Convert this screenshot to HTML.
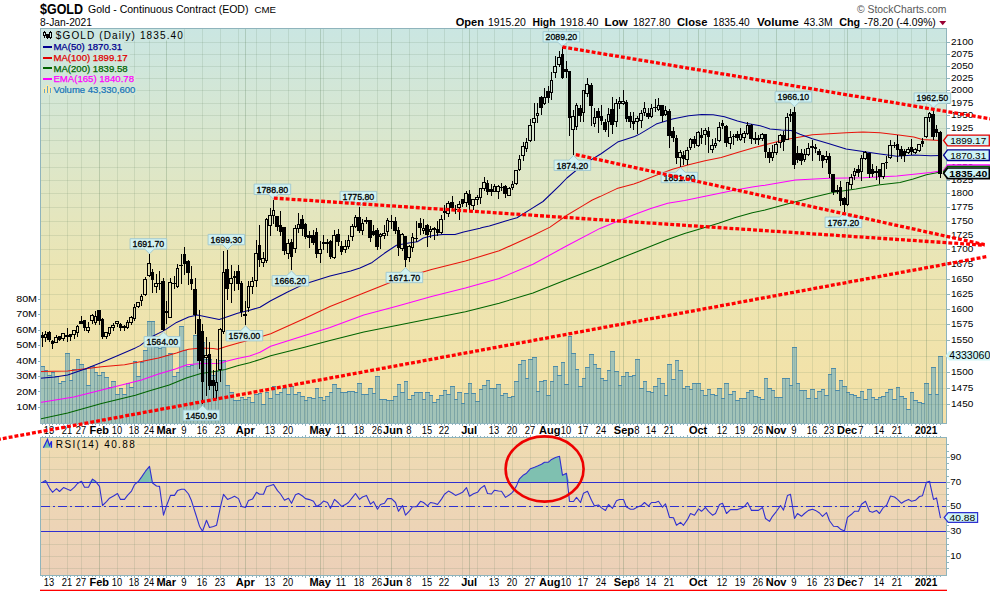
<!DOCTYPE html>
<html><head><meta charset="utf-8"><title>$GOLD</title>
<style>
html,body{margin:0;padding:0;background:#fff;}
body{width:990px;height:591px;overflow:hidden;font-family:"Liberation Sans",sans-serif;}
svg{display:block;font-family:"Liberation Sans",sans-serif;}
.b{font-weight:bold}
</style></head><body>
<svg width="990" height="591" viewBox="0 0 990 591">
<defs>
<linearGradient id="bg" gradientUnits="userSpaceOnUse" x1="0" y1="28" x2="0" y2="575">
<stop offset="0" stop-color="#cae6e2"/>
<stop offset="0.22" stop-color="#dbe7cc"/>
<stop offset="0.45" stop-color="#ece5b2"/>
<stop offset="0.70" stop-color="#f4e1a6"/>
<stop offset="0.745" stop-color="#efdcb0"/>
<stop offset="0.80" stop-color="#eed9b4"/>
<stop offset="1" stop-color="#ecd0b8"/>
</linearGradient>
<clipPath id="cm"><rect x="40" y="28" width="907" height="396"/></clipPath>
<clipPath id="cr"><rect x="40" y="437" width="907" height="139"/></clipPath>
</defs>
<rect x="0" y="0" width="990" height="591" fill="#ffffff"/>

<rect x="40" y="28" width="907" height="396" fill="url(#bg)"/>
<rect x="40" y="437" width="907" height="139" fill="url(#bg)"/>
<g shape-rendering="crispEdges" clip-path="url(#cm)">
<rect x="40" y="366" width="5" height="58" fill="#a2c3b8"/>
<rect x="44" y="370" width="4" height="54" fill="#a2c3b8"/>
<rect x="47" y="375" width="5" height="49" fill="#a2c3b8"/>
<rect x="51" y="372" width="4" height="52" fill="#a2c3b8"/>
<rect x="54" y="376" width="5" height="48" fill="#a2c3b8"/>
<rect x="58" y="383" width="4" height="41" fill="#a2c3b8"/>
<rect x="61" y="381" width="5" height="43" fill="#a2c3b8"/>
<rect x="65" y="353" width="5" height="71" fill="#a2c3b8"/>
<rect x="69" y="380" width="4" height="44" fill="#a2c3b8"/>
<rect x="72" y="369" width="5" height="55" fill="#a2c3b8"/>
<rect x="76" y="359" width="4" height="65" fill="#a2c3b8"/>
<rect x="79" y="364" width="5" height="60" fill="#a2c3b8"/>
<rect x="83" y="369" width="4" height="55" fill="#a2c3b8"/>
<rect x="86" y="385" width="5" height="39" fill="#a2c3b8"/>
<rect x="90" y="366" width="5" height="58" fill="#a2c3b8"/>
<rect x="94" y="372" width="4" height="52" fill="#a2c3b8"/>
<rect x="97" y="375" width="5" height="49" fill="#a2c3b8"/>
<rect x="101" y="372" width="4" height="52" fill="#a2c3b8"/>
<rect x="104" y="377" width="5" height="47" fill="#a2c3b8"/>
<rect x="108" y="387" width="4" height="37" fill="#a2c3b8"/>
<rect x="111" y="381" width="5" height="43" fill="#a2c3b8"/>
<rect x="115" y="394" width="5" height="30" fill="#a2c3b8"/>
<rect x="119" y="388" width="4" height="36" fill="#a2c3b8"/>
<rect x="122" y="394" width="5" height="30" fill="#a2c3b8"/>
<rect x="126" y="383" width="4" height="41" fill="#a2c3b8"/>
<rect x="129" y="387" width="5" height="37" fill="#a2c3b8"/>
<rect x="133" y="361" width="4" height="63" fill="#a2c3b8"/>
<rect x="136" y="376" width="5" height="48" fill="#a2c3b8"/>
<rect x="140" y="362" width="4" height="62" fill="#a2c3b8"/>
<rect x="143" y="350" width="5" height="74" fill="#a2c3b8"/>
<rect x="147" y="321" width="5" height="103" fill="#a2c3b8"/>
<rect x="151" y="321" width="4" height="103" fill="#a2c3b8"/>
<rect x="154" y="347" width="5" height="77" fill="#a2c3b8"/>
<rect x="158" y="348" width="4" height="76" fill="#a2c3b8"/>
<rect x="161" y="347" width="5" height="77" fill="#a2c3b8"/>
<rect x="165" y="355" width="4" height="69" fill="#a2c3b8"/>
<rect x="168" y="353" width="5" height="71" fill="#a2c3b8"/>
<rect x="172" y="376" width="5" height="48" fill="#a2c3b8"/>
<rect x="176" y="372" width="4" height="52" fill="#a2c3b8"/>
<rect x="179" y="326" width="5" height="98" fill="#a2c3b8"/>
<rect x="183" y="350" width="4" height="74" fill="#a2c3b8"/>
<rect x="186" y="366" width="5" height="58" fill="#a2c3b8"/>
<rect x="190" y="365" width="4" height="59" fill="#a2c3b8"/>
<rect x="193" y="335" width="5" height="89" fill="#a2c3b8"/>
<rect x="197" y="332" width="5" height="92" fill="#a2c3b8"/>
<rect x="201" y="342" width="4" height="82" fill="#a2c3b8"/>
<rect x="204" y="359" width="5" height="65" fill="#a2c3b8"/>
<rect x="208" y="359" width="4" height="65" fill="#a2c3b8"/>
<rect x="211" y="375" width="5" height="49" fill="#a2c3b8"/>
<rect x="215" y="371" width="4" height="53" fill="#a2c3b8"/>
<rect x="218" y="360" width="5" height="64" fill="#a2c3b8"/>
<rect x="222" y="360" width="4" height="64" fill="#a2c3b8"/>
<rect x="225" y="385" width="5" height="39" fill="#a2c3b8"/>
<rect x="229" y="392" width="5" height="32" fill="#a2c3b8"/>
<rect x="233" y="400" width="4" height="24" fill="#a2c3b8"/>
<rect x="236" y="400" width="5" height="24" fill="#a2c3b8"/>
<rect x="240" y="397" width="4" height="27" fill="#a2c3b8"/>
<rect x="243" y="399" width="5" height="25" fill="#a2c3b8"/>
<rect x="247" y="397" width="4" height="27" fill="#a2c3b8"/>
<rect x="250" y="402" width="5" height="22" fill="#a2c3b8"/>
<rect x="254" y="394" width="5" height="30" fill="#a2c3b8"/>
<rect x="258" y="393" width="4" height="31" fill="#a2c3b8"/>
<rect x="261" y="404" width="5" height="20" fill="#a2c3b8"/>
<rect x="265" y="392" width="4" height="32" fill="#a2c3b8"/>
<rect x="268" y="398" width="5" height="26" fill="#a2c3b8"/>
<rect x="272" y="386" width="4" height="38" fill="#a2c3b8"/>
<rect x="275" y="394" width="5" height="30" fill="#a2c3b8"/>
<rect x="279" y="392" width="4" height="32" fill="#a2c3b8"/>
<rect x="282" y="388" width="5" height="36" fill="#a2c3b8"/>
<rect x="286" y="394" width="5" height="30" fill="#a2c3b8"/>
<rect x="290" y="386" width="4" height="38" fill="#a2c3b8"/>
<rect x="293" y="394" width="5" height="30" fill="#a2c3b8"/>
<rect x="297" y="392" width="4" height="32" fill="#a2c3b8"/>
<rect x="300" y="396" width="5" height="28" fill="#a2c3b8"/>
<rect x="304" y="400" width="4" height="24" fill="#a2c3b8"/>
<rect x="307" y="397" width="5" height="27" fill="#a2c3b8"/>
<rect x="311" y="398" width="5" height="26" fill="#a2c3b8"/>
<rect x="315" y="388" width="4" height="36" fill="#a2c3b8"/>
<rect x="318" y="397" width="5" height="27" fill="#a2c3b8"/>
<rect x="322" y="400" width="4" height="24" fill="#a2c3b8"/>
<rect x="325" y="396" width="5" height="28" fill="#a2c3b8"/>
<rect x="329" y="392" width="4" height="32" fill="#a2c3b8"/>
<rect x="332" y="384" width="5" height="40" fill="#a2c3b8"/>
<rect x="336" y="388" width="5" height="36" fill="#a2c3b8"/>
<rect x="340" y="392" width="4" height="32" fill="#a2c3b8"/>
<rect x="343" y="392" width="5" height="32" fill="#a2c3b8"/>
<rect x="347" y="391" width="4" height="33" fill="#a2c3b8"/>
<rect x="350" y="391" width="5" height="33" fill="#a2c3b8"/>
<rect x="354" y="392" width="4" height="32" fill="#a2c3b8"/>
<rect x="357" y="383" width="5" height="41" fill="#a2c3b8"/>
<rect x="361" y="394" width="4" height="30" fill="#a2c3b8"/>
<rect x="364" y="394" width="5" height="30" fill="#a2c3b8"/>
<rect x="368" y="388" width="5" height="36" fill="#a2c3b8"/>
<rect x="372" y="393" width="4" height="31" fill="#a2c3b8"/>
<rect x="375" y="376" width="5" height="48" fill="#a2c3b8"/>
<rect x="379" y="399" width="4" height="25" fill="#a2c3b8"/>
<rect x="382" y="399" width="5" height="25" fill="#a2c3b8"/>
<rect x="386" y="400" width="4" height="24" fill="#a2c3b8"/>
<rect x="389" y="400" width="5" height="24" fill="#a2c3b8"/>
<rect x="393" y="396" width="5" height="28" fill="#a2c3b8"/>
<rect x="397" y="384" width="4" height="40" fill="#a2c3b8"/>
<rect x="400" y="392" width="5" height="32" fill="#a2c3b8"/>
<rect x="404" y="381" width="4" height="43" fill="#a2c3b8"/>
<rect x="407" y="399" width="5" height="25" fill="#a2c3b8"/>
<rect x="411" y="395" width="4" height="29" fill="#a2c3b8"/>
<rect x="414" y="392" width="5" height="32" fill="#a2c3b8"/>
<rect x="418" y="392" width="5" height="32" fill="#a2c3b8"/>
<rect x="422" y="399" width="4" height="25" fill="#a2c3b8"/>
<rect x="425" y="392" width="5" height="32" fill="#a2c3b8"/>
<rect x="429" y="395" width="4" height="29" fill="#a2c3b8"/>
<rect x="432" y="402" width="5" height="22" fill="#a2c3b8"/>
<rect x="436" y="399" width="4" height="25" fill="#a2c3b8"/>
<rect x="439" y="395" width="5" height="29" fill="#a2c3b8"/>
<rect x="443" y="390" width="4" height="34" fill="#a2c3b8"/>
<rect x="446" y="394" width="5" height="30" fill="#a2c3b8"/>
<rect x="450" y="386" width="5" height="38" fill="#a2c3b8"/>
<rect x="454" y="399" width="4" height="25" fill="#a2c3b8"/>
<rect x="457" y="392" width="5" height="32" fill="#a2c3b8"/>
<rect x="461" y="403" width="4" height="21" fill="#a2c3b8"/>
<rect x="464" y="393" width="5" height="31" fill="#a2c3b8"/>
<rect x="468" y="383" width="4" height="41" fill="#a2c3b8"/>
<rect x="471" y="393" width="5" height="31" fill="#a2c3b8"/>
<rect x="475" y="401" width="5" height="23" fill="#a2c3b8"/>
<rect x="479" y="389" width="4" height="35" fill="#a2c3b8"/>
<rect x="482" y="385" width="5" height="39" fill="#a2c3b8"/>
<rect x="486" y="380" width="4" height="44" fill="#a2c3b8"/>
<rect x="489" y="388" width="5" height="36" fill="#a2c3b8"/>
<rect x="493" y="388" width="4" height="36" fill="#a2c3b8"/>
<rect x="496" y="384" width="5" height="40" fill="#a2c3b8"/>
<rect x="500" y="395" width="4" height="29" fill="#a2c3b8"/>
<rect x="503" y="393" width="5" height="31" fill="#a2c3b8"/>
<rect x="507" y="397" width="5" height="27" fill="#a2c3b8"/>
<rect x="511" y="396" width="4" height="28" fill="#a2c3b8"/>
<rect x="514" y="381" width="5" height="43" fill="#a2c3b8"/>
<rect x="518" y="364" width="4" height="60" fill="#a2c3b8"/>
<rect x="521" y="360" width="5" height="64" fill="#a2c3b8"/>
<rect x="525" y="378" width="4" height="46" fill="#a2c3b8"/>
<rect x="528" y="359" width="5" height="65" fill="#a2c3b8"/>
<rect x="532" y="357" width="5" height="67" fill="#a2c3b8"/>
<rect x="536" y="391" width="4" height="33" fill="#a2c3b8"/>
<rect x="539" y="381" width="5" height="43" fill="#a2c3b8"/>
<rect x="543" y="380" width="4" height="44" fill="#a2c3b8"/>
<rect x="546" y="395" width="5" height="29" fill="#a2c3b8"/>
<rect x="550" y="381" width="4" height="43" fill="#a2c3b8"/>
<rect x="553" y="366" width="5" height="58" fill="#a2c3b8"/>
<rect x="557" y="375" width="5" height="49" fill="#a2c3b8"/>
<rect x="561" y="362" width="4" height="62" fill="#a2c3b8"/>
<rect x="564" y="384" width="5" height="40" fill="#a2c3b8"/>
<rect x="568" y="336" width="4" height="88" fill="#a2c3b8"/>
<rect x="571" y="353" width="5" height="71" fill="#a2c3b8"/>
<rect x="575" y="369" width="4" height="55" fill="#a2c3b8"/>
<rect x="578" y="386" width="5" height="38" fill="#a2c3b8"/>
<rect x="582" y="378" width="4" height="46" fill="#a2c3b8"/>
<rect x="585" y="367" width="5" height="57" fill="#a2c3b8"/>
<rect x="589" y="354" width="5" height="70" fill="#a2c3b8"/>
<rect x="593" y="364" width="4" height="60" fill="#a2c3b8"/>
<rect x="596" y="368" width="5" height="56" fill="#a2c3b8"/>
<rect x="600" y="378" width="4" height="46" fill="#a2c3b8"/>
<rect x="603" y="380" width="5" height="44" fill="#a2c3b8"/>
<rect x="607" y="370" width="4" height="54" fill="#a2c3b8"/>
<rect x="610" y="351" width="5" height="73" fill="#a2c3b8"/>
<rect x="614" y="371" width="5" height="53" fill="#a2c3b8"/>
<rect x="618" y="385" width="4" height="39" fill="#a2c3b8"/>
<rect x="621" y="376" width="5" height="48" fill="#a2c3b8"/>
<rect x="625" y="372" width="4" height="52" fill="#a2c3b8"/>
<rect x="628" y="376" width="5" height="48" fill="#a2c3b8"/>
<rect x="632" y="375" width="4" height="49" fill="#a2c3b8"/>
<rect x="635" y="359" width="5" height="65" fill="#a2c3b8"/>
<rect x="639" y="388" width="5" height="36" fill="#a2c3b8"/>
<rect x="643" y="381" width="4" height="43" fill="#a2c3b8"/>
<rect x="646" y="391" width="5" height="33" fill="#a2c3b8"/>
<rect x="650" y="392" width="4" height="32" fill="#a2c3b8"/>
<rect x="653" y="386" width="5" height="38" fill="#a2c3b8"/>
<rect x="657" y="378" width="4" height="46" fill="#a2c3b8"/>
<rect x="660" y="383" width="5" height="41" fill="#a2c3b8"/>
<rect x="664" y="395" width="4" height="29" fill="#a2c3b8"/>
<rect x="667" y="364" width="5" height="60" fill="#a2c3b8"/>
<rect x="671" y="379" width="5" height="45" fill="#a2c3b8"/>
<rect x="675" y="360" width="4" height="64" fill="#a2c3b8"/>
<rect x="678" y="370" width="5" height="54" fill="#a2c3b8"/>
<rect x="682" y="388" width="4" height="36" fill="#a2c3b8"/>
<rect x="685" y="386" width="5" height="38" fill="#a2c3b8"/>
<rect x="689" y="389" width="4" height="35" fill="#a2c3b8"/>
<rect x="692" y="383" width="5" height="41" fill="#a2c3b8"/>
<rect x="696" y="383" width="5" height="41" fill="#a2c3b8"/>
<rect x="700" y="390" width="4" height="34" fill="#a2c3b8"/>
<rect x="703" y="395" width="5" height="29" fill="#a2c3b8"/>
<rect x="707" y="389" width="4" height="35" fill="#a2c3b8"/>
<rect x="710" y="394" width="5" height="30" fill="#a2c3b8"/>
<rect x="714" y="395" width="4" height="29" fill="#a2c3b8"/>
<rect x="717" y="388" width="5" height="36" fill="#a2c3b8"/>
<rect x="721" y="398" width="4" height="26" fill="#a2c3b8"/>
<rect x="724" y="383" width="5" height="41" fill="#a2c3b8"/>
<rect x="728" y="394" width="5" height="30" fill="#a2c3b8"/>
<rect x="732" y="391" width="4" height="33" fill="#a2c3b8"/>
<rect x="735" y="400" width="5" height="24" fill="#a2c3b8"/>
<rect x="739" y="398" width="4" height="26" fill="#a2c3b8"/>
<rect x="742" y="398" width="5" height="26" fill="#a2c3b8"/>
<rect x="746" y="392" width="4" height="32" fill="#a2c3b8"/>
<rect x="749" y="390" width="5" height="34" fill="#a2c3b8"/>
<rect x="753" y="396" width="5" height="28" fill="#a2c3b8"/>
<rect x="757" y="397" width="4" height="27" fill="#a2c3b8"/>
<rect x="760" y="399" width="5" height="25" fill="#a2c3b8"/>
<rect x="764" y="378" width="4" height="46" fill="#a2c3b8"/>
<rect x="767" y="388" width="5" height="36" fill="#a2c3b8"/>
<rect x="771" y="390" width="4" height="34" fill="#a2c3b8"/>
<rect x="774" y="397" width="5" height="27" fill="#a2c3b8"/>
<rect x="778" y="397" width="5" height="27" fill="#a2c3b8"/>
<rect x="782" y="378" width="4" height="46" fill="#a2c3b8"/>
<rect x="785" y="378" width="5" height="46" fill="#a2c3b8"/>
<rect x="789" y="385" width="4" height="39" fill="#a2c3b8"/>
<rect x="792" y="347" width="5" height="77" fill="#a2c3b8"/>
<rect x="796" y="383" width="4" height="41" fill="#a2c3b8"/>
<rect x="799" y="390" width="5" height="34" fill="#a2c3b8"/>
<rect x="803" y="390" width="4" height="34" fill="#a2c3b8"/>
<rect x="806" y="398" width="5" height="26" fill="#a2c3b8"/>
<rect x="810" y="389" width="5" height="35" fill="#a2c3b8"/>
<rect x="814" y="398" width="4" height="26" fill="#a2c3b8"/>
<rect x="817" y="391" width="5" height="33" fill="#a2c3b8"/>
<rect x="821" y="389" width="4" height="35" fill="#a2c3b8"/>
<rect x="824" y="395" width="5" height="29" fill="#a2c3b8"/>
<rect x="828" y="374" width="4" height="50" fill="#a2c3b8"/>
<rect x="831" y="368" width="5" height="56" fill="#a2c3b8"/>
<rect x="835" y="390" width="5" height="34" fill="#a2c3b8"/>
<rect x="839" y="380" width="4" height="44" fill="#a2c3b8"/>
<rect x="842" y="386" width="5" height="38" fill="#a2c3b8"/>
<rect x="846" y="392" width="4" height="32" fill="#a2c3b8"/>
<rect x="849" y="394" width="5" height="30" fill="#a2c3b8"/>
<rect x="853" y="395" width="4" height="29" fill="#a2c3b8"/>
<rect x="856" y="397" width="5" height="27" fill="#a2c3b8"/>
<rect x="860" y="391" width="4" height="33" fill="#a2c3b8"/>
<rect x="863" y="399" width="5" height="25" fill="#a2c3b8"/>
<rect x="867" y="389" width="5" height="35" fill="#a2c3b8"/>
<rect x="871" y="397" width="4" height="27" fill="#a2c3b8"/>
<rect x="874" y="399" width="5" height="25" fill="#a2c3b8"/>
<rect x="878" y="397" width="4" height="27" fill="#a2c3b8"/>
<rect x="881" y="396" width="5" height="28" fill="#a2c3b8"/>
<rect x="885" y="392" width="4" height="32" fill="#a2c3b8"/>
<rect x="888" y="389" width="5" height="35" fill="#a2c3b8"/>
<rect x="892" y="399" width="5" height="25" fill="#a2c3b8"/>
<rect x="896" y="387" width="4" height="37" fill="#a2c3b8"/>
<rect x="899" y="396" width="5" height="28" fill="#a2c3b8"/>
<rect x="903" y="398" width="4" height="26" fill="#a2c3b8"/>
<rect x="906" y="409" width="5" height="15" fill="#a2c3b8"/>
<rect x="910" y="392" width="4" height="32" fill="#a2c3b8"/>
<rect x="913" y="400" width="5" height="24" fill="#a2c3b8"/>
<rect x="917" y="402" width="5" height="22" fill="#a2c3b8"/>
<rect x="921" y="403" width="4" height="21" fill="#a2c3b8"/>
<rect x="924" y="383" width="5" height="41" fill="#a2c3b8"/>
<rect x="928" y="394" width="4" height="30" fill="#a2c3b8"/>
<rect x="931" y="367" width="5" height="57" fill="#a2c3b8"/>
<rect x="935" y="394" width="4" height="30" fill="#a2c3b8"/>
<rect x="938" y="356" width="5" height="68" fill="#a2c3b8"/>
<rect x="40" y="366" width="1" height="58" fill="#7da5a6"/>
<rect x="44" y="366" width="1" height="58" fill="#7da5a6"/>
<rect x="44" y="370" width="1" height="54" fill="#7da5a6"/>
<rect x="47" y="370" width="1" height="54" fill="#7da5a6"/>
<rect x="47" y="375" width="1" height="49" fill="#7da5a6"/>
<rect x="51" y="375" width="1" height="49" fill="#7da5a6"/>
<rect x="51" y="372" width="1" height="52" fill="#7da5a6"/>
<rect x="54" y="372" width="1" height="52" fill="#7da5a6"/>
<rect x="54" y="376" width="1" height="48" fill="#7da5a6"/>
<rect x="58" y="376" width="1" height="48" fill="#7da5a6"/>
<rect x="58" y="383" width="1" height="41" fill="#7da5a6"/>
<rect x="61" y="383" width="1" height="41" fill="#7da5a6"/>
<rect x="61" y="381" width="1" height="43" fill="#7da5a6"/>
<rect x="65" y="381" width="1" height="43" fill="#7da5a6"/>
<rect x="65" y="353" width="1" height="71" fill="#7da5a6"/>
<rect x="69" y="353" width="1" height="71" fill="#7da5a6"/>
<rect x="69" y="380" width="1" height="44" fill="#7da5a6"/>
<rect x="72" y="380" width="1" height="44" fill="#7da5a6"/>
<rect x="72" y="369" width="1" height="55" fill="#7da5a6"/>
<rect x="76" y="369" width="1" height="55" fill="#7da5a6"/>
<rect x="76" y="359" width="1" height="65" fill="#7da5a6"/>
<rect x="79" y="359" width="1" height="65" fill="#7da5a6"/>
<rect x="79" y="364" width="1" height="60" fill="#7da5a6"/>
<rect x="83" y="364" width="1" height="60" fill="#7da5a6"/>
<rect x="83" y="369" width="1" height="55" fill="#7da5a6"/>
<rect x="86" y="369" width="1" height="55" fill="#7da5a6"/>
<rect x="86" y="385" width="1" height="39" fill="#7da5a6"/>
<rect x="90" y="385" width="1" height="39" fill="#7da5a6"/>
<rect x="90" y="366" width="1" height="58" fill="#7da5a6"/>
<rect x="94" y="366" width="1" height="58" fill="#7da5a6"/>
<rect x="94" y="372" width="1" height="52" fill="#7da5a6"/>
<rect x="97" y="372" width="1" height="52" fill="#7da5a6"/>
<rect x="97" y="375" width="1" height="49" fill="#7da5a6"/>
<rect x="101" y="375" width="1" height="49" fill="#7da5a6"/>
<rect x="101" y="372" width="1" height="52" fill="#7da5a6"/>
<rect x="104" y="372" width="1" height="52" fill="#7da5a6"/>
<rect x="104" y="377" width="1" height="47" fill="#7da5a6"/>
<rect x="108" y="377" width="1" height="47" fill="#7da5a6"/>
<rect x="108" y="387" width="1" height="37" fill="#7da5a6"/>
<rect x="111" y="387" width="1" height="37" fill="#7da5a6"/>
<rect x="111" y="381" width="1" height="43" fill="#7da5a6"/>
<rect x="115" y="381" width="1" height="43" fill="#7da5a6"/>
<rect x="115" y="394" width="1" height="30" fill="#7da5a6"/>
<rect x="119" y="394" width="1" height="30" fill="#7da5a6"/>
<rect x="119" y="388" width="1" height="36" fill="#7da5a6"/>
<rect x="122" y="388" width="1" height="36" fill="#7da5a6"/>
<rect x="122" y="394" width="1" height="30" fill="#7da5a6"/>
<rect x="126" y="394" width="1" height="30" fill="#7da5a6"/>
<rect x="126" y="383" width="1" height="41" fill="#7da5a6"/>
<rect x="129" y="383" width="1" height="41" fill="#7da5a6"/>
<rect x="129" y="387" width="1" height="37" fill="#7da5a6"/>
<rect x="133" y="387" width="1" height="37" fill="#7da5a6"/>
<rect x="133" y="361" width="1" height="63" fill="#7da5a6"/>
<rect x="136" y="361" width="1" height="63" fill="#7da5a6"/>
<rect x="136" y="376" width="1" height="48" fill="#7da5a6"/>
<rect x="140" y="376" width="1" height="48" fill="#7da5a6"/>
<rect x="140" y="362" width="1" height="62" fill="#7da5a6"/>
<rect x="143" y="362" width="1" height="62" fill="#7da5a6"/>
<rect x="143" y="350" width="1" height="74" fill="#7da5a6"/>
<rect x="147" y="350" width="1" height="74" fill="#7da5a6"/>
<rect x="147" y="321" width="1" height="103" fill="#7da5a6"/>
<rect x="151" y="321" width="1" height="103" fill="#7da5a6"/>
<rect x="151" y="321" width="1" height="103" fill="#7da5a6"/>
<rect x="154" y="321" width="1" height="103" fill="#7da5a6"/>
<rect x="154" y="347" width="1" height="77" fill="#7da5a6"/>
<rect x="158" y="347" width="1" height="77" fill="#7da5a6"/>
<rect x="158" y="348" width="1" height="76" fill="#7da5a6"/>
<rect x="161" y="348" width="1" height="76" fill="#7da5a6"/>
<rect x="161" y="347" width="1" height="77" fill="#7da5a6"/>
<rect x="165" y="347" width="1" height="77" fill="#7da5a6"/>
<rect x="165" y="355" width="1" height="69" fill="#7da5a6"/>
<rect x="168" y="355" width="1" height="69" fill="#7da5a6"/>
<rect x="168" y="353" width="1" height="71" fill="#7da5a6"/>
<rect x="172" y="353" width="1" height="71" fill="#7da5a6"/>
<rect x="172" y="376" width="1" height="48" fill="#7da5a6"/>
<rect x="176" y="376" width="1" height="48" fill="#7da5a6"/>
<rect x="176" y="372" width="1" height="52" fill="#7da5a6"/>
<rect x="179" y="372" width="1" height="52" fill="#7da5a6"/>
<rect x="179" y="326" width="1" height="98" fill="#7da5a6"/>
<rect x="183" y="326" width="1" height="98" fill="#7da5a6"/>
<rect x="183" y="350" width="1" height="74" fill="#7da5a6"/>
<rect x="186" y="350" width="1" height="74" fill="#7da5a6"/>
<rect x="186" y="366" width="1" height="58" fill="#7da5a6"/>
<rect x="190" y="366" width="1" height="58" fill="#7da5a6"/>
<rect x="190" y="365" width="1" height="59" fill="#7da5a6"/>
<rect x="193" y="365" width="1" height="59" fill="#7da5a6"/>
<rect x="193" y="335" width="1" height="89" fill="#7da5a6"/>
<rect x="197" y="335" width="1" height="89" fill="#7da5a6"/>
<rect x="197" y="332" width="1" height="92" fill="#7da5a6"/>
<rect x="201" y="332" width="1" height="92" fill="#7da5a6"/>
<rect x="201" y="342" width="1" height="82" fill="#7da5a6"/>
<rect x="204" y="342" width="1" height="82" fill="#7da5a6"/>
<rect x="204" y="359" width="1" height="65" fill="#7da5a6"/>
<rect x="208" y="359" width="1" height="65" fill="#7da5a6"/>
<rect x="208" y="359" width="1" height="65" fill="#7da5a6"/>
<rect x="211" y="359" width="1" height="65" fill="#7da5a6"/>
<rect x="211" y="375" width="1" height="49" fill="#7da5a6"/>
<rect x="215" y="375" width="1" height="49" fill="#7da5a6"/>
<rect x="215" y="371" width="1" height="53" fill="#7da5a6"/>
<rect x="218" y="371" width="1" height="53" fill="#7da5a6"/>
<rect x="218" y="360" width="1" height="64" fill="#7da5a6"/>
<rect x="222" y="360" width="1" height="64" fill="#7da5a6"/>
<rect x="222" y="360" width="1" height="64" fill="#7da5a6"/>
<rect x="225" y="360" width="1" height="64" fill="#7da5a6"/>
<rect x="225" y="385" width="1" height="39" fill="#7da5a6"/>
<rect x="229" y="385" width="1" height="39" fill="#7da5a6"/>
<rect x="229" y="392" width="1" height="32" fill="#7da5a6"/>
<rect x="233" y="392" width="1" height="32" fill="#7da5a6"/>
<rect x="233" y="400" width="1" height="24" fill="#7da5a6"/>
<rect x="236" y="400" width="1" height="24" fill="#7da5a6"/>
<rect x="236" y="400" width="1" height="24" fill="#7da5a6"/>
<rect x="240" y="400" width="1" height="24" fill="#7da5a6"/>
<rect x="240" y="397" width="1" height="27" fill="#7da5a6"/>
<rect x="243" y="397" width="1" height="27" fill="#7da5a6"/>
<rect x="243" y="399" width="1" height="25" fill="#7da5a6"/>
<rect x="247" y="399" width="1" height="25" fill="#7da5a6"/>
<rect x="247" y="397" width="1" height="27" fill="#7da5a6"/>
<rect x="250" y="397" width="1" height="27" fill="#7da5a6"/>
<rect x="250" y="402" width="1" height="22" fill="#7da5a6"/>
<rect x="254" y="402" width="1" height="22" fill="#7da5a6"/>
<rect x="254" y="394" width="1" height="30" fill="#7da5a6"/>
<rect x="258" y="394" width="1" height="30" fill="#7da5a6"/>
<rect x="258" y="393" width="1" height="31" fill="#7da5a6"/>
<rect x="261" y="393" width="1" height="31" fill="#7da5a6"/>
<rect x="261" y="404" width="1" height="20" fill="#7da5a6"/>
<rect x="265" y="404" width="1" height="20" fill="#7da5a6"/>
<rect x="265" y="392" width="1" height="32" fill="#7da5a6"/>
<rect x="268" y="392" width="1" height="32" fill="#7da5a6"/>
<rect x="268" y="398" width="1" height="26" fill="#7da5a6"/>
<rect x="272" y="398" width="1" height="26" fill="#7da5a6"/>
<rect x="272" y="386" width="1" height="38" fill="#7da5a6"/>
<rect x="275" y="386" width="1" height="38" fill="#7da5a6"/>
<rect x="275" y="394" width="1" height="30" fill="#7da5a6"/>
<rect x="279" y="394" width="1" height="30" fill="#7da5a6"/>
<rect x="279" y="392" width="1" height="32" fill="#7da5a6"/>
<rect x="282" y="392" width="1" height="32" fill="#7da5a6"/>
<rect x="282" y="388" width="1" height="36" fill="#7da5a6"/>
<rect x="286" y="388" width="1" height="36" fill="#7da5a6"/>
<rect x="286" y="394" width="1" height="30" fill="#7da5a6"/>
<rect x="290" y="394" width="1" height="30" fill="#7da5a6"/>
<rect x="290" y="386" width="1" height="38" fill="#7da5a6"/>
<rect x="293" y="386" width="1" height="38" fill="#7da5a6"/>
<rect x="293" y="394" width="1" height="30" fill="#7da5a6"/>
<rect x="297" y="394" width="1" height="30" fill="#7da5a6"/>
<rect x="297" y="392" width="1" height="32" fill="#7da5a6"/>
<rect x="300" y="392" width="1" height="32" fill="#7da5a6"/>
<rect x="300" y="396" width="1" height="28" fill="#7da5a6"/>
<rect x="304" y="396" width="1" height="28" fill="#7da5a6"/>
<rect x="304" y="400" width="1" height="24" fill="#7da5a6"/>
<rect x="307" y="400" width="1" height="24" fill="#7da5a6"/>
<rect x="307" y="397" width="1" height="27" fill="#7da5a6"/>
<rect x="311" y="397" width="1" height="27" fill="#7da5a6"/>
<rect x="311" y="398" width="1" height="26" fill="#7da5a6"/>
<rect x="315" y="398" width="1" height="26" fill="#7da5a6"/>
<rect x="315" y="388" width="1" height="36" fill="#7da5a6"/>
<rect x="318" y="388" width="1" height="36" fill="#7da5a6"/>
<rect x="318" y="397" width="1" height="27" fill="#7da5a6"/>
<rect x="322" y="397" width="1" height="27" fill="#7da5a6"/>
<rect x="322" y="400" width="1" height="24" fill="#7da5a6"/>
<rect x="325" y="400" width="1" height="24" fill="#7da5a6"/>
<rect x="325" y="396" width="1" height="28" fill="#7da5a6"/>
<rect x="329" y="396" width="1" height="28" fill="#7da5a6"/>
<rect x="329" y="392" width="1" height="32" fill="#7da5a6"/>
<rect x="332" y="392" width="1" height="32" fill="#7da5a6"/>
<rect x="332" y="384" width="1" height="40" fill="#7da5a6"/>
<rect x="336" y="384" width="1" height="40" fill="#7da5a6"/>
<rect x="336" y="388" width="1" height="36" fill="#7da5a6"/>
<rect x="340" y="388" width="1" height="36" fill="#7da5a6"/>
<rect x="340" y="392" width="1" height="32" fill="#7da5a6"/>
<rect x="343" y="392" width="1" height="32" fill="#7da5a6"/>
<rect x="343" y="392" width="1" height="32" fill="#7da5a6"/>
<rect x="347" y="392" width="1" height="32" fill="#7da5a6"/>
<rect x="347" y="391" width="1" height="33" fill="#7da5a6"/>
<rect x="350" y="391" width="1" height="33" fill="#7da5a6"/>
<rect x="350" y="391" width="1" height="33" fill="#7da5a6"/>
<rect x="354" y="391" width="1" height="33" fill="#7da5a6"/>
<rect x="354" y="392" width="1" height="32" fill="#7da5a6"/>
<rect x="357" y="392" width="1" height="32" fill="#7da5a6"/>
<rect x="357" y="383" width="1" height="41" fill="#7da5a6"/>
<rect x="361" y="383" width="1" height="41" fill="#7da5a6"/>
<rect x="361" y="394" width="1" height="30" fill="#7da5a6"/>
<rect x="364" y="394" width="1" height="30" fill="#7da5a6"/>
<rect x="364" y="394" width="1" height="30" fill="#7da5a6"/>
<rect x="368" y="394" width="1" height="30" fill="#7da5a6"/>
<rect x="368" y="388" width="1" height="36" fill="#7da5a6"/>
<rect x="372" y="388" width="1" height="36" fill="#7da5a6"/>
<rect x="372" y="393" width="1" height="31" fill="#7da5a6"/>
<rect x="375" y="393" width="1" height="31" fill="#7da5a6"/>
<rect x="375" y="376" width="1" height="48" fill="#7da5a6"/>
<rect x="379" y="376" width="1" height="48" fill="#7da5a6"/>
<rect x="379" y="399" width="1" height="25" fill="#7da5a6"/>
<rect x="382" y="399" width="1" height="25" fill="#7da5a6"/>
<rect x="382" y="399" width="1" height="25" fill="#7da5a6"/>
<rect x="386" y="399" width="1" height="25" fill="#7da5a6"/>
<rect x="386" y="400" width="1" height="24" fill="#7da5a6"/>
<rect x="389" y="400" width="1" height="24" fill="#7da5a6"/>
<rect x="389" y="400" width="1" height="24" fill="#7da5a6"/>
<rect x="393" y="400" width="1" height="24" fill="#7da5a6"/>
<rect x="393" y="396" width="1" height="28" fill="#7da5a6"/>
<rect x="397" y="396" width="1" height="28" fill="#7da5a6"/>
<rect x="397" y="384" width="1" height="40" fill="#7da5a6"/>
<rect x="400" y="384" width="1" height="40" fill="#7da5a6"/>
<rect x="400" y="392" width="1" height="32" fill="#7da5a6"/>
<rect x="404" y="392" width="1" height="32" fill="#7da5a6"/>
<rect x="404" y="381" width="1" height="43" fill="#7da5a6"/>
<rect x="407" y="381" width="1" height="43" fill="#7da5a6"/>
<rect x="407" y="399" width="1" height="25" fill="#7da5a6"/>
<rect x="411" y="399" width="1" height="25" fill="#7da5a6"/>
<rect x="411" y="395" width="1" height="29" fill="#7da5a6"/>
<rect x="414" y="395" width="1" height="29" fill="#7da5a6"/>
<rect x="414" y="392" width="1" height="32" fill="#7da5a6"/>
<rect x="418" y="392" width="1" height="32" fill="#7da5a6"/>
<rect x="418" y="392" width="1" height="32" fill="#7da5a6"/>
<rect x="422" y="392" width="1" height="32" fill="#7da5a6"/>
<rect x="422" y="399" width="1" height="25" fill="#7da5a6"/>
<rect x="425" y="399" width="1" height="25" fill="#7da5a6"/>
<rect x="425" y="392" width="1" height="32" fill="#7da5a6"/>
<rect x="429" y="392" width="1" height="32" fill="#7da5a6"/>
<rect x="429" y="395" width="1" height="29" fill="#7da5a6"/>
<rect x="432" y="395" width="1" height="29" fill="#7da5a6"/>
<rect x="432" y="402" width="1" height="22" fill="#7da5a6"/>
<rect x="436" y="402" width="1" height="22" fill="#7da5a6"/>
<rect x="436" y="399" width="1" height="25" fill="#7da5a6"/>
<rect x="439" y="399" width="1" height="25" fill="#7da5a6"/>
<rect x="439" y="395" width="1" height="29" fill="#7da5a6"/>
<rect x="443" y="395" width="1" height="29" fill="#7da5a6"/>
<rect x="443" y="390" width="1" height="34" fill="#7da5a6"/>
<rect x="446" y="390" width="1" height="34" fill="#7da5a6"/>
<rect x="446" y="394" width="1" height="30" fill="#7da5a6"/>
<rect x="450" y="394" width="1" height="30" fill="#7da5a6"/>
<rect x="450" y="386" width="1" height="38" fill="#7da5a6"/>
<rect x="454" y="386" width="1" height="38" fill="#7da5a6"/>
<rect x="454" y="399" width="1" height="25" fill="#7da5a6"/>
<rect x="457" y="399" width="1" height="25" fill="#7da5a6"/>
<rect x="457" y="392" width="1" height="32" fill="#7da5a6"/>
<rect x="461" y="392" width="1" height="32" fill="#7da5a6"/>
<rect x="461" y="403" width="1" height="21" fill="#7da5a6"/>
<rect x="464" y="403" width="1" height="21" fill="#7da5a6"/>
<rect x="464" y="393" width="1" height="31" fill="#7da5a6"/>
<rect x="468" y="393" width="1" height="31" fill="#7da5a6"/>
<rect x="468" y="383" width="1" height="41" fill="#7da5a6"/>
<rect x="471" y="383" width="1" height="41" fill="#7da5a6"/>
<rect x="471" y="393" width="1" height="31" fill="#7da5a6"/>
<rect x="475" y="393" width="1" height="31" fill="#7da5a6"/>
<rect x="475" y="401" width="1" height="23" fill="#7da5a6"/>
<rect x="479" y="401" width="1" height="23" fill="#7da5a6"/>
<rect x="479" y="389" width="1" height="35" fill="#7da5a6"/>
<rect x="482" y="389" width="1" height="35" fill="#7da5a6"/>
<rect x="482" y="385" width="1" height="39" fill="#7da5a6"/>
<rect x="486" y="385" width="1" height="39" fill="#7da5a6"/>
<rect x="486" y="380" width="1" height="44" fill="#7da5a6"/>
<rect x="489" y="380" width="1" height="44" fill="#7da5a6"/>
<rect x="489" y="388" width="1" height="36" fill="#7da5a6"/>
<rect x="493" y="388" width="1" height="36" fill="#7da5a6"/>
<rect x="493" y="388" width="1" height="36" fill="#7da5a6"/>
<rect x="496" y="388" width="1" height="36" fill="#7da5a6"/>
<rect x="496" y="384" width="1" height="40" fill="#7da5a6"/>
<rect x="500" y="384" width="1" height="40" fill="#7da5a6"/>
<rect x="500" y="395" width="1" height="29" fill="#7da5a6"/>
<rect x="503" y="395" width="1" height="29" fill="#7da5a6"/>
<rect x="503" y="393" width="1" height="31" fill="#7da5a6"/>
<rect x="507" y="393" width="1" height="31" fill="#7da5a6"/>
<rect x="507" y="397" width="1" height="27" fill="#7da5a6"/>
<rect x="511" y="397" width="1" height="27" fill="#7da5a6"/>
<rect x="511" y="396" width="1" height="28" fill="#7da5a6"/>
<rect x="514" y="396" width="1" height="28" fill="#7da5a6"/>
<rect x="514" y="381" width="1" height="43" fill="#7da5a6"/>
<rect x="518" y="381" width="1" height="43" fill="#7da5a6"/>
<rect x="518" y="364" width="1" height="60" fill="#7da5a6"/>
<rect x="521" y="364" width="1" height="60" fill="#7da5a6"/>
<rect x="521" y="360" width="1" height="64" fill="#7da5a6"/>
<rect x="525" y="360" width="1" height="64" fill="#7da5a6"/>
<rect x="525" y="378" width="1" height="46" fill="#7da5a6"/>
<rect x="528" y="378" width="1" height="46" fill="#7da5a6"/>
<rect x="528" y="359" width="1" height="65" fill="#7da5a6"/>
<rect x="532" y="359" width="1" height="65" fill="#7da5a6"/>
<rect x="532" y="357" width="1" height="67" fill="#7da5a6"/>
<rect x="536" y="357" width="1" height="67" fill="#7da5a6"/>
<rect x="536" y="391" width="1" height="33" fill="#7da5a6"/>
<rect x="539" y="391" width="1" height="33" fill="#7da5a6"/>
<rect x="539" y="381" width="1" height="43" fill="#7da5a6"/>
<rect x="543" y="381" width="1" height="43" fill="#7da5a6"/>
<rect x="543" y="380" width="1" height="44" fill="#7da5a6"/>
<rect x="546" y="380" width="1" height="44" fill="#7da5a6"/>
<rect x="546" y="395" width="1" height="29" fill="#7da5a6"/>
<rect x="550" y="395" width="1" height="29" fill="#7da5a6"/>
<rect x="550" y="381" width="1" height="43" fill="#7da5a6"/>
<rect x="553" y="381" width="1" height="43" fill="#7da5a6"/>
<rect x="553" y="366" width="1" height="58" fill="#7da5a6"/>
<rect x="557" y="366" width="1" height="58" fill="#7da5a6"/>
<rect x="557" y="375" width="1" height="49" fill="#7da5a6"/>
<rect x="561" y="375" width="1" height="49" fill="#7da5a6"/>
<rect x="561" y="362" width="1" height="62" fill="#7da5a6"/>
<rect x="564" y="362" width="1" height="62" fill="#7da5a6"/>
<rect x="564" y="384" width="1" height="40" fill="#7da5a6"/>
<rect x="568" y="384" width="1" height="40" fill="#7da5a6"/>
<rect x="568" y="336" width="1" height="88" fill="#7da5a6"/>
<rect x="571" y="336" width="1" height="88" fill="#7da5a6"/>
<rect x="571" y="353" width="1" height="71" fill="#7da5a6"/>
<rect x="575" y="353" width="1" height="71" fill="#7da5a6"/>
<rect x="575" y="369" width="1" height="55" fill="#7da5a6"/>
<rect x="578" y="369" width="1" height="55" fill="#7da5a6"/>
<rect x="578" y="386" width="1" height="38" fill="#7da5a6"/>
<rect x="582" y="386" width="1" height="38" fill="#7da5a6"/>
<rect x="582" y="378" width="1" height="46" fill="#7da5a6"/>
<rect x="585" y="378" width="1" height="46" fill="#7da5a6"/>
<rect x="585" y="367" width="1" height="57" fill="#7da5a6"/>
<rect x="589" y="367" width="1" height="57" fill="#7da5a6"/>
<rect x="589" y="354" width="1" height="70" fill="#7da5a6"/>
<rect x="593" y="354" width="1" height="70" fill="#7da5a6"/>
<rect x="593" y="364" width="1" height="60" fill="#7da5a6"/>
<rect x="596" y="364" width="1" height="60" fill="#7da5a6"/>
<rect x="596" y="368" width="1" height="56" fill="#7da5a6"/>
<rect x="600" y="368" width="1" height="56" fill="#7da5a6"/>
<rect x="600" y="378" width="1" height="46" fill="#7da5a6"/>
<rect x="603" y="378" width="1" height="46" fill="#7da5a6"/>
<rect x="603" y="380" width="1" height="44" fill="#7da5a6"/>
<rect x="607" y="380" width="1" height="44" fill="#7da5a6"/>
<rect x="607" y="370" width="1" height="54" fill="#7da5a6"/>
<rect x="610" y="370" width="1" height="54" fill="#7da5a6"/>
<rect x="610" y="351" width="1" height="73" fill="#7da5a6"/>
<rect x="614" y="351" width="1" height="73" fill="#7da5a6"/>
<rect x="614" y="371" width="1" height="53" fill="#7da5a6"/>
<rect x="618" y="371" width="1" height="53" fill="#7da5a6"/>
<rect x="618" y="385" width="1" height="39" fill="#7da5a6"/>
<rect x="621" y="385" width="1" height="39" fill="#7da5a6"/>
<rect x="621" y="376" width="1" height="48" fill="#7da5a6"/>
<rect x="625" y="376" width="1" height="48" fill="#7da5a6"/>
<rect x="625" y="372" width="1" height="52" fill="#7da5a6"/>
<rect x="628" y="372" width="1" height="52" fill="#7da5a6"/>
<rect x="628" y="376" width="1" height="48" fill="#7da5a6"/>
<rect x="632" y="376" width="1" height="48" fill="#7da5a6"/>
<rect x="632" y="375" width="1" height="49" fill="#7da5a6"/>
<rect x="635" y="375" width="1" height="49" fill="#7da5a6"/>
<rect x="635" y="359" width="1" height="65" fill="#7da5a6"/>
<rect x="639" y="359" width="1" height="65" fill="#7da5a6"/>
<rect x="639" y="388" width="1" height="36" fill="#7da5a6"/>
<rect x="643" y="388" width="1" height="36" fill="#7da5a6"/>
<rect x="643" y="381" width="1" height="43" fill="#7da5a6"/>
<rect x="646" y="381" width="1" height="43" fill="#7da5a6"/>
<rect x="646" y="391" width="1" height="33" fill="#7da5a6"/>
<rect x="650" y="391" width="1" height="33" fill="#7da5a6"/>
<rect x="650" y="392" width="1" height="32" fill="#7da5a6"/>
<rect x="653" y="392" width="1" height="32" fill="#7da5a6"/>
<rect x="653" y="386" width="1" height="38" fill="#7da5a6"/>
<rect x="657" y="386" width="1" height="38" fill="#7da5a6"/>
<rect x="657" y="378" width="1" height="46" fill="#7da5a6"/>
<rect x="660" y="378" width="1" height="46" fill="#7da5a6"/>
<rect x="660" y="383" width="1" height="41" fill="#7da5a6"/>
<rect x="664" y="383" width="1" height="41" fill="#7da5a6"/>
<rect x="664" y="395" width="1" height="29" fill="#7da5a6"/>
<rect x="667" y="395" width="1" height="29" fill="#7da5a6"/>
<rect x="667" y="364" width="1" height="60" fill="#7da5a6"/>
<rect x="671" y="364" width="1" height="60" fill="#7da5a6"/>
<rect x="671" y="379" width="1" height="45" fill="#7da5a6"/>
<rect x="675" y="379" width="1" height="45" fill="#7da5a6"/>
<rect x="675" y="360" width="1" height="64" fill="#7da5a6"/>
<rect x="678" y="360" width="1" height="64" fill="#7da5a6"/>
<rect x="678" y="370" width="1" height="54" fill="#7da5a6"/>
<rect x="682" y="370" width="1" height="54" fill="#7da5a6"/>
<rect x="682" y="388" width="1" height="36" fill="#7da5a6"/>
<rect x="685" y="388" width="1" height="36" fill="#7da5a6"/>
<rect x="685" y="386" width="1" height="38" fill="#7da5a6"/>
<rect x="689" y="386" width="1" height="38" fill="#7da5a6"/>
<rect x="689" y="389" width="1" height="35" fill="#7da5a6"/>
<rect x="692" y="389" width="1" height="35" fill="#7da5a6"/>
<rect x="692" y="383" width="1" height="41" fill="#7da5a6"/>
<rect x="696" y="383" width="1" height="41" fill="#7da5a6"/>
<rect x="696" y="383" width="1" height="41" fill="#7da5a6"/>
<rect x="700" y="383" width="1" height="41" fill="#7da5a6"/>
<rect x="700" y="390" width="1" height="34" fill="#7da5a6"/>
<rect x="703" y="390" width="1" height="34" fill="#7da5a6"/>
<rect x="703" y="395" width="1" height="29" fill="#7da5a6"/>
<rect x="707" y="395" width="1" height="29" fill="#7da5a6"/>
<rect x="707" y="389" width="1" height="35" fill="#7da5a6"/>
<rect x="710" y="389" width="1" height="35" fill="#7da5a6"/>
<rect x="710" y="394" width="1" height="30" fill="#7da5a6"/>
<rect x="714" y="394" width="1" height="30" fill="#7da5a6"/>
<rect x="714" y="395" width="1" height="29" fill="#7da5a6"/>
<rect x="717" y="395" width="1" height="29" fill="#7da5a6"/>
<rect x="717" y="388" width="1" height="36" fill="#7da5a6"/>
<rect x="721" y="388" width="1" height="36" fill="#7da5a6"/>
<rect x="721" y="398" width="1" height="26" fill="#7da5a6"/>
<rect x="724" y="398" width="1" height="26" fill="#7da5a6"/>
<rect x="724" y="383" width="1" height="41" fill="#7da5a6"/>
<rect x="728" y="383" width="1" height="41" fill="#7da5a6"/>
<rect x="728" y="394" width="1" height="30" fill="#7da5a6"/>
<rect x="732" y="394" width="1" height="30" fill="#7da5a6"/>
<rect x="732" y="391" width="1" height="33" fill="#7da5a6"/>
<rect x="735" y="391" width="1" height="33" fill="#7da5a6"/>
<rect x="735" y="400" width="1" height="24" fill="#7da5a6"/>
<rect x="739" y="400" width="1" height="24" fill="#7da5a6"/>
<rect x="739" y="398" width="1" height="26" fill="#7da5a6"/>
<rect x="742" y="398" width="1" height="26" fill="#7da5a6"/>
<rect x="742" y="398" width="1" height="26" fill="#7da5a6"/>
<rect x="746" y="398" width="1" height="26" fill="#7da5a6"/>
<rect x="746" y="392" width="1" height="32" fill="#7da5a6"/>
<rect x="749" y="392" width="1" height="32" fill="#7da5a6"/>
<rect x="749" y="390" width="1" height="34" fill="#7da5a6"/>
<rect x="753" y="390" width="1" height="34" fill="#7da5a6"/>
<rect x="753" y="396" width="1" height="28" fill="#7da5a6"/>
<rect x="757" y="396" width="1" height="28" fill="#7da5a6"/>
<rect x="757" y="397" width="1" height="27" fill="#7da5a6"/>
<rect x="760" y="397" width="1" height="27" fill="#7da5a6"/>
<rect x="760" y="399" width="1" height="25" fill="#7da5a6"/>
<rect x="764" y="399" width="1" height="25" fill="#7da5a6"/>
<rect x="764" y="378" width="1" height="46" fill="#7da5a6"/>
<rect x="767" y="378" width="1" height="46" fill="#7da5a6"/>
<rect x="767" y="388" width="1" height="36" fill="#7da5a6"/>
<rect x="771" y="388" width="1" height="36" fill="#7da5a6"/>
<rect x="771" y="390" width="1" height="34" fill="#7da5a6"/>
<rect x="774" y="390" width="1" height="34" fill="#7da5a6"/>
<rect x="774" y="397" width="1" height="27" fill="#7da5a6"/>
<rect x="778" y="397" width="1" height="27" fill="#7da5a6"/>
<rect x="778" y="397" width="1" height="27" fill="#7da5a6"/>
<rect x="782" y="397" width="1" height="27" fill="#7da5a6"/>
<rect x="782" y="378" width="1" height="46" fill="#7da5a6"/>
<rect x="785" y="378" width="1" height="46" fill="#7da5a6"/>
<rect x="785" y="378" width="1" height="46" fill="#7da5a6"/>
<rect x="789" y="378" width="1" height="46" fill="#7da5a6"/>
<rect x="789" y="385" width="1" height="39" fill="#7da5a6"/>
<rect x="792" y="385" width="1" height="39" fill="#7da5a6"/>
<rect x="792" y="347" width="1" height="77" fill="#7da5a6"/>
<rect x="796" y="347" width="1" height="77" fill="#7da5a6"/>
<rect x="796" y="383" width="1" height="41" fill="#7da5a6"/>
<rect x="799" y="383" width="1" height="41" fill="#7da5a6"/>
<rect x="799" y="390" width="1" height="34" fill="#7da5a6"/>
<rect x="803" y="390" width="1" height="34" fill="#7da5a6"/>
<rect x="803" y="390" width="1" height="34" fill="#7da5a6"/>
<rect x="806" y="390" width="1" height="34" fill="#7da5a6"/>
<rect x="806" y="398" width="1" height="26" fill="#7da5a6"/>
<rect x="810" y="398" width="1" height="26" fill="#7da5a6"/>
<rect x="810" y="389" width="1" height="35" fill="#7da5a6"/>
<rect x="814" y="389" width="1" height="35" fill="#7da5a6"/>
<rect x="814" y="398" width="1" height="26" fill="#7da5a6"/>
<rect x="817" y="398" width="1" height="26" fill="#7da5a6"/>
<rect x="817" y="391" width="1" height="33" fill="#7da5a6"/>
<rect x="821" y="391" width="1" height="33" fill="#7da5a6"/>
<rect x="821" y="389" width="1" height="35" fill="#7da5a6"/>
<rect x="824" y="389" width="1" height="35" fill="#7da5a6"/>
<rect x="824" y="395" width="1" height="29" fill="#7da5a6"/>
<rect x="828" y="395" width="1" height="29" fill="#7da5a6"/>
<rect x="828" y="374" width="1" height="50" fill="#7da5a6"/>
<rect x="831" y="374" width="1" height="50" fill="#7da5a6"/>
<rect x="831" y="368" width="1" height="56" fill="#7da5a6"/>
<rect x="835" y="368" width="1" height="56" fill="#7da5a6"/>
<rect x="835" y="390" width="1" height="34" fill="#7da5a6"/>
<rect x="839" y="390" width="1" height="34" fill="#7da5a6"/>
<rect x="839" y="380" width="1" height="44" fill="#7da5a6"/>
<rect x="842" y="380" width="1" height="44" fill="#7da5a6"/>
<rect x="842" y="386" width="1" height="38" fill="#7da5a6"/>
<rect x="846" y="386" width="1" height="38" fill="#7da5a6"/>
<rect x="846" y="392" width="1" height="32" fill="#7da5a6"/>
<rect x="849" y="392" width="1" height="32" fill="#7da5a6"/>
<rect x="849" y="394" width="1" height="30" fill="#7da5a6"/>
<rect x="853" y="394" width="1" height="30" fill="#7da5a6"/>
<rect x="853" y="395" width="1" height="29" fill="#7da5a6"/>
<rect x="856" y="395" width="1" height="29" fill="#7da5a6"/>
<rect x="856" y="397" width="1" height="27" fill="#7da5a6"/>
<rect x="860" y="397" width="1" height="27" fill="#7da5a6"/>
<rect x="860" y="391" width="1" height="33" fill="#7da5a6"/>
<rect x="863" y="391" width="1" height="33" fill="#7da5a6"/>
<rect x="863" y="399" width="1" height="25" fill="#7da5a6"/>
<rect x="867" y="399" width="1" height="25" fill="#7da5a6"/>
<rect x="867" y="389" width="1" height="35" fill="#7da5a6"/>
<rect x="871" y="389" width="1" height="35" fill="#7da5a6"/>
<rect x="871" y="397" width="1" height="27" fill="#7da5a6"/>
<rect x="874" y="397" width="1" height="27" fill="#7da5a6"/>
<rect x="874" y="399" width="1" height="25" fill="#7da5a6"/>
<rect x="878" y="399" width="1" height="25" fill="#7da5a6"/>
<rect x="878" y="397" width="1" height="27" fill="#7da5a6"/>
<rect x="881" y="397" width="1" height="27" fill="#7da5a6"/>
<rect x="881" y="396" width="1" height="28" fill="#7da5a6"/>
<rect x="885" y="396" width="1" height="28" fill="#7da5a6"/>
<rect x="885" y="392" width="1" height="32" fill="#7da5a6"/>
<rect x="888" y="392" width="1" height="32" fill="#7da5a6"/>
<rect x="888" y="389" width="1" height="35" fill="#7da5a6"/>
<rect x="892" y="389" width="1" height="35" fill="#7da5a6"/>
<rect x="892" y="399" width="1" height="25" fill="#7da5a6"/>
<rect x="896" y="399" width="1" height="25" fill="#7da5a6"/>
<rect x="896" y="387" width="1" height="37" fill="#7da5a6"/>
<rect x="899" y="387" width="1" height="37" fill="#7da5a6"/>
<rect x="899" y="396" width="1" height="28" fill="#7da5a6"/>
<rect x="903" y="396" width="1" height="28" fill="#7da5a6"/>
<rect x="903" y="398" width="1" height="26" fill="#7da5a6"/>
<rect x="906" y="398" width="1" height="26" fill="#7da5a6"/>
<rect x="906" y="409" width="1" height="15" fill="#7da5a6"/>
<rect x="910" y="409" width="1" height="15" fill="#7da5a6"/>
<rect x="910" y="392" width="1" height="32" fill="#7da5a6"/>
<rect x="913" y="392" width="1" height="32" fill="#7da5a6"/>
<rect x="913" y="400" width="1" height="24" fill="#7da5a6"/>
<rect x="917" y="400" width="1" height="24" fill="#7da5a6"/>
<rect x="917" y="402" width="1" height="22" fill="#7da5a6"/>
<rect x="921" y="402" width="1" height="22" fill="#7da5a6"/>
<rect x="921" y="403" width="1" height="21" fill="#7da5a6"/>
<rect x="924" y="403" width="1" height="21" fill="#7da5a6"/>
<rect x="924" y="383" width="1" height="41" fill="#7da5a6"/>
<rect x="928" y="383" width="1" height="41" fill="#7da5a6"/>
<rect x="928" y="394" width="1" height="30" fill="#7da5a6"/>
<rect x="931" y="394" width="1" height="30" fill="#7da5a6"/>
<rect x="931" y="367" width="1" height="57" fill="#7da5a6"/>
<rect x="935" y="367" width="1" height="57" fill="#7da5a6"/>
<rect x="935" y="394" width="1" height="30" fill="#7da5a6"/>
<rect x="938" y="394" width="1" height="30" fill="#7da5a6"/>
<rect x="938" y="356" width="1" height="68" fill="#7da5a6"/>
<rect x="942" y="356" width="1" height="68" fill="#7da5a6"/>
<rect x="40" y="366" width="5" height="1" fill="#4d8ba8"/>
<rect x="44" y="370" width="4" height="1" fill="#4d8ba8"/>
<rect x="47" y="375" width="5" height="1" fill="#4d8ba8"/>
<rect x="51" y="372" width="4" height="1" fill="#4d8ba8"/>
<rect x="54" y="376" width="5" height="1" fill="#4d8ba8"/>
<rect x="58" y="383" width="4" height="1" fill="#4d8ba8"/>
<rect x="61" y="381" width="5" height="1" fill="#4d8ba8"/>
<rect x="65" y="353" width="5" height="1" fill="#4d8ba8"/>
<rect x="69" y="380" width="4" height="1" fill="#4d8ba8"/>
<rect x="72" y="369" width="5" height="1" fill="#4d8ba8"/>
<rect x="76" y="359" width="4" height="1" fill="#4d8ba8"/>
<rect x="79" y="364" width="5" height="1" fill="#4d8ba8"/>
<rect x="83" y="369" width="4" height="1" fill="#4d8ba8"/>
<rect x="86" y="385" width="5" height="1" fill="#4d8ba8"/>
<rect x="90" y="366" width="5" height="1" fill="#4d8ba8"/>
<rect x="94" y="372" width="4" height="1" fill="#4d8ba8"/>
<rect x="97" y="375" width="5" height="1" fill="#4d8ba8"/>
<rect x="101" y="372" width="4" height="1" fill="#4d8ba8"/>
<rect x="104" y="377" width="5" height="1" fill="#4d8ba8"/>
<rect x="108" y="387" width="4" height="1" fill="#4d8ba8"/>
<rect x="111" y="381" width="5" height="1" fill="#4d8ba8"/>
<rect x="115" y="394" width="5" height="1" fill="#4d8ba8"/>
<rect x="119" y="388" width="4" height="1" fill="#4d8ba8"/>
<rect x="122" y="394" width="5" height="1" fill="#4d8ba8"/>
<rect x="126" y="383" width="4" height="1" fill="#4d8ba8"/>
<rect x="129" y="387" width="5" height="1" fill="#4d8ba8"/>
<rect x="133" y="361" width="4" height="1" fill="#4d8ba8"/>
<rect x="136" y="376" width="5" height="1" fill="#4d8ba8"/>
<rect x="140" y="362" width="4" height="1" fill="#4d8ba8"/>
<rect x="143" y="350" width="5" height="1" fill="#4d8ba8"/>
<rect x="147" y="321" width="5" height="1" fill="#4d8ba8"/>
<rect x="151" y="321" width="4" height="1" fill="#4d8ba8"/>
<rect x="154" y="347" width="5" height="1" fill="#4d8ba8"/>
<rect x="158" y="348" width="4" height="1" fill="#4d8ba8"/>
<rect x="161" y="347" width="5" height="1" fill="#4d8ba8"/>
<rect x="165" y="355" width="4" height="1" fill="#4d8ba8"/>
<rect x="168" y="353" width="5" height="1" fill="#4d8ba8"/>
<rect x="172" y="376" width="5" height="1" fill="#4d8ba8"/>
<rect x="176" y="372" width="4" height="1" fill="#4d8ba8"/>
<rect x="179" y="326" width="5" height="1" fill="#4d8ba8"/>
<rect x="183" y="350" width="4" height="1" fill="#4d8ba8"/>
<rect x="186" y="366" width="5" height="1" fill="#4d8ba8"/>
<rect x="190" y="365" width="4" height="1" fill="#4d8ba8"/>
<rect x="193" y="335" width="5" height="1" fill="#4d8ba8"/>
<rect x="197" y="332" width="5" height="1" fill="#4d8ba8"/>
<rect x="201" y="342" width="4" height="1" fill="#4d8ba8"/>
<rect x="204" y="359" width="5" height="1" fill="#4d8ba8"/>
<rect x="208" y="359" width="4" height="1" fill="#4d8ba8"/>
<rect x="211" y="375" width="5" height="1" fill="#4d8ba8"/>
<rect x="215" y="371" width="4" height="1" fill="#4d8ba8"/>
<rect x="218" y="360" width="5" height="1" fill="#4d8ba8"/>
<rect x="222" y="360" width="4" height="1" fill="#4d8ba8"/>
<rect x="225" y="385" width="5" height="1" fill="#4d8ba8"/>
<rect x="229" y="392" width="5" height="1" fill="#4d8ba8"/>
<rect x="233" y="400" width="4" height="1" fill="#4d8ba8"/>
<rect x="236" y="400" width="5" height="1" fill="#4d8ba8"/>
<rect x="240" y="397" width="4" height="1" fill="#4d8ba8"/>
<rect x="243" y="399" width="5" height="1" fill="#4d8ba8"/>
<rect x="247" y="397" width="4" height="1" fill="#4d8ba8"/>
<rect x="250" y="402" width="5" height="1" fill="#4d8ba8"/>
<rect x="254" y="394" width="5" height="1" fill="#4d8ba8"/>
<rect x="258" y="393" width="4" height="1" fill="#4d8ba8"/>
<rect x="261" y="404" width="5" height="1" fill="#4d8ba8"/>
<rect x="265" y="392" width="4" height="1" fill="#4d8ba8"/>
<rect x="268" y="398" width="5" height="1" fill="#4d8ba8"/>
<rect x="272" y="386" width="4" height="1" fill="#4d8ba8"/>
<rect x="275" y="394" width="5" height="1" fill="#4d8ba8"/>
<rect x="279" y="392" width="4" height="1" fill="#4d8ba8"/>
<rect x="282" y="388" width="5" height="1" fill="#4d8ba8"/>
<rect x="286" y="394" width="5" height="1" fill="#4d8ba8"/>
<rect x="290" y="386" width="4" height="1" fill="#4d8ba8"/>
<rect x="293" y="394" width="5" height="1" fill="#4d8ba8"/>
<rect x="297" y="392" width="4" height="1" fill="#4d8ba8"/>
<rect x="300" y="396" width="5" height="1" fill="#4d8ba8"/>
<rect x="304" y="400" width="4" height="1" fill="#4d8ba8"/>
<rect x="307" y="397" width="5" height="1" fill="#4d8ba8"/>
<rect x="311" y="398" width="5" height="1" fill="#4d8ba8"/>
<rect x="315" y="388" width="4" height="1" fill="#4d8ba8"/>
<rect x="318" y="397" width="5" height="1" fill="#4d8ba8"/>
<rect x="322" y="400" width="4" height="1" fill="#4d8ba8"/>
<rect x="325" y="396" width="5" height="1" fill="#4d8ba8"/>
<rect x="329" y="392" width="4" height="1" fill="#4d8ba8"/>
<rect x="332" y="384" width="5" height="1" fill="#4d8ba8"/>
<rect x="336" y="388" width="5" height="1" fill="#4d8ba8"/>
<rect x="340" y="392" width="4" height="1" fill="#4d8ba8"/>
<rect x="343" y="392" width="5" height="1" fill="#4d8ba8"/>
<rect x="347" y="391" width="4" height="1" fill="#4d8ba8"/>
<rect x="350" y="391" width="5" height="1" fill="#4d8ba8"/>
<rect x="354" y="392" width="4" height="1" fill="#4d8ba8"/>
<rect x="357" y="383" width="5" height="1" fill="#4d8ba8"/>
<rect x="361" y="394" width="4" height="1" fill="#4d8ba8"/>
<rect x="364" y="394" width="5" height="1" fill="#4d8ba8"/>
<rect x="368" y="388" width="5" height="1" fill="#4d8ba8"/>
<rect x="372" y="393" width="4" height="1" fill="#4d8ba8"/>
<rect x="375" y="376" width="5" height="1" fill="#4d8ba8"/>
<rect x="379" y="399" width="4" height="1" fill="#4d8ba8"/>
<rect x="382" y="399" width="5" height="1" fill="#4d8ba8"/>
<rect x="386" y="400" width="4" height="1" fill="#4d8ba8"/>
<rect x="389" y="400" width="5" height="1" fill="#4d8ba8"/>
<rect x="393" y="396" width="5" height="1" fill="#4d8ba8"/>
<rect x="397" y="384" width="4" height="1" fill="#4d8ba8"/>
<rect x="400" y="392" width="5" height="1" fill="#4d8ba8"/>
<rect x="404" y="381" width="4" height="1" fill="#4d8ba8"/>
<rect x="407" y="399" width="5" height="1" fill="#4d8ba8"/>
<rect x="411" y="395" width="4" height="1" fill="#4d8ba8"/>
<rect x="414" y="392" width="5" height="1" fill="#4d8ba8"/>
<rect x="418" y="392" width="5" height="1" fill="#4d8ba8"/>
<rect x="422" y="399" width="4" height="1" fill="#4d8ba8"/>
<rect x="425" y="392" width="5" height="1" fill="#4d8ba8"/>
<rect x="429" y="395" width="4" height="1" fill="#4d8ba8"/>
<rect x="432" y="402" width="5" height="1" fill="#4d8ba8"/>
<rect x="436" y="399" width="4" height="1" fill="#4d8ba8"/>
<rect x="439" y="395" width="5" height="1" fill="#4d8ba8"/>
<rect x="443" y="390" width="4" height="1" fill="#4d8ba8"/>
<rect x="446" y="394" width="5" height="1" fill="#4d8ba8"/>
<rect x="450" y="386" width="5" height="1" fill="#4d8ba8"/>
<rect x="454" y="399" width="4" height="1" fill="#4d8ba8"/>
<rect x="457" y="392" width="5" height="1" fill="#4d8ba8"/>
<rect x="461" y="403" width="4" height="1" fill="#4d8ba8"/>
<rect x="464" y="393" width="5" height="1" fill="#4d8ba8"/>
<rect x="468" y="383" width="4" height="1" fill="#4d8ba8"/>
<rect x="471" y="393" width="5" height="1" fill="#4d8ba8"/>
<rect x="475" y="401" width="5" height="1" fill="#4d8ba8"/>
<rect x="479" y="389" width="4" height="1" fill="#4d8ba8"/>
<rect x="482" y="385" width="5" height="1" fill="#4d8ba8"/>
<rect x="486" y="380" width="4" height="1" fill="#4d8ba8"/>
<rect x="489" y="388" width="5" height="1" fill="#4d8ba8"/>
<rect x="493" y="388" width="4" height="1" fill="#4d8ba8"/>
<rect x="496" y="384" width="5" height="1" fill="#4d8ba8"/>
<rect x="500" y="395" width="4" height="1" fill="#4d8ba8"/>
<rect x="503" y="393" width="5" height="1" fill="#4d8ba8"/>
<rect x="507" y="397" width="5" height="1" fill="#4d8ba8"/>
<rect x="511" y="396" width="4" height="1" fill="#4d8ba8"/>
<rect x="514" y="381" width="5" height="1" fill="#4d8ba8"/>
<rect x="518" y="364" width="4" height="1" fill="#4d8ba8"/>
<rect x="521" y="360" width="5" height="1" fill="#4d8ba8"/>
<rect x="525" y="378" width="4" height="1" fill="#4d8ba8"/>
<rect x="528" y="359" width="5" height="1" fill="#4d8ba8"/>
<rect x="532" y="357" width="5" height="1" fill="#4d8ba8"/>
<rect x="536" y="391" width="4" height="1" fill="#4d8ba8"/>
<rect x="539" y="381" width="5" height="1" fill="#4d8ba8"/>
<rect x="543" y="380" width="4" height="1" fill="#4d8ba8"/>
<rect x="546" y="395" width="5" height="1" fill="#4d8ba8"/>
<rect x="550" y="381" width="4" height="1" fill="#4d8ba8"/>
<rect x="553" y="366" width="5" height="1" fill="#4d8ba8"/>
<rect x="557" y="375" width="5" height="1" fill="#4d8ba8"/>
<rect x="561" y="362" width="4" height="1" fill="#4d8ba8"/>
<rect x="564" y="384" width="5" height="1" fill="#4d8ba8"/>
<rect x="568" y="336" width="4" height="1" fill="#4d8ba8"/>
<rect x="571" y="353" width="5" height="1" fill="#4d8ba8"/>
<rect x="575" y="369" width="4" height="1" fill="#4d8ba8"/>
<rect x="578" y="386" width="5" height="1" fill="#4d8ba8"/>
<rect x="582" y="378" width="4" height="1" fill="#4d8ba8"/>
<rect x="585" y="367" width="5" height="1" fill="#4d8ba8"/>
<rect x="589" y="354" width="5" height="1" fill="#4d8ba8"/>
<rect x="593" y="364" width="4" height="1" fill="#4d8ba8"/>
<rect x="596" y="368" width="5" height="1" fill="#4d8ba8"/>
<rect x="600" y="378" width="4" height="1" fill="#4d8ba8"/>
<rect x="603" y="380" width="5" height="1" fill="#4d8ba8"/>
<rect x="607" y="370" width="4" height="1" fill="#4d8ba8"/>
<rect x="610" y="351" width="5" height="1" fill="#4d8ba8"/>
<rect x="614" y="371" width="5" height="1" fill="#4d8ba8"/>
<rect x="618" y="385" width="4" height="1" fill="#4d8ba8"/>
<rect x="621" y="376" width="5" height="1" fill="#4d8ba8"/>
<rect x="625" y="372" width="4" height="1" fill="#4d8ba8"/>
<rect x="628" y="376" width="5" height="1" fill="#4d8ba8"/>
<rect x="632" y="375" width="4" height="1" fill="#4d8ba8"/>
<rect x="635" y="359" width="5" height="1" fill="#4d8ba8"/>
<rect x="639" y="388" width="5" height="1" fill="#4d8ba8"/>
<rect x="643" y="381" width="4" height="1" fill="#4d8ba8"/>
<rect x="646" y="391" width="5" height="1" fill="#4d8ba8"/>
<rect x="650" y="392" width="4" height="1" fill="#4d8ba8"/>
<rect x="653" y="386" width="5" height="1" fill="#4d8ba8"/>
<rect x="657" y="378" width="4" height="1" fill="#4d8ba8"/>
<rect x="660" y="383" width="5" height="1" fill="#4d8ba8"/>
<rect x="664" y="395" width="4" height="1" fill="#4d8ba8"/>
<rect x="667" y="364" width="5" height="1" fill="#4d8ba8"/>
<rect x="671" y="379" width="5" height="1" fill="#4d8ba8"/>
<rect x="675" y="360" width="4" height="1" fill="#4d8ba8"/>
<rect x="678" y="370" width="5" height="1" fill="#4d8ba8"/>
<rect x="682" y="388" width="4" height="1" fill="#4d8ba8"/>
<rect x="685" y="386" width="5" height="1" fill="#4d8ba8"/>
<rect x="689" y="389" width="4" height="1" fill="#4d8ba8"/>
<rect x="692" y="383" width="5" height="1" fill="#4d8ba8"/>
<rect x="696" y="383" width="5" height="1" fill="#4d8ba8"/>
<rect x="700" y="390" width="4" height="1" fill="#4d8ba8"/>
<rect x="703" y="395" width="5" height="1" fill="#4d8ba8"/>
<rect x="707" y="389" width="4" height="1" fill="#4d8ba8"/>
<rect x="710" y="394" width="5" height="1" fill="#4d8ba8"/>
<rect x="714" y="395" width="4" height="1" fill="#4d8ba8"/>
<rect x="717" y="388" width="5" height="1" fill="#4d8ba8"/>
<rect x="721" y="398" width="4" height="1" fill="#4d8ba8"/>
<rect x="724" y="383" width="5" height="1" fill="#4d8ba8"/>
<rect x="728" y="394" width="5" height="1" fill="#4d8ba8"/>
<rect x="732" y="391" width="4" height="1" fill="#4d8ba8"/>
<rect x="735" y="400" width="5" height="1" fill="#4d8ba8"/>
<rect x="739" y="398" width="4" height="1" fill="#4d8ba8"/>
<rect x="742" y="398" width="5" height="1" fill="#4d8ba8"/>
<rect x="746" y="392" width="4" height="1" fill="#4d8ba8"/>
<rect x="749" y="390" width="5" height="1" fill="#4d8ba8"/>
<rect x="753" y="396" width="5" height="1" fill="#4d8ba8"/>
<rect x="757" y="397" width="4" height="1" fill="#4d8ba8"/>
<rect x="760" y="399" width="5" height="1" fill="#4d8ba8"/>
<rect x="764" y="378" width="4" height="1" fill="#4d8ba8"/>
<rect x="767" y="388" width="5" height="1" fill="#4d8ba8"/>
<rect x="771" y="390" width="4" height="1" fill="#4d8ba8"/>
<rect x="774" y="397" width="5" height="1" fill="#4d8ba8"/>
<rect x="778" y="397" width="5" height="1" fill="#4d8ba8"/>
<rect x="782" y="378" width="4" height="1" fill="#4d8ba8"/>
<rect x="785" y="378" width="5" height="1" fill="#4d8ba8"/>
<rect x="789" y="385" width="4" height="1" fill="#4d8ba8"/>
<rect x="792" y="347" width="5" height="1" fill="#4d8ba8"/>
<rect x="796" y="383" width="4" height="1" fill="#4d8ba8"/>
<rect x="799" y="390" width="5" height="1" fill="#4d8ba8"/>
<rect x="803" y="390" width="4" height="1" fill="#4d8ba8"/>
<rect x="806" y="398" width="5" height="1" fill="#4d8ba8"/>
<rect x="810" y="389" width="5" height="1" fill="#4d8ba8"/>
<rect x="814" y="398" width="4" height="1" fill="#4d8ba8"/>
<rect x="817" y="391" width="5" height="1" fill="#4d8ba8"/>
<rect x="821" y="389" width="4" height="1" fill="#4d8ba8"/>
<rect x="824" y="395" width="5" height="1" fill="#4d8ba8"/>
<rect x="828" y="374" width="4" height="1" fill="#4d8ba8"/>
<rect x="831" y="368" width="5" height="1" fill="#4d8ba8"/>
<rect x="835" y="390" width="5" height="1" fill="#4d8ba8"/>
<rect x="839" y="380" width="4" height="1" fill="#4d8ba8"/>
<rect x="842" y="386" width="5" height="1" fill="#4d8ba8"/>
<rect x="846" y="392" width="4" height="1" fill="#4d8ba8"/>
<rect x="849" y="394" width="5" height="1" fill="#4d8ba8"/>
<rect x="853" y="395" width="4" height="1" fill="#4d8ba8"/>
<rect x="856" y="397" width="5" height="1" fill="#4d8ba8"/>
<rect x="860" y="391" width="4" height="1" fill="#4d8ba8"/>
<rect x="863" y="399" width="5" height="1" fill="#4d8ba8"/>
<rect x="867" y="389" width="5" height="1" fill="#4d8ba8"/>
<rect x="871" y="397" width="4" height="1" fill="#4d8ba8"/>
<rect x="874" y="399" width="5" height="1" fill="#4d8ba8"/>
<rect x="878" y="397" width="4" height="1" fill="#4d8ba8"/>
<rect x="881" y="396" width="5" height="1" fill="#4d8ba8"/>
<rect x="885" y="392" width="4" height="1" fill="#4d8ba8"/>
<rect x="888" y="389" width="5" height="1" fill="#4d8ba8"/>
<rect x="892" y="399" width="5" height="1" fill="#4d8ba8"/>
<rect x="896" y="387" width="4" height="1" fill="#4d8ba8"/>
<rect x="899" y="396" width="5" height="1" fill="#4d8ba8"/>
<rect x="903" y="398" width="4" height="1" fill="#4d8ba8"/>
<rect x="906" y="409" width="5" height="1" fill="#4d8ba8"/>
<rect x="910" y="392" width="4" height="1" fill="#4d8ba8"/>
<rect x="913" y="400" width="5" height="1" fill="#4d8ba8"/>
<rect x="917" y="402" width="5" height="1" fill="#4d8ba8"/>
<rect x="921" y="403" width="4" height="1" fill="#4d8ba8"/>
<rect x="924" y="383" width="5" height="1" fill="#4d8ba8"/>
<rect x="928" y="394" width="4" height="1" fill="#4d8ba8"/>
<rect x="931" y="367" width="5" height="1" fill="#4d8ba8"/>
<rect x="935" y="394" width="4" height="1" fill="#4d8ba8"/>
<rect x="938" y="356" width="5" height="1" fill="#4d8ba8"/>
</g>
<g shape-rendering="crispEdges" stroke="#5a7d5a" stroke-width="1">
<line x1="49.5" y1="29" x2="49.5" y2="423" stroke-opacity="0.145"/>
<line x1="49.5" y1="438" x2="49.5" y2="575" stroke-opacity="0.145"/>
<line x1="67.5" y1="29" x2="67.5" y2="423" stroke-opacity="0.145"/>
<line x1="67.5" y1="438" x2="67.5" y2="575" stroke-opacity="0.145"/>
<line x1="81.5" y1="29" x2="81.5" y2="423" stroke-opacity="0.145"/>
<line x1="81.5" y1="438" x2="81.5" y2="575" stroke-opacity="0.145"/>
<line x1="99.5" y1="29" x2="99.5" y2="423" stroke-opacity="0.27"/>
<line x1="99.5" y1="438" x2="99.5" y2="575" stroke-opacity="0.27"/>
<line x1="117.5" y1="29" x2="117.5" y2="423" stroke-opacity="0.145"/>
<line x1="117.5" y1="438" x2="117.5" y2="575" stroke-opacity="0.145"/>
<line x1="134.5" y1="29" x2="134.5" y2="423" stroke-opacity="0.145"/>
<line x1="134.5" y1="438" x2="134.5" y2="575" stroke-opacity="0.145"/>
<line x1="149.5" y1="29" x2="149.5" y2="423" stroke-opacity="0.145"/>
<line x1="149.5" y1="438" x2="149.5" y2="575" stroke-opacity="0.145"/>
<line x1="166.5" y1="29" x2="166.5" y2="423" stroke-opacity="0.27"/>
<line x1="166.5" y1="438" x2="166.5" y2="575" stroke-opacity="0.27"/>
<line x1="184.5" y1="29" x2="184.5" y2="423" stroke-opacity="0.145"/>
<line x1="184.5" y1="438" x2="184.5" y2="575" stroke-opacity="0.145"/>
<line x1="202.5" y1="29" x2="202.5" y2="423" stroke-opacity="0.145"/>
<line x1="202.5" y1="438" x2="202.5" y2="575" stroke-opacity="0.145"/>
<line x1="220.5" y1="29" x2="220.5" y2="423" stroke-opacity="0.145"/>
<line x1="220.5" y1="438" x2="220.5" y2="575" stroke-opacity="0.145"/>
<line x1="238.5" y1="29" x2="238.5" y2="423" stroke-opacity="0.145"/>
<line x1="238.5" y1="438" x2="238.5" y2="575" stroke-opacity="0.145"/>
<line x1="245.5" y1="29" x2="245.5" y2="423" stroke-opacity="0.27"/>
<line x1="245.5" y1="438" x2="245.5" y2="575" stroke-opacity="0.27"/>
<line x1="256.5" y1="29" x2="256.5" y2="423" stroke-opacity="0.145"/>
<line x1="256.5" y1="438" x2="256.5" y2="575" stroke-opacity="0.145"/>
<line x1="270.5" y1="29" x2="270.5" y2="423" stroke-opacity="0.145"/>
<line x1="270.5" y1="438" x2="270.5" y2="575" stroke-opacity="0.145"/>
<line x1="288.5" y1="29" x2="288.5" y2="423" stroke-opacity="0.145"/>
<line x1="288.5" y1="438" x2="288.5" y2="575" stroke-opacity="0.145"/>
<line x1="305.5" y1="29" x2="305.5" y2="423" stroke-opacity="0.145"/>
<line x1="305.5" y1="438" x2="305.5" y2="575" stroke-opacity="0.145"/>
<line x1="320.5" y1="29" x2="320.5" y2="423" stroke-opacity="0.27"/>
<line x1="320.5" y1="438" x2="320.5" y2="575" stroke-opacity="0.27"/>
<line x1="323.5" y1="29" x2="323.5" y2="423" stroke-opacity="0.145"/>
<line x1="323.5" y1="438" x2="323.5" y2="575" stroke-opacity="0.145"/>
<line x1="341.5" y1="29" x2="341.5" y2="423" stroke-opacity="0.145"/>
<line x1="341.5" y1="438" x2="341.5" y2="575" stroke-opacity="0.145"/>
<line x1="359.5" y1="29" x2="359.5" y2="423" stroke-opacity="0.145"/>
<line x1="359.5" y1="438" x2="359.5" y2="575" stroke-opacity="0.145"/>
<line x1="377.5" y1="29" x2="377.5" y2="423" stroke-opacity="0.145"/>
<line x1="377.5" y1="438" x2="377.5" y2="575" stroke-opacity="0.145"/>
<line x1="391.5" y1="29" x2="391.5" y2="423" stroke-opacity="0.27"/>
<line x1="391.5" y1="438" x2="391.5" y2="575" stroke-opacity="0.27"/>
<line x1="409.5" y1="29" x2="409.5" y2="423" stroke-opacity="0.145"/>
<line x1="409.5" y1="438" x2="409.5" y2="575" stroke-opacity="0.145"/>
<line x1="427.5" y1="29" x2="427.5" y2="423" stroke-opacity="0.145"/>
<line x1="427.5" y1="438" x2="427.5" y2="575" stroke-opacity="0.145"/>
<line x1="444.5" y1="29" x2="444.5" y2="423" stroke-opacity="0.145"/>
<line x1="444.5" y1="438" x2="444.5" y2="575" stroke-opacity="0.145"/>
<line x1="462.5" y1="29" x2="462.5" y2="423" stroke-opacity="0.145"/>
<line x1="462.5" y1="438" x2="462.5" y2="575" stroke-opacity="0.145"/>
<line x1="469.5" y1="29" x2="469.5" y2="423" stroke-opacity="0.27"/>
<line x1="469.5" y1="438" x2="469.5" y2="575" stroke-opacity="0.27"/>
<line x1="477.5" y1="29" x2="477.5" y2="423" stroke-opacity="0.145"/>
<line x1="477.5" y1="438" x2="477.5" y2="575" stroke-opacity="0.145"/>
<line x1="494.5" y1="29" x2="494.5" y2="423" stroke-opacity="0.145"/>
<line x1="494.5" y1="438" x2="494.5" y2="575" stroke-opacity="0.145"/>
<line x1="512.5" y1="29" x2="512.5" y2="423" stroke-opacity="0.145"/>
<line x1="512.5" y1="438" x2="512.5" y2="575" stroke-opacity="0.145"/>
<line x1="530.5" y1="29" x2="530.5" y2="423" stroke-opacity="0.145"/>
<line x1="530.5" y1="438" x2="530.5" y2="575" stroke-opacity="0.145"/>
<line x1="548.5" y1="29" x2="548.5" y2="423" stroke-opacity="0.27"/>
<line x1="548.5" y1="438" x2="548.5" y2="575" stroke-opacity="0.27"/>
<line x1="566.5" y1="29" x2="566.5" y2="423" stroke-opacity="0.145"/>
<line x1="566.5" y1="438" x2="566.5" y2="575" stroke-opacity="0.145"/>
<line x1="583.5" y1="29" x2="583.5" y2="423" stroke-opacity="0.145"/>
<line x1="583.5" y1="438" x2="583.5" y2="575" stroke-opacity="0.145"/>
<line x1="601.5" y1="29" x2="601.5" y2="423" stroke-opacity="0.145"/>
<line x1="601.5" y1="438" x2="601.5" y2="575" stroke-opacity="0.145"/>
<line x1="619.5" y1="29" x2="619.5" y2="423" stroke-opacity="0.145"/>
<line x1="619.5" y1="438" x2="619.5" y2="575" stroke-opacity="0.145"/>
<line x1="623.5" y1="29" x2="623.5" y2="423" stroke-opacity="0.27"/>
<line x1="623.5" y1="438" x2="623.5" y2="575" stroke-opacity="0.27"/>
<line x1="637.5" y1="29" x2="637.5" y2="423" stroke-opacity="0.145"/>
<line x1="637.5" y1="438" x2="637.5" y2="575" stroke-opacity="0.145"/>
<line x1="651.5" y1="29" x2="651.5" y2="423" stroke-opacity="0.145"/>
<line x1="651.5" y1="438" x2="651.5" y2="575" stroke-opacity="0.145"/>
<line x1="669.5" y1="29" x2="669.5" y2="423" stroke-opacity="0.145"/>
<line x1="669.5" y1="438" x2="669.5" y2="575" stroke-opacity="0.145"/>
<line x1="687.5" y1="29" x2="687.5" y2="423" stroke-opacity="0.145"/>
<line x1="687.5" y1="438" x2="687.5" y2="575" stroke-opacity="0.145"/>
<line x1="698.5" y1="29" x2="698.5" y2="423" stroke-opacity="0.27"/>
<line x1="698.5" y1="438" x2="698.5" y2="575" stroke-opacity="0.27"/>
<line x1="705.5" y1="29" x2="705.5" y2="423" stroke-opacity="0.145"/>
<line x1="705.5" y1="438" x2="705.5" y2="575" stroke-opacity="0.145"/>
<line x1="722.5" y1="29" x2="722.5" y2="423" stroke-opacity="0.145"/>
<line x1="722.5" y1="438" x2="722.5" y2="575" stroke-opacity="0.145"/>
<line x1="740.5" y1="29" x2="740.5" y2="423" stroke-opacity="0.145"/>
<line x1="740.5" y1="438" x2="740.5" y2="575" stroke-opacity="0.145"/>
<line x1="758.5" y1="29" x2="758.5" y2="423" stroke-opacity="0.145"/>
<line x1="758.5" y1="438" x2="758.5" y2="575" stroke-opacity="0.145"/>
<line x1="776.5" y1="29" x2="776.5" y2="423" stroke-opacity="0.27"/>
<line x1="776.5" y1="438" x2="776.5" y2="575" stroke-opacity="0.27"/>
<line x1="794.5" y1="29" x2="794.5" y2="423" stroke-opacity="0.145"/>
<line x1="794.5" y1="438" x2="794.5" y2="575" stroke-opacity="0.145"/>
<line x1="812.5" y1="29" x2="812.5" y2="423" stroke-opacity="0.145"/>
<line x1="812.5" y1="438" x2="812.5" y2="575" stroke-opacity="0.145"/>
<line x1="829.5" y1="29" x2="829.5" y2="423" stroke-opacity="0.145"/>
<line x1="829.5" y1="438" x2="829.5" y2="575" stroke-opacity="0.145"/>
<line x1="844.5" y1="29" x2="844.5" y2="423" stroke-opacity="0.145"/>
<line x1="844.5" y1="438" x2="844.5" y2="575" stroke-opacity="0.145"/>
<line x1="847.5" y1="29" x2="847.5" y2="423" stroke-opacity="0.27"/>
<line x1="847.5" y1="438" x2="847.5" y2="575" stroke-opacity="0.27"/>
<line x1="861.5" y1="29" x2="861.5" y2="423" stroke-opacity="0.145"/>
<line x1="861.5" y1="438" x2="861.5" y2="575" stroke-opacity="0.145"/>
<line x1="879.5" y1="29" x2="879.5" y2="423" stroke-opacity="0.145"/>
<line x1="879.5" y1="438" x2="879.5" y2="575" stroke-opacity="0.145"/>
<line x1="897.5" y1="29" x2="897.5" y2="423" stroke-opacity="0.145"/>
<line x1="897.5" y1="438" x2="897.5" y2="575" stroke-opacity="0.145"/>
<line x1="911.5" y1="29" x2="911.5" y2="423" stroke-opacity="0.145"/>
<line x1="911.5" y1="438" x2="911.5" y2="575" stroke-opacity="0.145"/>
<line x1="926.5" y1="29" x2="926.5" y2="423" stroke-opacity="0.27"/>
<line x1="926.5" y1="438" x2="926.5" y2="575" stroke-opacity="0.27"/>
<line x1="41" y1="404.5" x2="946" y2="404.5" stroke-opacity="0.145"/>
<line x1="41" y1="388.5" x2="946" y2="388.5" stroke-opacity="0.145"/>
<line x1="41" y1="372.5" x2="946" y2="372.5" stroke-opacity="0.145"/>
<line x1="41" y1="356.5" x2="946" y2="356.5" stroke-opacity="0.145"/>
<line x1="41" y1="340.5" x2="946" y2="340.5" stroke-opacity="0.145"/>
<line x1="41" y1="324.5" x2="946" y2="324.5" stroke-opacity="0.145"/>
<line x1="41" y1="309.5" x2="946" y2="309.5" stroke-opacity="0.145"/>
<line x1="41" y1="294.5" x2="946" y2="294.5" stroke-opacity="0.145"/>
<line x1="41" y1="279.5" x2="946" y2="279.5" stroke-opacity="0.145"/>
<line x1="41" y1="264.5" x2="946" y2="264.5" stroke-opacity="0.145"/>
<line x1="41" y1="249.5" x2="946" y2="249.5" stroke-opacity="0.145"/>
<line x1="41" y1="235.5" x2="946" y2="235.5" stroke-opacity="0.145"/>
<line x1="41" y1="221.5" x2="946" y2="221.5" stroke-opacity="0.145"/>
<line x1="41" y1="207.5" x2="946" y2="207.5" stroke-opacity="0.145"/>
<line x1="41" y1="193.5" x2="946" y2="193.5" stroke-opacity="0.145"/>
<line x1="41" y1="180.5" x2="946" y2="180.5" stroke-opacity="0.145"/>
<line x1="41" y1="167.5" x2="946" y2="167.5" stroke-opacity="0.145"/>
<line x1="41" y1="153.5" x2="946" y2="153.5" stroke-opacity="0.145"/>
<line x1="41" y1="140.5" x2="946" y2="140.5" stroke-opacity="0.145"/>
<line x1="41" y1="128.5" x2="946" y2="128.5" stroke-opacity="0.145"/>
<line x1="41" y1="115.5" x2="946" y2="115.5" stroke-opacity="0.145"/>
<line x1="41" y1="103.5" x2="946" y2="103.5" stroke-opacity="0.145"/>
<line x1="41" y1="90.5" x2="946" y2="90.5" stroke-opacity="0.145"/>
<line x1="41" y1="78.5" x2="946" y2="78.5" stroke-opacity="0.145"/>
<line x1="41" y1="66.5" x2="946" y2="66.5" stroke-opacity="0.145"/>
<line x1="41" y1="54.5" x2="946" y2="54.5" stroke-opacity="0.145"/>
<line x1="41" y1="42.5" x2="946" y2="42.5" stroke-opacity="0.145"/>
<line x1="41" y1="568.5" x2="946" y2="568.5" stroke-opacity="0.145"/>
<line x1="41" y1="556.5" x2="946" y2="556.5" stroke-opacity="0.145"/>
<line x1="41" y1="544.5" x2="946" y2="544.5" stroke-opacity="0.145"/>
<line x1="41" y1="531.5" x2="946" y2="531.5" stroke-opacity="0.145"/>
<line x1="41" y1="519.5" x2="946" y2="519.5" stroke-opacity="0.145"/>
<line x1="41" y1="506.5" x2="946" y2="506.5" stroke-opacity="0.145"/>
<line x1="41" y1="494.5" x2="946" y2="494.5" stroke-opacity="0.145"/>
<line x1="41" y1="482.5" x2="946" y2="482.5" stroke-opacity="0.145"/>
<line x1="41" y1="469.5" x2="946" y2="469.5" stroke-opacity="0.145"/>
<line x1="41" y1="457.5" x2="946" y2="457.5" stroke-opacity="0.145"/>
<line x1="41" y1="444.5" x2="946" y2="444.5" stroke-opacity="0.145"/>
</g>
<rect x="41" y="29" width="143" height="11.5" fill="url(#bg)"/>
<rect x="41" y="40.5" width="83" height="11.5" fill="url(#bg)"/>
<rect x="41" y="52" width="88.5" height="11" fill="url(#bg)"/>
<rect x="41" y="63" width="88.5" height="10.5" fill="url(#bg)"/>
<rect x="41" y="73.5" width="94.5" height="11.0" fill="url(#bg)"/>
<rect x="41" y="84.5" width="95.5" height="10.5" fill="url(#bg)"/>
<rect x="41" y="438" width="96" height="12.5" fill="url(#bg)"/>
<polyline points="40.0,419.1 67.7,413.0 101.5,403.5 135.4,395.3 148.9,391.0 169.2,385.1 186.3,378.0 200.9,373.6 213.1,371.8 225.3,369.4 237.5,365.7 249.6,362.7 260.0,359.6 270.7,355.7 304.6,347.2 330.0,340.4 363.8,332.0 397.7,325.2 431.5,318.4 465.4,311.7 499.2,303.2 533.0,293.1 566.9,279.5 600.0,266.8 616.9,259.7 633.8,252.9 650.8,246.2 667.7,239.4 684.6,233.5 701.5,228.4 718.5,223.3 735.4,217.4 752.3,212.8 765.0,210.1 790.0,203.3 812.0,197.4 834.0,192.3 856.0,189.0 878.0,185.0 900.0,182.4 913.2,179.1 926.4,174.7 940.7,172.0" fill="none" stroke="#006400" stroke-width="1.05" stroke-linejoin="round" clip-path="url(#cm)"/>
<polyline points="40.0,402.5 73.8,396.9 107.7,388.5 141.5,380.0 158.5,374.1 175.4,369.0 187.2,364.8 200.9,363.5 220.4,363.3 225.3,361.4 237.5,358.4 249.6,356.0 260.0,352.3 270.7,346.2 304.6,335.4 330.0,327.4 363.8,315.1 397.7,305.9 431.5,296.4 465.4,288.0 499.2,278.5 533.0,264.3 566.9,245.7 600.0,228.4 616.9,221.6 633.8,214.8 650.8,208.6 667.7,203.3 684.6,200.5 701.5,197.1 718.5,193.4 735.4,190.0 752.3,186.9 765.0,185.2 795.4,180.0 829.2,178.3 863.0,177.7 896.9,176.0 913.8,174.3 930.7,172.6 940.2,171.0" fill="none" stroke="#ff00ff" stroke-width="1.05" stroke-linejoin="round" clip-path="url(#cm)"/>
<polyline points="40.0,371.6 67.7,370.9 101.5,366.8 124.6,364.8 141.5,361.4 158.5,358.0 176.5,352.9 183.8,350.4 188.7,349.3 200.9,348.0 213.1,348.6 218.0,349.3 225.3,346.8 237.5,343.2 249.6,340.1 260.0,337.1 270.7,333.7 304.6,318.4 330.0,306.6 363.8,293.1 397.7,279.5 431.5,269.4 465.4,260.9 499.2,250.8 533.0,235.5 550.0,227.1 566.9,215.2 583.8,205.1 592.3,200.0 600.0,196.6 616.9,188.6 633.8,184.0 640.0,181.8 656.2,175.3 672.5,169.3 688.7,164.7 705.0,160.7 721.2,157.4 737.5,152.5 753.7,147.7 770.0,143.6 786.2,139.5 800.0,137.1 812.3,134.7 829.2,133.7 846.1,132.7 863.0,132.0 880.0,132.7 896.9,134.7 913.8,137.1 922.3,139.4 940.2,140.5" fill="none" stroke="#e8140c" stroke-width="1.05" stroke-linejoin="round" clip-path="url(#cm)"/>
<polyline points="40.0,378.3 55.0,377.0 67.7,375.0 85.0,369.0 101.5,362.4 118.0,355.5 135.4,347.9 140.0,345.6 152.2,336.5 164.4,330.4 176.5,322.4 188.7,317.0 197.3,315.1 207.0,317.0 219.2,319.4 225.3,317.6 237.5,313.3 249.6,310.3 260.0,307.2 270.7,300.8 287.6,292.0 304.6,283.9 330.0,276.1 350.7,271.0 360.0,268.0 372.2,262.4 384.4,253.3 396.5,245.3 408.7,242.9 417.3,241.7 423.4,238.0 433.1,235.6 442.8,234.4 455.0,234.4 463.6,231.9 480.0,228.3 482.3,227.6 489.3,226.0 499.2,223.0 505.6,221.0 517.0,217.7 530.0,209.6 543.0,201.5 560.0,185.2 566.9,178.0 583.8,164.1 600.7,154.0 617.6,142.1 634.6,136.5 640.0,133.9 656.2,124.1 672.5,118.9 688.7,115.7 701.7,114.4 713.1,114.7 724.5,116.8 737.5,120.9 747.2,123.6 760.2,125.7 770.0,129.0 781.3,130.1 791.1,130.6 800.0,134.2 812.3,138.7 829.2,143.8 846.1,148.9 863.0,151.6 880.0,154.0 896.9,156.3 913.8,155.0 930.7,155.7 940.2,155.4" fill="none" stroke="#000090" stroke-width="1.05" stroke-linejoin="round" clip-path="url(#cm)"/>
<g shape-rendering="crispEdges" fill="#000" clip-path="url(#cm)">
<rect x="42" y="332" width="1" height="15"/>
<rect x="40" y="335" width="4" height="3"/>
<rect x="45" y="331" width="1" height="3"/>
<rect x="45" y="338" width="1" height="4"/>
<rect x="44" y="334" width="3" height="1"/>
<rect x="44" y="337" width="3" height="1"/>
<rect x="44" y="334" width="1" height="4"/>
<rect x="46" y="334" width="1" height="4"/>
<rect x="49" y="331" width="1" height="11"/>
<rect x="47" y="332" width="4" height="8"/>
<rect x="52" y="340" width="1" height="9"/>
<rect x="51" y="341" width="3" height="3"/>
<rect x="56" y="335" width="1" height="2"/>
<rect x="54" y="337" width="4" height="1"/>
<rect x="54" y="342" width="4" height="1"/>
<rect x="54" y="337" width="1" height="6"/>
<rect x="57" y="337" width="1" height="6"/>
<rect x="59" y="336" width="1" height="5"/>
<rect x="58" y="336" width="3" height="4"/>
<rect x="63" y="339" width="1" height="2"/>
<rect x="61" y="333" width="4" height="1"/>
<rect x="61" y="338" width="4" height="1"/>
<rect x="61" y="333" width="1" height="6"/>
<rect x="64" y="333" width="1" height="6"/>
<rect x="67" y="328" width="1" height="14"/>
<rect x="65" y="335" width="4" height="2"/>
<rect x="70" y="334" width="1" height="7"/>
<rect x="69" y="334" width="3" height="3"/>
<rect x="74" y="335" width="1" height="4"/>
<rect x="72" y="330" width="4" height="1"/>
<rect x="72" y="334" width="4" height="1"/>
<rect x="72" y="330" width="1" height="5"/>
<rect x="75" y="330" width="1" height="5"/>
<rect x="77" y="325" width="1" height="1"/>
<rect x="77" y="333" width="1" height="4"/>
<rect x="76" y="326" width="3" height="1"/>
<rect x="76" y="332" width="3" height="1"/>
<rect x="76" y="326" width="1" height="7"/>
<rect x="78" y="326" width="1" height="7"/>
<rect x="81" y="316" width="1" height="8"/>
<rect x="79" y="321" width="4" height="3"/>
<rect x="84" y="320" width="1" height="11"/>
<rect x="83" y="320" width="3" height="8"/>
<rect x="88" y="322" width="1" height="5"/>
<rect x="88" y="331" width="1" height="2"/>
<rect x="86" y="327" width="4" height="1"/>
<rect x="86" y="330" width="4" height="1"/>
<rect x="86" y="327" width="1" height="4"/>
<rect x="89" y="327" width="1" height="4"/>
<rect x="92" y="314" width="1" height="1"/>
<rect x="92" y="321" width="1" height="3"/>
<rect x="90" y="315" width="4" height="1"/>
<rect x="90" y="320" width="4" height="1"/>
<rect x="90" y="315" width="1" height="6"/>
<rect x="93" y="315" width="1" height="6"/>
<rect x="95" y="311" width="1" height="5"/>
<rect x="95" y="323" width="1" height="2"/>
<rect x="94" y="316" width="3" height="1"/>
<rect x="94" y="322" width="3" height="1"/>
<rect x="94" y="316" width="1" height="7"/>
<rect x="96" y="316" width="1" height="7"/>
<rect x="99" y="310" width="1" height="15"/>
<rect x="97" y="310" width="4" height="11"/>
<rect x="102" y="318" width="1" height="21"/>
<rect x="101" y="319" width="3" height="18"/>
<rect x="106" y="337" width="1" height="2"/>
<rect x="104" y="332" width="4" height="1"/>
<rect x="104" y="336" width="4" height="1"/>
<rect x="104" y="332" width="1" height="5"/>
<rect x="107" y="332" width="1" height="5"/>
<rect x="109" y="334" width="1" height="2"/>
<rect x="108" y="327" width="3" height="1"/>
<rect x="108" y="333" width="3" height="1"/>
<rect x="108" y="327" width="1" height="7"/>
<rect x="110" y="327" width="1" height="7"/>
<rect x="113" y="323" width="1" height="2"/>
<rect x="113" y="328" width="1" height="3"/>
<rect x="111" y="325" width="4" height="1"/>
<rect x="111" y="327" width="4" height="1"/>
<rect x="111" y="325" width="1" height="3"/>
<rect x="114" y="325" width="1" height="3"/>
<rect x="117" y="324" width="1" height="3"/>
<rect x="115" y="321" width="4" height="1"/>
<rect x="115" y="323" width="4" height="1"/>
<rect x="115" y="321" width="1" height="3"/>
<rect x="118" y="321" width="1" height="3"/>
<rect x="120" y="323" width="1" height="8"/>
<rect x="119" y="324" width="3" height="4"/>
<rect x="124" y="325" width="1" height="6"/>
<rect x="122" y="326" width="4" height="2"/>
<rect x="127" y="320" width="1" height="2"/>
<rect x="127" y="328" width="1" height="1"/>
<rect x="126" y="322" width="3" height="1"/>
<rect x="126" y="327" width="3" height="1"/>
<rect x="126" y="322" width="1" height="6"/>
<rect x="128" y="322" width="1" height="6"/>
<rect x="131" y="316" width="1" height="1"/>
<rect x="131" y="323" width="1" height="2"/>
<rect x="129" y="317" width="4" height="1"/>
<rect x="129" y="322" width="4" height="1"/>
<rect x="129" y="317" width="1" height="6"/>
<rect x="132" y="317" width="1" height="6"/>
<rect x="134" y="304" width="1" height="3"/>
<rect x="134" y="319" width="1" height="2"/>
<rect x="133" y="307" width="3" height="1"/>
<rect x="133" y="318" width="3" height="1"/>
<rect x="133" y="307" width="1" height="12"/>
<rect x="135" y="307" width="1" height="12"/>
<rect x="138" y="307" width="1" height="1"/>
<rect x="136" y="302" width="4" height="1"/>
<rect x="136" y="306" width="4" height="1"/>
<rect x="136" y="302" width="1" height="5"/>
<rect x="139" y="302" width="1" height="5"/>
<rect x="141" y="294" width="1" height="2"/>
<rect x="141" y="301" width="1" height="5"/>
<rect x="140" y="296" width="3" height="1"/>
<rect x="140" y="300" width="3" height="1"/>
<rect x="140" y="296" width="1" height="5"/>
<rect x="142" y="296" width="1" height="5"/>
<rect x="145" y="277" width="1" height="2"/>
<rect x="145" y="295" width="1" height="1"/>
<rect x="143" y="279" width="4" height="1"/>
<rect x="143" y="294" width="4" height="1"/>
<rect x="143" y="279" width="1" height="16"/>
<rect x="146" y="279" width="1" height="16"/>
<rect x="149" y="254" width="1" height="9"/>
<rect x="149" y="276" width="1" height="1"/>
<rect x="147" y="263" width="4" height="1"/>
<rect x="147" y="275" width="4" height="1"/>
<rect x="147" y="263" width="1" height="13"/>
<rect x="150" y="263" width="1" height="13"/>
<rect x="152" y="269" width="1" height="24"/>
<rect x="151" y="272" width="3" height="8"/>
<rect x="156" y="274" width="1" height="9"/>
<rect x="156" y="287" width="1" height="6"/>
<rect x="154" y="283" width="4" height="1"/>
<rect x="154" y="286" width="4" height="1"/>
<rect x="154" y="283" width="1" height="4"/>
<rect x="157" y="283" width="1" height="4"/>
<rect x="159" y="271" width="1" height="19"/>
<rect x="158" y="283" width="3" height="1"/>
<rect x="163" y="278" width="1" height="53"/>
<rect x="161" y="281" width="4" height="49"/>
<rect x="166" y="301" width="1" height="23"/>
<rect x="165" y="311" width="3" height="2"/>
<rect x="170" y="278" width="1" height="4"/>
<rect x="168" y="282" width="4" height="1"/>
<rect x="168" y="317" width="4" height="1"/>
<rect x="168" y="282" width="1" height="36"/>
<rect x="171" y="282" width="1" height="36"/>
<rect x="174" y="276" width="1" height="7"/>
<rect x="174" y="284" width="1" height="5"/>
<rect x="172" y="283" width="4" height="1"/>
<rect x="177" y="264" width="1" height="4"/>
<rect x="177" y="287" width="1" height="1"/>
<rect x="176" y="268" width="3" height="1"/>
<rect x="176" y="286" width="3" height="1"/>
<rect x="176" y="268" width="1" height="19"/>
<rect x="178" y="268" width="1" height="19"/>
<rect x="181" y="254" width="1" height="30"/>
<rect x="179" y="265" width="4" height="1"/>
<rect x="184" y="247" width="1" height="28"/>
<rect x="183" y="254" width="3" height="10"/>
<rect x="188" y="260" width="1" height="25"/>
<rect x="186" y="261" width="4" height="12"/>
<rect x="191" y="266" width="1" height="24"/>
<rect x="190" y="279" width="3" height="5"/>
<rect x="195" y="278" width="1" height="56"/>
<rect x="193" y="289" width="4" height="26"/>
<rect x="199" y="310" width="1" height="59"/>
<rect x="197" y="319" width="4" height="42"/>
<rect x="202" y="324" width="1" height="80"/>
<rect x="201" y="331" width="3" height="51"/>
<rect x="206" y="337" width="1" height="18"/>
<rect x="206" y="358" width="1" height="38"/>
<rect x="204" y="355" width="4" height="1"/>
<rect x="204" y="357" width="4" height="1"/>
<rect x="204" y="355" width="1" height="3"/>
<rect x="207" y="355" width="1" height="3"/>
<rect x="209" y="342" width="1" height="48"/>
<rect x="208" y="354" width="3" height="32"/>
<rect x="213" y="370" width="1" height="29"/>
<rect x="211" y="380" width="4" height="6"/>
<rect x="216" y="359" width="1" height="23"/>
<rect x="216" y="391" width="1" height="8"/>
<rect x="215" y="382" width="3" height="1"/>
<rect x="215" y="390" width="3" height="1"/>
<rect x="215" y="382" width="1" height="9"/>
<rect x="217" y="382" width="1" height="9"/>
<rect x="220" y="328" width="1" height="1"/>
<rect x="220" y="370" width="1" height="12"/>
<rect x="218" y="329" width="4" height="1"/>
<rect x="218" y="369" width="4" height="1"/>
<rect x="218" y="329" width="1" height="41"/>
<rect x="221" y="329" width="1" height="41"/>
<rect x="223" y="251" width="1" height="21"/>
<rect x="223" y="332" width="1" height="2"/>
<rect x="222" y="272" width="3" height="1"/>
<rect x="222" y="331" width="3" height="1"/>
<rect x="222" y="272" width="1" height="60"/>
<rect x="224" y="272" width="1" height="60"/>
<rect x="227" y="250" width="1" height="50"/>
<rect x="225" y="269" width="4" height="20"/>
<rect x="231" y="265" width="1" height="13"/>
<rect x="231" y="284" width="1" height="19"/>
<rect x="229" y="278" width="4" height="1"/>
<rect x="229" y="283" width="4" height="1"/>
<rect x="229" y="278" width="1" height="6"/>
<rect x="232" y="278" width="1" height="6"/>
<rect x="234" y="271" width="1" height="20"/>
<rect x="233" y="276" width="3" height="2"/>
<rect x="238" y="265" width="1" height="25"/>
<rect x="236" y="271" width="4" height="13"/>
<rect x="241" y="281" width="1" height="36"/>
<rect x="240" y="283" width="3" height="29"/>
<rect x="245" y="301" width="1" height="24"/>
<rect x="243" y="314" width="4" height="2"/>
<rect x="248" y="281" width="1" height="5"/>
<rect x="248" y="308" width="1" height="4"/>
<rect x="247" y="286" width="3" height="1"/>
<rect x="247" y="307" width="3" height="1"/>
<rect x="247" y="286" width="1" height="22"/>
<rect x="249" y="286" width="1" height="22"/>
<rect x="252" y="277" width="1" height="4"/>
<rect x="252" y="287" width="1" height="7"/>
<rect x="250" y="281" width="4" height="1"/>
<rect x="250" y="286" width="4" height="1"/>
<rect x="250" y="281" width="1" height="6"/>
<rect x="253" y="281" width="1" height="6"/>
<rect x="256" y="240" width="1" height="13"/>
<rect x="256" y="281" width="1" height="6"/>
<rect x="254" y="253" width="4" height="1"/>
<rect x="254" y="280" width="4" height="1"/>
<rect x="254" y="253" width="1" height="28"/>
<rect x="257" y="253" width="1" height="28"/>
<rect x="259" y="225" width="1" height="42"/>
<rect x="258" y="245" width="3" height="15"/>
<rect x="263" y="252" width="1" height="6"/>
<rect x="263" y="263" width="1" height="4"/>
<rect x="261" y="258" width="4" height="1"/>
<rect x="261" y="262" width="4" height="1"/>
<rect x="261" y="258" width="1" height="5"/>
<rect x="264" y="258" width="1" height="5"/>
<rect x="266" y="218" width="1" height="1"/>
<rect x="266" y="261" width="1" height="2"/>
<rect x="265" y="219" width="3" height="1"/>
<rect x="265" y="260" width="3" height="1"/>
<rect x="265" y="219" width="1" height="42"/>
<rect x="267" y="219" width="1" height="42"/>
<rect x="270" y="208" width="1" height="7"/>
<rect x="270" y="226" width="1" height="10"/>
<rect x="268" y="215" width="4" height="1"/>
<rect x="268" y="225" width="4" height="1"/>
<rect x="268" y="215" width="1" height="11"/>
<rect x="271" y="215" width="1" height="11"/>
<rect x="273" y="200" width="1" height="10"/>
<rect x="273" y="216" width="1" height="8"/>
<rect x="272" y="210" width="3" height="1"/>
<rect x="272" y="215" width="3" height="1"/>
<rect x="272" y="210" width="1" height="6"/>
<rect x="274" y="210" width="1" height="6"/>
<rect x="277" y="216" width="1" height="15"/>
<rect x="275" y="216" width="4" height="11"/>
<rect x="280" y="211" width="1" height="25"/>
<rect x="279" y="225" width="3" height="7"/>
<rect x="284" y="227" width="1" height="28"/>
<rect x="282" y="227" width="4" height="24"/>
<rect x="288" y="239" width="1" height="4"/>
<rect x="288" y="254" width="1" height="5"/>
<rect x="286" y="243" width="4" height="1"/>
<rect x="286" y="253" width="4" height="1"/>
<rect x="286" y="243" width="1" height="11"/>
<rect x="289" y="243" width="1" height="11"/>
<rect x="291" y="239" width="1" height="31"/>
<rect x="290" y="242" width="3" height="15"/>
<rect x="295" y="225" width="1" height="3"/>
<rect x="295" y="249" width="1" height="4"/>
<rect x="293" y="228" width="4" height="1"/>
<rect x="293" y="248" width="4" height="1"/>
<rect x="293" y="228" width="1" height="21"/>
<rect x="296" y="228" width="1" height="21"/>
<rect x="298" y="213" width="1" height="11"/>
<rect x="298" y="229" width="1" height="4"/>
<rect x="297" y="224" width="3" height="1"/>
<rect x="297" y="228" width="3" height="1"/>
<rect x="297" y="224" width="1" height="5"/>
<rect x="299" y="224" width="1" height="5"/>
<rect x="302" y="215" width="1" height="21"/>
<rect x="300" y="219" width="4" height="10"/>
<rect x="305" y="223" width="1" height="16"/>
<rect x="304" y="224" width="3" height="13"/>
<rect x="309" y="231" width="1" height="17"/>
<rect x="307" y="235" width="4" height="3"/>
<rect x="313" y="230" width="1" height="15"/>
<rect x="311" y="235" width="4" height="8"/>
<rect x="316" y="228" width="1" height="30"/>
<rect x="315" y="232" width="3" height="22"/>
<rect x="320" y="241" width="1" height="8"/>
<rect x="320" y="254" width="1" height="9"/>
<rect x="318" y="249" width="4" height="1"/>
<rect x="318" y="253" width="4" height="1"/>
<rect x="318" y="249" width="1" height="5"/>
<rect x="321" y="249" width="1" height="5"/>
<rect x="323" y="235" width="1" height="15"/>
<rect x="322" y="242" width="3" height="2"/>
<rect x="327" y="239" width="1" height="14"/>
<rect x="325" y="242" width="4" height="2"/>
<rect x="330" y="240" width="1" height="19"/>
<rect x="329" y="241" width="3" height="16"/>
<rect x="334" y="230" width="1" height="5"/>
<rect x="334" y="258" width="1" height="1"/>
<rect x="332" y="235" width="4" height="1"/>
<rect x="332" y="257" width="4" height="1"/>
<rect x="332" y="235" width="1" height="23"/>
<rect x="335" y="235" width="1" height="23"/>
<rect x="338" y="229" width="1" height="17"/>
<rect x="336" y="234" width="4" height="8"/>
<rect x="341" y="241" width="1" height="14"/>
<rect x="340" y="246" width="3" height="6"/>
<rect x="345" y="240" width="1" height="6"/>
<rect x="345" y="250" width="1" height="3"/>
<rect x="343" y="246" width="4" height="1"/>
<rect x="343" y="249" width="4" height="1"/>
<rect x="343" y="246" width="1" height="4"/>
<rect x="346" y="246" width="1" height="4"/>
<rect x="348" y="235" width="1" height="5"/>
<rect x="348" y="247" width="1" height="2"/>
<rect x="347" y="240" width="3" height="1"/>
<rect x="347" y="246" width="3" height="1"/>
<rect x="347" y="240" width="1" height="7"/>
<rect x="349" y="240" width="1" height="7"/>
<rect x="352" y="224" width="1" height="2"/>
<rect x="352" y="237" width="1" height="4"/>
<rect x="350" y="226" width="4" height="1"/>
<rect x="350" y="236" width="4" height="1"/>
<rect x="350" y="226" width="1" height="11"/>
<rect x="353" y="226" width="1" height="11"/>
<rect x="355" y="215" width="1" height="2"/>
<rect x="355" y="227" width="1" height="1"/>
<rect x="354" y="217" width="3" height="1"/>
<rect x="354" y="226" width="3" height="1"/>
<rect x="354" y="217" width="1" height="10"/>
<rect x="356" y="217" width="1" height="10"/>
<rect x="359" y="207" width="1" height="26"/>
<rect x="357" y="217" width="4" height="14"/>
<rect x="362" y="219" width="1" height="4"/>
<rect x="362" y="231" width="1" height="4"/>
<rect x="361" y="223" width="3" height="1"/>
<rect x="361" y="230" width="3" height="1"/>
<rect x="361" y="223" width="1" height="8"/>
<rect x="363" y="223" width="1" height="8"/>
<rect x="366" y="217" width="1" height="7"/>
<rect x="364" y="220" width="4" height="2"/>
<rect x="370" y="220" width="1" height="22"/>
<rect x="368" y="220" width="4" height="18"/>
<rect x="373" y="225" width="1" height="11"/>
<rect x="372" y="231" width="3" height="4"/>
<rect x="377" y="228" width="1" height="22"/>
<rect x="375" y="230" width="4" height="17"/>
<rect x="380" y="233" width="1" height="1"/>
<rect x="380" y="237" width="1" height="12"/>
<rect x="379" y="234" width="3" height="1"/>
<rect x="379" y="236" width="3" height="1"/>
<rect x="379" y="234" width="1" height="3"/>
<rect x="381" y="234" width="1" height="3"/>
<rect x="384" y="225" width="1" height="8"/>
<rect x="384" y="236" width="1" height="3"/>
<rect x="382" y="233" width="4" height="1"/>
<rect x="382" y="235" width="4" height="1"/>
<rect x="382" y="233" width="1" height="3"/>
<rect x="385" y="233" width="1" height="3"/>
<rect x="387" y="218" width="1" height="2"/>
<rect x="387" y="232" width="1" height="4"/>
<rect x="386" y="220" width="3" height="1"/>
<rect x="386" y="231" width="3" height="1"/>
<rect x="386" y="220" width="1" height="12"/>
<rect x="388" y="220" width="1" height="12"/>
<rect x="391" y="215" width="1" height="14"/>
<rect x="389" y="221" width="4" height="1"/>
<rect x="395" y="217" width="1" height="17"/>
<rect x="393" y="221" width="4" height="10"/>
<rect x="398" y="227" width="1" height="29"/>
<rect x="397" y="230" width="3" height="18"/>
<rect x="402" y="233" width="1" height="1"/>
<rect x="402" y="249" width="1" height="2"/>
<rect x="400" y="234" width="4" height="1"/>
<rect x="400" y="248" width="4" height="1"/>
<rect x="400" y="234" width="1" height="15"/>
<rect x="403" y="234" width="1" height="15"/>
<rect x="405" y="236" width="1" height="31"/>
<rect x="404" y="236" width="3" height="24"/>
<rect x="409" y="245" width="1" height="1"/>
<rect x="409" y="258" width="1" height="4"/>
<rect x="407" y="246" width="4" height="1"/>
<rect x="407" y="257" width="4" height="1"/>
<rect x="407" y="246" width="1" height="12"/>
<rect x="410" y="246" width="1" height="12"/>
<rect x="412" y="233" width="1" height="4"/>
<rect x="412" y="248" width="1" height="4"/>
<rect x="411" y="237" width="3" height="1"/>
<rect x="411" y="247" width="3" height="1"/>
<rect x="411" y="237" width="1" height="11"/>
<rect x="413" y="237" width="1" height="11"/>
<rect x="416" y="221" width="1" height="21"/>
<rect x="414" y="238" width="4" height="1"/>
<rect x="420" y="218" width="1" height="17"/>
<rect x="418" y="223" width="4" height="5"/>
<rect x="423" y="219" width="1" height="9"/>
<rect x="423" y="231" width="1" height="3"/>
<rect x="422" y="228" width="3" height="1"/>
<rect x="422" y="230" width="3" height="1"/>
<rect x="422" y="228" width="1" height="3"/>
<rect x="424" y="228" width="1" height="3"/>
<rect x="427" y="224" width="1" height="23"/>
<rect x="425" y="225" width="4" height="10"/>
<rect x="430" y="226" width="1" height="3"/>
<rect x="430" y="232" width="1" height="6"/>
<rect x="429" y="229" width="3" height="1"/>
<rect x="429" y="231" width="3" height="1"/>
<rect x="429" y="229" width="1" height="3"/>
<rect x="431" y="229" width="1" height="3"/>
<rect x="434" y="227" width="1" height="13"/>
<rect x="432" y="228" width="4" height="2"/>
<rect x="437" y="221" width="1" height="15"/>
<rect x="436" y="229" width="3" height="4"/>
<rect x="441" y="215" width="1" height="4"/>
<rect x="441" y="233" width="1" height="1"/>
<rect x="439" y="219" width="4" height="1"/>
<rect x="439" y="232" width="4" height="1"/>
<rect x="439" y="219" width="1" height="14"/>
<rect x="442" y="219" width="1" height="14"/>
<rect x="444" y="205" width="1" height="15"/>
<rect x="443" y="211" width="3" height="2"/>
<rect x="448" y="201" width="1" height="2"/>
<rect x="448" y="214" width="1" height="3"/>
<rect x="446" y="203" width="4" height="1"/>
<rect x="446" y="213" width="4" height="1"/>
<rect x="446" y="203" width="1" height="11"/>
<rect x="449" y="203" width="1" height="11"/>
<rect x="452" y="196" width="1" height="15"/>
<rect x="450" y="202" width="4" height="6"/>
<rect x="455" y="205" width="1" height="9"/>
<rect x="454" y="209" width="3" height="1"/>
<rect x="459" y="201" width="1" height="3"/>
<rect x="459" y="208" width="1" height="12"/>
<rect x="457" y="204" width="4" height="1"/>
<rect x="457" y="207" width="4" height="1"/>
<rect x="457" y="204" width="1" height="4"/>
<rect x="460" y="204" width="1" height="4"/>
<rect x="462" y="199" width="1" height="8"/>
<rect x="461" y="199" width="3" height="5"/>
<rect x="466" y="191" width="1" height="2"/>
<rect x="466" y="203" width="1" height="4"/>
<rect x="464" y="193" width="4" height="1"/>
<rect x="464" y="202" width="4" height="1"/>
<rect x="464" y="193" width="1" height="10"/>
<rect x="467" y="193" width="1" height="10"/>
<rect x="469" y="190" width="1" height="22"/>
<rect x="468" y="194" width="3" height="11"/>
<rect x="473" y="206" width="1" height="4"/>
<rect x="471" y="199" width="4" height="1"/>
<rect x="471" y="205" width="4" height="1"/>
<rect x="471" y="199" width="1" height="7"/>
<rect x="474" y="199" width="1" height="7"/>
<rect x="477" y="195" width="1" height="2"/>
<rect x="477" y="200" width="1" height="5"/>
<rect x="475" y="197" width="4" height="1"/>
<rect x="475" y="199" width="4" height="1"/>
<rect x="475" y="197" width="1" height="3"/>
<rect x="478" y="197" width="1" height="3"/>
<rect x="480" y="198" width="1" height="6"/>
<rect x="479" y="188" width="3" height="1"/>
<rect x="479" y="197" width="3" height="1"/>
<rect x="479" y="188" width="1" height="10"/>
<rect x="481" y="188" width="1" height="10"/>
<rect x="484" y="177" width="1" height="5"/>
<rect x="484" y="189" width="1" height="2"/>
<rect x="482" y="182" width="4" height="1"/>
<rect x="482" y="188" width="4" height="1"/>
<rect x="482" y="182" width="1" height="7"/>
<rect x="485" y="182" width="1" height="7"/>
<rect x="487" y="180" width="1" height="15"/>
<rect x="486" y="183" width="3" height="9"/>
<rect x="491" y="184" width="1" height="12"/>
<rect x="489" y="189" width="4" height="3"/>
<rect x="494" y="184" width="1" height="2"/>
<rect x="493" y="186" width="3" height="1"/>
<rect x="493" y="191" width="3" height="1"/>
<rect x="493" y="186" width="1" height="6"/>
<rect x="495" y="186" width="1" height="6"/>
<rect x="498" y="185" width="1" height="1"/>
<rect x="498" y="192" width="1" height="7"/>
<rect x="496" y="186" width="4" height="1"/>
<rect x="496" y="191" width="4" height="1"/>
<rect x="496" y="186" width="1" height="6"/>
<rect x="499" y="186" width="1" height="6"/>
<rect x="501" y="183" width="1" height="8"/>
<rect x="500" y="187" width="3" height="1"/>
<rect x="505" y="185" width="1" height="13"/>
<rect x="503" y="186" width="4" height="8"/>
<rect x="509" y="187" width="1" height="1"/>
<rect x="507" y="188" width="4" height="1"/>
<rect x="507" y="195" width="4" height="1"/>
<rect x="507" y="188" width="1" height="8"/>
<rect x="510" y="188" width="1" height="8"/>
<rect x="512" y="181" width="1" height="3"/>
<rect x="512" y="188" width="1" height="2"/>
<rect x="511" y="184" width="3" height="1"/>
<rect x="511" y="187" width="3" height="1"/>
<rect x="511" y="184" width="1" height="4"/>
<rect x="513" y="184" width="1" height="4"/>
<rect x="516" y="184" width="1" height="1"/>
<rect x="514" y="170" width="4" height="1"/>
<rect x="514" y="183" width="4" height="1"/>
<rect x="514" y="170" width="1" height="14"/>
<rect x="517" y="170" width="1" height="14"/>
<rect x="519" y="155" width="1" height="4"/>
<rect x="519" y="170" width="1" height="1"/>
<rect x="518" y="159" width="3" height="1"/>
<rect x="518" y="169" width="3" height="1"/>
<rect x="518" y="159" width="1" height="11"/>
<rect x="520" y="159" width="1" height="11"/>
<rect x="523" y="142" width="1" height="4"/>
<rect x="523" y="156" width="1" height="5"/>
<rect x="521" y="146" width="4" height="1"/>
<rect x="521" y="155" width="4" height="1"/>
<rect x="521" y="146" width="1" height="10"/>
<rect x="524" y="146" width="1" height="10"/>
<rect x="526" y="138" width="1" height="4"/>
<rect x="526" y="149" width="1" height="3"/>
<rect x="525" y="142" width="3" height="1"/>
<rect x="525" y="148" width="3" height="1"/>
<rect x="525" y="142" width="1" height="7"/>
<rect x="527" y="142" width="1" height="7"/>
<rect x="530" y="119" width="1" height="6"/>
<rect x="530" y="141" width="1" height="1"/>
<rect x="528" y="125" width="4" height="1"/>
<rect x="528" y="140" width="4" height="1"/>
<rect x="528" y="125" width="1" height="16"/>
<rect x="531" y="125" width="1" height="16"/>
<rect x="534" y="103" width="1" height="15"/>
<rect x="534" y="123" width="1" height="18"/>
<rect x="532" y="118" width="4" height="1"/>
<rect x="532" y="122" width="4" height="1"/>
<rect x="532" y="118" width="1" height="5"/>
<rect x="535" y="118" width="1" height="5"/>
<rect x="537" y="103" width="1" height="10"/>
<rect x="537" y="116" width="1" height="7"/>
<rect x="536" y="113" width="3" height="1"/>
<rect x="536" y="115" width="3" height="1"/>
<rect x="536" y="113" width="1" height="3"/>
<rect x="538" y="113" width="1" height="3"/>
<rect x="541" y="96" width="1" height="19"/>
<rect x="539" y="97" width="4" height="11"/>
<rect x="544" y="88" width="1" height="9"/>
<rect x="544" y="104" width="1" height="1"/>
<rect x="543" y="97" width="3" height="1"/>
<rect x="543" y="103" width="3" height="1"/>
<rect x="543" y="97" width="1" height="7"/>
<rect x="545" y="97" width="1" height="7"/>
<rect x="548" y="86" width="1" height="17"/>
<rect x="546" y="91" width="4" height="7"/>
<rect x="551" y="72" width="1" height="8"/>
<rect x="551" y="93" width="1" height="7"/>
<rect x="550" y="80" width="3" height="1"/>
<rect x="550" y="92" width="3" height="1"/>
<rect x="550" y="80" width="1" height="13"/>
<rect x="552" y="80" width="1" height="13"/>
<rect x="555" y="56" width="1" height="10"/>
<rect x="555" y="73" width="1" height="5"/>
<rect x="553" y="66" width="4" height="1"/>
<rect x="553" y="72" width="4" height="1"/>
<rect x="553" y="66" width="1" height="7"/>
<rect x="556" y="66" width="1" height="7"/>
<rect x="559" y="51" width="1" height="6"/>
<rect x="559" y="65" width="1" height="2"/>
<rect x="557" y="57" width="4" height="1"/>
<rect x="557" y="64" width="4" height="1"/>
<rect x="557" y="57" width="1" height="8"/>
<rect x="560" y="57" width="1" height="8"/>
<rect x="562" y="47" width="1" height="32"/>
<rect x="561" y="54" width="3" height="24"/>
<rect x="566" y="61" width="1" height="17"/>
<rect x="564" y="69" width="4" height="3"/>
<rect x="569" y="71" width="1" height="65"/>
<rect x="568" y="71" width="3" height="47"/>
<rect x="573" y="110" width="1" height="6"/>
<rect x="573" y="130" width="1" height="25"/>
<rect x="571" y="116" width="4" height="1"/>
<rect x="571" y="129" width="4" height="1"/>
<rect x="571" y="116" width="1" height="14"/>
<rect x="574" y="116" width="1" height="14"/>
<rect x="576" y="103" width="1" height="2"/>
<rect x="576" y="127" width="1" height="3"/>
<rect x="575" y="105" width="3" height="1"/>
<rect x="575" y="126" width="3" height="1"/>
<rect x="575" y="105" width="1" height="22"/>
<rect x="577" y="105" width="1" height="22"/>
<rect x="580" y="105" width="1" height="17"/>
<rect x="578" y="108" width="4" height="8"/>
<rect x="583" y="113" width="1" height="9"/>
<rect x="582" y="90" width="3" height="1"/>
<rect x="582" y="112" width="3" height="1"/>
<rect x="582" y="90" width="1" height="23"/>
<rect x="584" y="90" width="1" height="23"/>
<rect x="587" y="78" width="1" height="6"/>
<rect x="587" y="94" width="1" height="3"/>
<rect x="585" y="84" width="4" height="1"/>
<rect x="585" y="93" width="4" height="1"/>
<rect x="585" y="84" width="1" height="10"/>
<rect x="588" y="84" width="1" height="10"/>
<rect x="591" y="83" width="1" height="43"/>
<rect x="589" y="85" width="4" height="21"/>
<rect x="594" y="108" width="1" height="9"/>
<rect x="594" y="124" width="1" height="3"/>
<rect x="593" y="117" width="3" height="1"/>
<rect x="593" y="123" width="3" height="1"/>
<rect x="593" y="117" width="1" height="7"/>
<rect x="595" y="117" width="1" height="7"/>
<rect x="598" y="108" width="1" height="25"/>
<rect x="596" y="111" width="4" height="7"/>
<rect x="601" y="105" width="1" height="20"/>
<rect x="600" y="116" width="3" height="5"/>
<rect x="605" y="119" width="1" height="13"/>
<rect x="603" y="122" width="4" height="8"/>
<rect x="608" y="108" width="1" height="6"/>
<rect x="608" y="122" width="1" height="15"/>
<rect x="607" y="114" width="3" height="1"/>
<rect x="607" y="121" width="3" height="1"/>
<rect x="607" y="114" width="1" height="8"/>
<rect x="609" y="114" width="1" height="8"/>
<rect x="612" y="97" width="1" height="37"/>
<rect x="610" y="109" width="4" height="16"/>
<rect x="616" y="99" width="1" height="4"/>
<rect x="616" y="122" width="1" height="5"/>
<rect x="614" y="103" width="4" height="1"/>
<rect x="614" y="121" width="4" height="1"/>
<rect x="614" y="103" width="1" height="19"/>
<rect x="617" y="103" width="1" height="19"/>
<rect x="619" y="97" width="1" height="4"/>
<rect x="619" y="104" width="1" height="5"/>
<rect x="618" y="101" width="3" height="1"/>
<rect x="618" y="103" width="3" height="1"/>
<rect x="618" y="101" width="1" height="3"/>
<rect x="620" y="101" width="1" height="3"/>
<rect x="623" y="90" width="1" height="11"/>
<rect x="623" y="104" width="1" height="1"/>
<rect x="621" y="101" width="4" height="1"/>
<rect x="621" y="103" width="4" height="1"/>
<rect x="621" y="101" width="1" height="3"/>
<rect x="624" y="101" width="1" height="3"/>
<rect x="626" y="100" width="1" height="22"/>
<rect x="625" y="102" width="3" height="17"/>
<rect x="630" y="112" width="1" height="16"/>
<rect x="628" y="116" width="4" height="6"/>
<rect x="633" y="112" width="1" height="18"/>
<rect x="632" y="121" width="3" height="3"/>
<rect x="637" y="116" width="1" height="2"/>
<rect x="637" y="122" width="1" height="12"/>
<rect x="635" y="118" width="4" height="1"/>
<rect x="635" y="121" width="4" height="1"/>
<rect x="635" y="118" width="1" height="4"/>
<rect x="638" y="118" width="1" height="4"/>
<rect x="641" y="110" width="1" height="3"/>
<rect x="641" y="121" width="1" height="7"/>
<rect x="639" y="113" width="4" height="1"/>
<rect x="639" y="120" width="4" height="1"/>
<rect x="639" y="113" width="1" height="8"/>
<rect x="642" y="113" width="1" height="8"/>
<rect x="644" y="102" width="1" height="6"/>
<rect x="644" y="113" width="1" height="3"/>
<rect x="643" y="108" width="3" height="1"/>
<rect x="643" y="112" width="3" height="1"/>
<rect x="643" y="108" width="1" height="5"/>
<rect x="645" y="108" width="1" height="5"/>
<rect x="648" y="108" width="1" height="11"/>
<rect x="646" y="113" width="4" height="4"/>
<rect x="651" y="104" width="1" height="4"/>
<rect x="651" y="117" width="1" height="1"/>
<rect x="650" y="108" width="3" height="1"/>
<rect x="650" y="116" width="3" height="1"/>
<rect x="650" y="108" width="1" height="9"/>
<rect x="652" y="108" width="1" height="9"/>
<rect x="655" y="99" width="1" height="13"/>
<rect x="653" y="107" width="4" height="1"/>
<rect x="658" y="98" width="1" height="7"/>
<rect x="658" y="110" width="1" height="1"/>
<rect x="657" y="105" width="3" height="1"/>
<rect x="657" y="109" width="3" height="1"/>
<rect x="657" y="105" width="1" height="5"/>
<rect x="659" y="105" width="1" height="5"/>
<rect x="662" y="105" width="1" height="17"/>
<rect x="660" y="105" width="4" height="11"/>
<rect x="665" y="106" width="1" height="4"/>
<rect x="665" y="115" width="1" height="1"/>
<rect x="664" y="110" width="3" height="1"/>
<rect x="664" y="114" width="3" height="1"/>
<rect x="664" y="110" width="1" height="5"/>
<rect x="666" y="110" width="1" height="5"/>
<rect x="669" y="109" width="1" height="39"/>
<rect x="667" y="111" width="4" height="25"/>
<rect x="673" y="127" width="1" height="15"/>
<rect x="671" y="131" width="4" height="7"/>
<rect x="676" y="135" width="1" height="29"/>
<rect x="675" y="138" width="3" height="20"/>
<rect x="680" y="150" width="1" height="2"/>
<rect x="680" y="158" width="1" height="9"/>
<rect x="678" y="152" width="4" height="1"/>
<rect x="678" y="157" width="4" height="1"/>
<rect x="678" y="152" width="1" height="6"/>
<rect x="681" y="152" width="1" height="6"/>
<rect x="683" y="151" width="1" height="14"/>
<rect x="682" y="155" width="3" height="4"/>
<rect x="687" y="147" width="1" height="3"/>
<rect x="687" y="160" width="1" height="5"/>
<rect x="685" y="150" width="4" height="1"/>
<rect x="685" y="159" width="4" height="1"/>
<rect x="685" y="150" width="1" height="10"/>
<rect x="688" y="150" width="1" height="10"/>
<rect x="690" y="138" width="1" height="1"/>
<rect x="690" y="148" width="1" height="2"/>
<rect x="689" y="139" width="3" height="1"/>
<rect x="689" y="147" width="3" height="1"/>
<rect x="689" y="139" width="1" height="9"/>
<rect x="691" y="139" width="1" height="9"/>
<rect x="694" y="136" width="1" height="12"/>
<rect x="692" y="139" width="4" height="5"/>
<rect x="698" y="131" width="1" height="1"/>
<rect x="698" y="146" width="1" height="1"/>
<rect x="696" y="132" width="4" height="1"/>
<rect x="696" y="145" width="4" height="1"/>
<rect x="696" y="132" width="1" height="14"/>
<rect x="699" y="132" width="1" height="14"/>
<rect x="701" y="128" width="1" height="16"/>
<rect x="700" y="135" width="3" height="3"/>
<rect x="705" y="128" width="1" height="2"/>
<rect x="705" y="135" width="1" height="10"/>
<rect x="703" y="130" width="4" height="1"/>
<rect x="703" y="134" width="4" height="1"/>
<rect x="703" y="130" width="1" height="5"/>
<rect x="706" y="130" width="1" height="5"/>
<rect x="708" y="127" width="1" height="26"/>
<rect x="707" y="131" width="3" height="6"/>
<rect x="712" y="139" width="1" height="6"/>
<rect x="712" y="150" width="1" height="3"/>
<rect x="710" y="145" width="4" height="1"/>
<rect x="710" y="149" width="4" height="1"/>
<rect x="710" y="145" width="1" height="5"/>
<rect x="713" y="145" width="1" height="5"/>
<rect x="715" y="138" width="1" height="5"/>
<rect x="715" y="146" width="1" height="2"/>
<rect x="714" y="143" width="3" height="1"/>
<rect x="714" y="145" width="3" height="1"/>
<rect x="714" y="143" width="1" height="3"/>
<rect x="716" y="143" width="1" height="3"/>
<rect x="719" y="122" width="1" height="5"/>
<rect x="719" y="141" width="1" height="1"/>
<rect x="717" y="127" width="4" height="1"/>
<rect x="717" y="140" width="4" height="1"/>
<rect x="717" y="127" width="1" height="14"/>
<rect x="720" y="127" width="1" height="14"/>
<rect x="722" y="120" width="1" height="9"/>
<rect x="721" y="123" width="3" height="3"/>
<rect x="726" y="125" width="1" height="22"/>
<rect x="724" y="126" width="4" height="17"/>
<rect x="730" y="131" width="1" height="6"/>
<rect x="730" y="144" width="1" height="5"/>
<rect x="728" y="137" width="4" height="1"/>
<rect x="728" y="143" width="4" height="1"/>
<rect x="728" y="137" width="1" height="7"/>
<rect x="731" y="137" width="1" height="7"/>
<rect x="733" y="134" width="1" height="11"/>
<rect x="732" y="136" width="3" height="1"/>
<rect x="737" y="131" width="1" height="10"/>
<rect x="735" y="134" width="4" height="4"/>
<rect x="740" y="128" width="1" height="6"/>
<rect x="740" y="140" width="1" height="1"/>
<rect x="739" y="134" width="3" height="1"/>
<rect x="739" y="139" width="3" height="1"/>
<rect x="739" y="134" width="1" height="6"/>
<rect x="741" y="134" width="1" height="6"/>
<rect x="744" y="131" width="1" height="2"/>
<rect x="744" y="138" width="1" height="5"/>
<rect x="742" y="133" width="4" height="1"/>
<rect x="742" y="137" width="4" height="1"/>
<rect x="742" y="133" width="1" height="5"/>
<rect x="745" y="133" width="1" height="5"/>
<rect x="747" y="122" width="1" height="3"/>
<rect x="747" y="134" width="1" height="1"/>
<rect x="746" y="125" width="3" height="1"/>
<rect x="746" y="133" width="3" height="1"/>
<rect x="746" y="125" width="1" height="9"/>
<rect x="748" y="125" width="1" height="9"/>
<rect x="751" y="124" width="1" height="20"/>
<rect x="749" y="125" width="4" height="14"/>
<rect x="755" y="132" width="1" height="12"/>
<rect x="753" y="138" width="4" height="2"/>
<rect x="758" y="135" width="1" height="10"/>
<rect x="757" y="138" width="3" height="2"/>
<rect x="762" y="133" width="1" height="1"/>
<rect x="762" y="139" width="1" height="2"/>
<rect x="760" y="134" width="4" height="1"/>
<rect x="760" y="138" width="4" height="1"/>
<rect x="760" y="134" width="1" height="5"/>
<rect x="763" y="134" width="1" height="5"/>
<rect x="765" y="134" width="1" height="24"/>
<rect x="764" y="134" width="3" height="18"/>
<rect x="769" y="148" width="1" height="15"/>
<rect x="767" y="152" width="4" height="6"/>
<rect x="772" y="145" width="1" height="7"/>
<rect x="772" y="158" width="1" height="3"/>
<rect x="771" y="152" width="3" height="1"/>
<rect x="771" y="157" width="3" height="1"/>
<rect x="771" y="152" width="1" height="6"/>
<rect x="773" y="152" width="1" height="6"/>
<rect x="776" y="142" width="1" height="2"/>
<rect x="776" y="153" width="1" height="2"/>
<rect x="774" y="144" width="4" height="1"/>
<rect x="774" y="152" width="4" height="1"/>
<rect x="774" y="144" width="1" height="9"/>
<rect x="777" y="144" width="1" height="9"/>
<rect x="780" y="134" width="1" height="1"/>
<rect x="780" y="143" width="1" height="5"/>
<rect x="778" y="135" width="4" height="1"/>
<rect x="778" y="142" width="4" height="1"/>
<rect x="778" y="135" width="1" height="8"/>
<rect x="781" y="135" width="1" height="8"/>
<rect x="783" y="131" width="1" height="20"/>
<rect x="782" y="135" width="3" height="7"/>
<rect x="787" y="113" width="1" height="4"/>
<rect x="785" y="117" width="4" height="1"/>
<rect x="785" y="139" width="4" height="1"/>
<rect x="785" y="117" width="1" height="23"/>
<rect x="788" y="117" width="1" height="23"/>
<rect x="790" y="109" width="1" height="13"/>
<rect x="789" y="114" width="3" height="2"/>
<rect x="794" y="107" width="1" height="62"/>
<rect x="792" y="112" width="4" height="53"/>
<rect x="797" y="146" width="1" height="17"/>
<rect x="796" y="153" width="3" height="7"/>
<rect x="801" y="149" width="1" height="16"/>
<rect x="799" y="153" width="4" height="8"/>
<rect x="804" y="149" width="1" height="5"/>
<rect x="804" y="160" width="1" height="2"/>
<rect x="803" y="154" width="3" height="1"/>
<rect x="803" y="159" width="3" height="1"/>
<rect x="803" y="154" width="1" height="6"/>
<rect x="805" y="154" width="1" height="6"/>
<rect x="808" y="143" width="1" height="5"/>
<rect x="808" y="155" width="1" height="1"/>
<rect x="806" y="148" width="4" height="1"/>
<rect x="806" y="154" width="4" height="1"/>
<rect x="806" y="148" width="1" height="7"/>
<rect x="809" y="148" width="1" height="7"/>
<rect x="812" y="140" width="1" height="21"/>
<rect x="810" y="146" width="4" height="2"/>
<rect x="815" y="144" width="1" height="9"/>
<rect x="814" y="147" width="3" height="2"/>
<rect x="819" y="149" width="1" height="12"/>
<rect x="817" y="151" width="4" height="4"/>
<rect x="822" y="155" width="1" height="13"/>
<rect x="821" y="155" width="3" height="6"/>
<rect x="826" y="151" width="1" height="5"/>
<rect x="826" y="160" width="1" height="3"/>
<rect x="824" y="156" width="4" height="1"/>
<rect x="824" y="159" width="4" height="1"/>
<rect x="824" y="156" width="1" height="4"/>
<rect x="827" y="156" width="1" height="4"/>
<rect x="829" y="153" width="1" height="25"/>
<rect x="828" y="156" width="3" height="18"/>
<rect x="833" y="174" width="1" height="21"/>
<rect x="831" y="174" width="4" height="18"/>
<rect x="837" y="185" width="1" height="9"/>
<rect x="835" y="190" width="4" height="2"/>
<rect x="840" y="181" width="1" height="25"/>
<rect x="839" y="187" width="3" height="14"/>
<rect x="844" y="197" width="1" height="15"/>
<rect x="842" y="198" width="4" height="7"/>
<rect x="847" y="205" width="1" height="1"/>
<rect x="846" y="182" width="3" height="1"/>
<rect x="846" y="204" width="3" height="1"/>
<rect x="846" y="182" width="1" height="23"/>
<rect x="848" y="182" width="1" height="23"/>
<rect x="851" y="174" width="1" height="3"/>
<rect x="851" y="185" width="1" height="4"/>
<rect x="849" y="177" width="4" height="1"/>
<rect x="849" y="184" width="4" height="1"/>
<rect x="849" y="177" width="1" height="8"/>
<rect x="852" y="177" width="1" height="8"/>
<rect x="854" y="168" width="1" height="3"/>
<rect x="854" y="176" width="1" height="4"/>
<rect x="853" y="171" width="3" height="1"/>
<rect x="853" y="175" width="3" height="1"/>
<rect x="853" y="171" width="1" height="5"/>
<rect x="855" y="171" width="1" height="5"/>
<rect x="858" y="165" width="1" height="12"/>
<rect x="856" y="169" width="4" height="4"/>
<rect x="861" y="155" width="1" height="3"/>
<rect x="861" y="172" width="1" height="9"/>
<rect x="860" y="158" width="3" height="1"/>
<rect x="860" y="171" width="3" height="1"/>
<rect x="860" y="158" width="1" height="14"/>
<rect x="862" y="158" width="1" height="14"/>
<rect x="865" y="151" width="1" height="1"/>
<rect x="865" y="159" width="1" height="1"/>
<rect x="863" y="152" width="4" height="1"/>
<rect x="863" y="158" width="4" height="1"/>
<rect x="863" y="152" width="1" height="7"/>
<rect x="866" y="152" width="1" height="7"/>
<rect x="869" y="153" width="1" height="25"/>
<rect x="867" y="153" width="4" height="21"/>
<rect x="872" y="164" width="1" height="13"/>
<rect x="871" y="169" width="3" height="5"/>
<rect x="876" y="166" width="1" height="5"/>
<rect x="876" y="173" width="1" height="7"/>
<rect x="874" y="171" width="4" height="2"/>
<rect x="879" y="169" width="1" height="15"/>
<rect x="878" y="169" width="3" height="8"/>
<rect x="883" y="177" width="1" height="2"/>
<rect x="881" y="163" width="4" height="1"/>
<rect x="881" y="176" width="4" height="1"/>
<rect x="881" y="163" width="1" height="14"/>
<rect x="884" y="163" width="1" height="14"/>
<rect x="886" y="156" width="1" height="13"/>
<rect x="885" y="162" width="3" height="1"/>
<rect x="890" y="140" width="1" height="5"/>
<rect x="890" y="158" width="1" height="1"/>
<rect x="888" y="145" width="4" height="1"/>
<rect x="888" y="157" width="4" height="1"/>
<rect x="888" y="145" width="1" height="13"/>
<rect x="891" y="145" width="1" height="13"/>
<rect x="894" y="142" width="1" height="3"/>
<rect x="894" y="146" width="1" height="2"/>
<rect x="892" y="145" width="4" height="1"/>
<rect x="897" y="135" width="1" height="27"/>
<rect x="896" y="144" width="3" height="6"/>
<rect x="901" y="146" width="1" height="13"/>
<rect x="899" y="149" width="4" height="7"/>
<rect x="904" y="149" width="1" height="13"/>
<rect x="903" y="151" width="3" height="5"/>
<rect x="908" y="147" width="1" height="2"/>
<rect x="908" y="153" width="1" height="1"/>
<rect x="906" y="149" width="4" height="1"/>
<rect x="906" y="152" width="4" height="1"/>
<rect x="906" y="149" width="1" height="4"/>
<rect x="909" y="149" width="1" height="4"/>
<rect x="911" y="139" width="1" height="16"/>
<rect x="910" y="147" width="3" height="5"/>
<rect x="915" y="148" width="1" height="1"/>
<rect x="915" y="153" width="1" height="1"/>
<rect x="913" y="149" width="4" height="1"/>
<rect x="913" y="152" width="4" height="1"/>
<rect x="913" y="149" width="1" height="4"/>
<rect x="916" y="149" width="1" height="4"/>
<rect x="919" y="151" width="1" height="1"/>
<rect x="917" y="144" width="4" height="1"/>
<rect x="917" y="150" width="4" height="1"/>
<rect x="917" y="144" width="1" height="7"/>
<rect x="920" y="144" width="1" height="7"/>
<rect x="922" y="138" width="1" height="9"/>
<rect x="921" y="141" width="3" height="3"/>
<rect x="926" y="137" width="1" height="1"/>
<rect x="924" y="117" width="4" height="1"/>
<rect x="924" y="136" width="4" height="1"/>
<rect x="924" y="117" width="1" height="20"/>
<rect x="927" y="117" width="1" height="20"/>
<rect x="929" y="112" width="1" height="1"/>
<rect x="929" y="118" width="1" height="4"/>
<rect x="928" y="113" width="3" height="1"/>
<rect x="928" y="117" width="3" height="1"/>
<rect x="928" y="113" width="1" height="5"/>
<rect x="930" y="113" width="1" height="5"/>
<rect x="933" y="109" width="1" height="31"/>
<rect x="931" y="114" width="4" height="23"/>
<rect x="936" y="125" width="1" height="12"/>
<rect x="935" y="129" width="3" height="4"/>
<rect x="940" y="131" width="1" height="47"/>
<rect x="938" y="132" width="4" height="42"/>
</g>
<g shape-rendering="crispEdges" fill="#8fb4bc">
<rect x="42" y="424" width="1" height="1"/>
<rect x="42" y="436" width="1" height="1"/>
<rect x="42" y="576" width="1" height="1"/>
<rect x="45" y="424" width="1" height="1"/>
<rect x="45" y="436" width="1" height="1"/>
<rect x="45" y="576" width="1" height="1"/>
<rect x="49" y="424" width="1" height="2"/>
<rect x="49" y="435" width="1" height="2"/>
<rect x="49" y="576" width="1" height="2"/>
<rect x="52" y="424" width="1" height="1"/>
<rect x="52" y="436" width="1" height="1"/>
<rect x="52" y="576" width="1" height="1"/>
<rect x="56" y="424" width="1" height="1"/>
<rect x="56" y="436" width="1" height="1"/>
<rect x="56" y="576" width="1" height="1"/>
<rect x="59" y="424" width="1" height="1"/>
<rect x="59" y="436" width="1" height="1"/>
<rect x="59" y="576" width="1" height="1"/>
<rect x="63" y="424" width="1" height="1"/>
<rect x="63" y="436" width="1" height="1"/>
<rect x="63" y="576" width="1" height="1"/>
<rect x="67" y="424" width="1" height="2"/>
<rect x="67" y="435" width="1" height="2"/>
<rect x="67" y="576" width="1" height="2"/>
<rect x="70" y="424" width="1" height="1"/>
<rect x="70" y="436" width="1" height="1"/>
<rect x="70" y="576" width="1" height="1"/>
<rect x="74" y="424" width="1" height="1"/>
<rect x="74" y="436" width="1" height="1"/>
<rect x="74" y="576" width="1" height="1"/>
<rect x="77" y="424" width="1" height="1"/>
<rect x="77" y="436" width="1" height="1"/>
<rect x="77" y="576" width="1" height="1"/>
<rect x="81" y="424" width="1" height="2"/>
<rect x="81" y="435" width="1" height="2"/>
<rect x="81" y="576" width="1" height="2"/>
<rect x="84" y="424" width="1" height="1"/>
<rect x="84" y="436" width="1" height="1"/>
<rect x="84" y="576" width="1" height="1"/>
<rect x="88" y="424" width="1" height="1"/>
<rect x="88" y="436" width="1" height="1"/>
<rect x="88" y="576" width="1" height="1"/>
<rect x="92" y="424" width="1" height="1"/>
<rect x="92" y="436" width="1" height="1"/>
<rect x="92" y="576" width="1" height="1"/>
<rect x="95" y="424" width="1" height="1"/>
<rect x="95" y="436" width="1" height="1"/>
<rect x="95" y="576" width="1" height="1"/>
<rect x="99" y="424" width="1" height="2"/>
<rect x="99" y="435" width="1" height="2"/>
<rect x="99" y="576" width="1" height="2"/>
<rect x="102" y="424" width="1" height="1"/>
<rect x="102" y="436" width="1" height="1"/>
<rect x="102" y="576" width="1" height="1"/>
<rect x="106" y="424" width="1" height="1"/>
<rect x="106" y="436" width="1" height="1"/>
<rect x="106" y="576" width="1" height="1"/>
<rect x="109" y="424" width="1" height="1"/>
<rect x="109" y="436" width="1" height="1"/>
<rect x="109" y="576" width="1" height="1"/>
<rect x="113" y="424" width="1" height="1"/>
<rect x="113" y="436" width="1" height="1"/>
<rect x="113" y="576" width="1" height="1"/>
<rect x="117" y="424" width="1" height="2"/>
<rect x="117" y="435" width="1" height="2"/>
<rect x="117" y="576" width="1" height="2"/>
<rect x="120" y="424" width="1" height="1"/>
<rect x="120" y="436" width="1" height="1"/>
<rect x="120" y="576" width="1" height="1"/>
<rect x="124" y="424" width="1" height="1"/>
<rect x="124" y="436" width="1" height="1"/>
<rect x="124" y="576" width="1" height="1"/>
<rect x="127" y="424" width="1" height="1"/>
<rect x="127" y="436" width="1" height="1"/>
<rect x="127" y="576" width="1" height="1"/>
<rect x="131" y="424" width="1" height="1"/>
<rect x="131" y="436" width="1" height="1"/>
<rect x="131" y="576" width="1" height="1"/>
<rect x="134" y="424" width="1" height="2"/>
<rect x="134" y="435" width="1" height="2"/>
<rect x="134" y="576" width="1" height="2"/>
<rect x="138" y="424" width="1" height="1"/>
<rect x="138" y="436" width="1" height="1"/>
<rect x="138" y="576" width="1" height="1"/>
<rect x="141" y="424" width="1" height="1"/>
<rect x="141" y="436" width="1" height="1"/>
<rect x="141" y="576" width="1" height="1"/>
<rect x="145" y="424" width="1" height="1"/>
<rect x="145" y="436" width="1" height="1"/>
<rect x="145" y="576" width="1" height="1"/>
<rect x="149" y="424" width="1" height="2"/>
<rect x="149" y="435" width="1" height="2"/>
<rect x="149" y="576" width="1" height="2"/>
<rect x="152" y="424" width="1" height="1"/>
<rect x="152" y="436" width="1" height="1"/>
<rect x="152" y="576" width="1" height="1"/>
<rect x="156" y="424" width="1" height="1"/>
<rect x="156" y="436" width="1" height="1"/>
<rect x="156" y="576" width="1" height="1"/>
<rect x="159" y="424" width="1" height="1"/>
<rect x="159" y="436" width="1" height="1"/>
<rect x="159" y="576" width="1" height="1"/>
<rect x="163" y="424" width="1" height="1"/>
<rect x="163" y="436" width="1" height="1"/>
<rect x="163" y="576" width="1" height="1"/>
<rect x="166" y="424" width="1" height="2"/>
<rect x="166" y="435" width="1" height="2"/>
<rect x="166" y="576" width="1" height="2"/>
<rect x="170" y="424" width="1" height="1"/>
<rect x="170" y="436" width="1" height="1"/>
<rect x="170" y="576" width="1" height="1"/>
<rect x="174" y="424" width="1" height="1"/>
<rect x="174" y="436" width="1" height="1"/>
<rect x="174" y="576" width="1" height="1"/>
<rect x="177" y="424" width="1" height="1"/>
<rect x="177" y="436" width="1" height="1"/>
<rect x="177" y="576" width="1" height="1"/>
<rect x="181" y="424" width="1" height="1"/>
<rect x="181" y="436" width="1" height="1"/>
<rect x="181" y="576" width="1" height="1"/>
<rect x="184" y="424" width="1" height="2"/>
<rect x="184" y="435" width="1" height="2"/>
<rect x="184" y="576" width="1" height="2"/>
<rect x="188" y="424" width="1" height="1"/>
<rect x="188" y="436" width="1" height="1"/>
<rect x="188" y="576" width="1" height="1"/>
<rect x="191" y="424" width="1" height="1"/>
<rect x="191" y="436" width="1" height="1"/>
<rect x="191" y="576" width="1" height="1"/>
<rect x="195" y="424" width="1" height="1"/>
<rect x="195" y="436" width="1" height="1"/>
<rect x="195" y="576" width="1" height="1"/>
<rect x="199" y="424" width="1" height="1"/>
<rect x="199" y="436" width="1" height="1"/>
<rect x="199" y="576" width="1" height="1"/>
<rect x="202" y="424" width="1" height="2"/>
<rect x="202" y="435" width="1" height="2"/>
<rect x="202" y="576" width="1" height="2"/>
<rect x="206" y="424" width="1" height="1"/>
<rect x="206" y="436" width="1" height="1"/>
<rect x="206" y="576" width="1" height="1"/>
<rect x="209" y="424" width="1" height="1"/>
<rect x="209" y="436" width="1" height="1"/>
<rect x="209" y="576" width="1" height="1"/>
<rect x="213" y="424" width="1" height="1"/>
<rect x="213" y="436" width="1" height="1"/>
<rect x="213" y="576" width="1" height="1"/>
<rect x="216" y="424" width="1" height="1"/>
<rect x="216" y="436" width="1" height="1"/>
<rect x="216" y="576" width="1" height="1"/>
<rect x="220" y="424" width="1" height="2"/>
<rect x="220" y="435" width="1" height="2"/>
<rect x="220" y="576" width="1" height="2"/>
<rect x="223" y="424" width="1" height="1"/>
<rect x="223" y="436" width="1" height="1"/>
<rect x="223" y="576" width="1" height="1"/>
<rect x="227" y="424" width="1" height="1"/>
<rect x="227" y="436" width="1" height="1"/>
<rect x="227" y="576" width="1" height="1"/>
<rect x="231" y="424" width="1" height="1"/>
<rect x="231" y="436" width="1" height="1"/>
<rect x="231" y="576" width="1" height="1"/>
<rect x="234" y="424" width="1" height="1"/>
<rect x="234" y="436" width="1" height="1"/>
<rect x="234" y="576" width="1" height="1"/>
<rect x="238" y="424" width="1" height="2"/>
<rect x="238" y="435" width="1" height="2"/>
<rect x="238" y="576" width="1" height="2"/>
<rect x="241" y="424" width="1" height="1"/>
<rect x="241" y="436" width="1" height="1"/>
<rect x="241" y="576" width="1" height="1"/>
<rect x="245" y="424" width="1" height="2"/>
<rect x="245" y="435" width="1" height="2"/>
<rect x="245" y="576" width="1" height="2"/>
<rect x="248" y="424" width="1" height="1"/>
<rect x="248" y="436" width="1" height="1"/>
<rect x="248" y="576" width="1" height="1"/>
<rect x="252" y="424" width="1" height="1"/>
<rect x="252" y="436" width="1" height="1"/>
<rect x="252" y="576" width="1" height="1"/>
<rect x="256" y="424" width="1" height="2"/>
<rect x="256" y="435" width="1" height="2"/>
<rect x="256" y="576" width="1" height="2"/>
<rect x="259" y="424" width="1" height="1"/>
<rect x="259" y="436" width="1" height="1"/>
<rect x="259" y="576" width="1" height="1"/>
<rect x="263" y="424" width="1" height="1"/>
<rect x="263" y="436" width="1" height="1"/>
<rect x="263" y="576" width="1" height="1"/>
<rect x="266" y="424" width="1" height="1"/>
<rect x="266" y="436" width="1" height="1"/>
<rect x="266" y="576" width="1" height="1"/>
<rect x="270" y="424" width="1" height="2"/>
<rect x="270" y="435" width="1" height="2"/>
<rect x="270" y="576" width="1" height="2"/>
<rect x="273" y="424" width="1" height="1"/>
<rect x="273" y="436" width="1" height="1"/>
<rect x="273" y="576" width="1" height="1"/>
<rect x="277" y="424" width="1" height="1"/>
<rect x="277" y="436" width="1" height="1"/>
<rect x="277" y="576" width="1" height="1"/>
<rect x="280" y="424" width="1" height="1"/>
<rect x="280" y="436" width="1" height="1"/>
<rect x="280" y="576" width="1" height="1"/>
<rect x="284" y="424" width="1" height="1"/>
<rect x="284" y="436" width="1" height="1"/>
<rect x="284" y="576" width="1" height="1"/>
<rect x="288" y="424" width="1" height="2"/>
<rect x="288" y="435" width="1" height="2"/>
<rect x="288" y="576" width="1" height="2"/>
<rect x="291" y="424" width="1" height="1"/>
<rect x="291" y="436" width="1" height="1"/>
<rect x="291" y="576" width="1" height="1"/>
<rect x="295" y="424" width="1" height="1"/>
<rect x="295" y="436" width="1" height="1"/>
<rect x="295" y="576" width="1" height="1"/>
<rect x="298" y="424" width="1" height="1"/>
<rect x="298" y="436" width="1" height="1"/>
<rect x="298" y="576" width="1" height="1"/>
<rect x="302" y="424" width="1" height="1"/>
<rect x="302" y="436" width="1" height="1"/>
<rect x="302" y="576" width="1" height="1"/>
<rect x="305" y="424" width="1" height="2"/>
<rect x="305" y="435" width="1" height="2"/>
<rect x="305" y="576" width="1" height="2"/>
<rect x="309" y="424" width="1" height="1"/>
<rect x="309" y="436" width="1" height="1"/>
<rect x="309" y="576" width="1" height="1"/>
<rect x="313" y="424" width="1" height="1"/>
<rect x="313" y="436" width="1" height="1"/>
<rect x="313" y="576" width="1" height="1"/>
<rect x="316" y="424" width="1" height="1"/>
<rect x="316" y="436" width="1" height="1"/>
<rect x="316" y="576" width="1" height="1"/>
<rect x="320" y="424" width="1" height="2"/>
<rect x="320" y="435" width="1" height="2"/>
<rect x="320" y="576" width="1" height="2"/>
<rect x="323" y="424" width="1" height="2"/>
<rect x="323" y="435" width="1" height="2"/>
<rect x="323" y="576" width="1" height="2"/>
<rect x="327" y="424" width="1" height="1"/>
<rect x="327" y="436" width="1" height="1"/>
<rect x="327" y="576" width="1" height="1"/>
<rect x="330" y="424" width="1" height="1"/>
<rect x="330" y="436" width="1" height="1"/>
<rect x="330" y="576" width="1" height="1"/>
<rect x="334" y="424" width="1" height="1"/>
<rect x="334" y="436" width="1" height="1"/>
<rect x="334" y="576" width="1" height="1"/>
<rect x="338" y="424" width="1" height="1"/>
<rect x="338" y="436" width="1" height="1"/>
<rect x="338" y="576" width="1" height="1"/>
<rect x="341" y="424" width="1" height="2"/>
<rect x="341" y="435" width="1" height="2"/>
<rect x="341" y="576" width="1" height="2"/>
<rect x="345" y="424" width="1" height="1"/>
<rect x="345" y="436" width="1" height="1"/>
<rect x="345" y="576" width="1" height="1"/>
<rect x="348" y="424" width="1" height="1"/>
<rect x="348" y="436" width="1" height="1"/>
<rect x="348" y="576" width="1" height="1"/>
<rect x="352" y="424" width="1" height="1"/>
<rect x="352" y="436" width="1" height="1"/>
<rect x="352" y="576" width="1" height="1"/>
<rect x="355" y="424" width="1" height="1"/>
<rect x="355" y="436" width="1" height="1"/>
<rect x="355" y="576" width="1" height="1"/>
<rect x="359" y="424" width="1" height="2"/>
<rect x="359" y="435" width="1" height="2"/>
<rect x="359" y="576" width="1" height="2"/>
<rect x="362" y="424" width="1" height="1"/>
<rect x="362" y="436" width="1" height="1"/>
<rect x="362" y="576" width="1" height="1"/>
<rect x="366" y="424" width="1" height="1"/>
<rect x="366" y="436" width="1" height="1"/>
<rect x="366" y="576" width="1" height="1"/>
<rect x="370" y="424" width="1" height="1"/>
<rect x="370" y="436" width="1" height="1"/>
<rect x="370" y="576" width="1" height="1"/>
<rect x="373" y="424" width="1" height="1"/>
<rect x="373" y="436" width="1" height="1"/>
<rect x="373" y="576" width="1" height="1"/>
<rect x="377" y="424" width="1" height="2"/>
<rect x="377" y="435" width="1" height="2"/>
<rect x="377" y="576" width="1" height="2"/>
<rect x="380" y="424" width="1" height="1"/>
<rect x="380" y="436" width="1" height="1"/>
<rect x="380" y="576" width="1" height="1"/>
<rect x="384" y="424" width="1" height="1"/>
<rect x="384" y="436" width="1" height="1"/>
<rect x="384" y="576" width="1" height="1"/>
<rect x="387" y="424" width="1" height="1"/>
<rect x="387" y="436" width="1" height="1"/>
<rect x="387" y="576" width="1" height="1"/>
<rect x="391" y="424" width="1" height="2"/>
<rect x="391" y="435" width="1" height="2"/>
<rect x="391" y="576" width="1" height="2"/>
<rect x="395" y="424" width="1" height="1"/>
<rect x="395" y="436" width="1" height="1"/>
<rect x="395" y="576" width="1" height="1"/>
<rect x="398" y="424" width="1" height="1"/>
<rect x="398" y="436" width="1" height="1"/>
<rect x="398" y="576" width="1" height="1"/>
<rect x="402" y="424" width="1" height="1"/>
<rect x="402" y="436" width="1" height="1"/>
<rect x="402" y="576" width="1" height="1"/>
<rect x="405" y="424" width="1" height="1"/>
<rect x="405" y="436" width="1" height="1"/>
<rect x="405" y="576" width="1" height="1"/>
<rect x="409" y="424" width="1" height="2"/>
<rect x="409" y="435" width="1" height="2"/>
<rect x="409" y="576" width="1" height="2"/>
<rect x="412" y="424" width="1" height="1"/>
<rect x="412" y="436" width="1" height="1"/>
<rect x="412" y="576" width="1" height="1"/>
<rect x="416" y="424" width="1" height="1"/>
<rect x="416" y="436" width="1" height="1"/>
<rect x="416" y="576" width="1" height="1"/>
<rect x="420" y="424" width="1" height="1"/>
<rect x="420" y="436" width="1" height="1"/>
<rect x="420" y="576" width="1" height="1"/>
<rect x="423" y="424" width="1" height="1"/>
<rect x="423" y="436" width="1" height="1"/>
<rect x="423" y="576" width="1" height="1"/>
<rect x="427" y="424" width="1" height="2"/>
<rect x="427" y="435" width="1" height="2"/>
<rect x="427" y="576" width="1" height="2"/>
<rect x="430" y="424" width="1" height="1"/>
<rect x="430" y="436" width="1" height="1"/>
<rect x="430" y="576" width="1" height="1"/>
<rect x="434" y="424" width="1" height="1"/>
<rect x="434" y="436" width="1" height="1"/>
<rect x="434" y="576" width="1" height="1"/>
<rect x="437" y="424" width="1" height="1"/>
<rect x="437" y="436" width="1" height="1"/>
<rect x="437" y="576" width="1" height="1"/>
<rect x="441" y="424" width="1" height="1"/>
<rect x="441" y="436" width="1" height="1"/>
<rect x="441" y="576" width="1" height="1"/>
<rect x="444" y="424" width="1" height="2"/>
<rect x="444" y="435" width="1" height="2"/>
<rect x="444" y="576" width="1" height="2"/>
<rect x="448" y="424" width="1" height="1"/>
<rect x="448" y="436" width="1" height="1"/>
<rect x="448" y="576" width="1" height="1"/>
<rect x="452" y="424" width="1" height="1"/>
<rect x="452" y="436" width="1" height="1"/>
<rect x="452" y="576" width="1" height="1"/>
<rect x="455" y="424" width="1" height="1"/>
<rect x="455" y="436" width="1" height="1"/>
<rect x="455" y="576" width="1" height="1"/>
<rect x="459" y="424" width="1" height="1"/>
<rect x="459" y="436" width="1" height="1"/>
<rect x="459" y="576" width="1" height="1"/>
<rect x="462" y="424" width="1" height="2"/>
<rect x="462" y="435" width="1" height="2"/>
<rect x="462" y="576" width="1" height="2"/>
<rect x="466" y="424" width="1" height="1"/>
<rect x="466" y="436" width="1" height="1"/>
<rect x="466" y="576" width="1" height="1"/>
<rect x="469" y="424" width="1" height="2"/>
<rect x="469" y="435" width="1" height="2"/>
<rect x="469" y="576" width="1" height="2"/>
<rect x="473" y="424" width="1" height="1"/>
<rect x="473" y="436" width="1" height="1"/>
<rect x="473" y="576" width="1" height="1"/>
<rect x="477" y="424" width="1" height="2"/>
<rect x="477" y="435" width="1" height="2"/>
<rect x="477" y="576" width="1" height="2"/>
<rect x="480" y="424" width="1" height="1"/>
<rect x="480" y="436" width="1" height="1"/>
<rect x="480" y="576" width="1" height="1"/>
<rect x="484" y="424" width="1" height="1"/>
<rect x="484" y="436" width="1" height="1"/>
<rect x="484" y="576" width="1" height="1"/>
<rect x="487" y="424" width="1" height="1"/>
<rect x="487" y="436" width="1" height="1"/>
<rect x="487" y="576" width="1" height="1"/>
<rect x="491" y="424" width="1" height="1"/>
<rect x="491" y="436" width="1" height="1"/>
<rect x="491" y="576" width="1" height="1"/>
<rect x="494" y="424" width="1" height="2"/>
<rect x="494" y="435" width="1" height="2"/>
<rect x="494" y="576" width="1" height="2"/>
<rect x="498" y="424" width="1" height="1"/>
<rect x="498" y="436" width="1" height="1"/>
<rect x="498" y="576" width="1" height="1"/>
<rect x="501" y="424" width="1" height="1"/>
<rect x="501" y="436" width="1" height="1"/>
<rect x="501" y="576" width="1" height="1"/>
<rect x="505" y="424" width="1" height="1"/>
<rect x="505" y="436" width="1" height="1"/>
<rect x="505" y="576" width="1" height="1"/>
<rect x="509" y="424" width="1" height="1"/>
<rect x="509" y="436" width="1" height="1"/>
<rect x="509" y="576" width="1" height="1"/>
<rect x="512" y="424" width="1" height="2"/>
<rect x="512" y="435" width="1" height="2"/>
<rect x="512" y="576" width="1" height="2"/>
<rect x="516" y="424" width="1" height="1"/>
<rect x="516" y="436" width="1" height="1"/>
<rect x="516" y="576" width="1" height="1"/>
<rect x="519" y="424" width="1" height="1"/>
<rect x="519" y="436" width="1" height="1"/>
<rect x="519" y="576" width="1" height="1"/>
<rect x="523" y="424" width="1" height="1"/>
<rect x="523" y="436" width="1" height="1"/>
<rect x="523" y="576" width="1" height="1"/>
<rect x="526" y="424" width="1" height="1"/>
<rect x="526" y="436" width="1" height="1"/>
<rect x="526" y="576" width="1" height="1"/>
<rect x="530" y="424" width="1" height="2"/>
<rect x="530" y="435" width="1" height="2"/>
<rect x="530" y="576" width="1" height="2"/>
<rect x="534" y="424" width="1" height="1"/>
<rect x="534" y="436" width="1" height="1"/>
<rect x="534" y="576" width="1" height="1"/>
<rect x="537" y="424" width="1" height="1"/>
<rect x="537" y="436" width="1" height="1"/>
<rect x="537" y="576" width="1" height="1"/>
<rect x="541" y="424" width="1" height="1"/>
<rect x="541" y="436" width="1" height="1"/>
<rect x="541" y="576" width="1" height="1"/>
<rect x="544" y="424" width="1" height="1"/>
<rect x="544" y="436" width="1" height="1"/>
<rect x="544" y="576" width="1" height="1"/>
<rect x="548" y="424" width="1" height="2"/>
<rect x="548" y="435" width="1" height="2"/>
<rect x="548" y="576" width="1" height="2"/>
<rect x="551" y="424" width="1" height="1"/>
<rect x="551" y="436" width="1" height="1"/>
<rect x="551" y="576" width="1" height="1"/>
<rect x="555" y="424" width="1" height="1"/>
<rect x="555" y="436" width="1" height="1"/>
<rect x="555" y="576" width="1" height="1"/>
<rect x="559" y="424" width="1" height="1"/>
<rect x="559" y="436" width="1" height="1"/>
<rect x="559" y="576" width="1" height="1"/>
<rect x="562" y="424" width="1" height="1"/>
<rect x="562" y="436" width="1" height="1"/>
<rect x="562" y="576" width="1" height="1"/>
<rect x="566" y="424" width="1" height="2"/>
<rect x="566" y="435" width="1" height="2"/>
<rect x="566" y="576" width="1" height="2"/>
<rect x="569" y="424" width="1" height="1"/>
<rect x="569" y="436" width="1" height="1"/>
<rect x="569" y="576" width="1" height="1"/>
<rect x="573" y="424" width="1" height="1"/>
<rect x="573" y="436" width="1" height="1"/>
<rect x="573" y="576" width="1" height="1"/>
<rect x="576" y="424" width="1" height="1"/>
<rect x="576" y="436" width="1" height="1"/>
<rect x="576" y="576" width="1" height="1"/>
<rect x="580" y="424" width="1" height="1"/>
<rect x="580" y="436" width="1" height="1"/>
<rect x="580" y="576" width="1" height="1"/>
<rect x="583" y="424" width="1" height="2"/>
<rect x="583" y="435" width="1" height="2"/>
<rect x="583" y="576" width="1" height="2"/>
<rect x="587" y="424" width="1" height="1"/>
<rect x="587" y="436" width="1" height="1"/>
<rect x="587" y="576" width="1" height="1"/>
<rect x="591" y="424" width="1" height="1"/>
<rect x="591" y="436" width="1" height="1"/>
<rect x="591" y="576" width="1" height="1"/>
<rect x="594" y="424" width="1" height="1"/>
<rect x="594" y="436" width="1" height="1"/>
<rect x="594" y="576" width="1" height="1"/>
<rect x="598" y="424" width="1" height="1"/>
<rect x="598" y="436" width="1" height="1"/>
<rect x="598" y="576" width="1" height="1"/>
<rect x="601" y="424" width="1" height="2"/>
<rect x="601" y="435" width="1" height="2"/>
<rect x="601" y="576" width="1" height="2"/>
<rect x="605" y="424" width="1" height="1"/>
<rect x="605" y="436" width="1" height="1"/>
<rect x="605" y="576" width="1" height="1"/>
<rect x="608" y="424" width="1" height="1"/>
<rect x="608" y="436" width="1" height="1"/>
<rect x="608" y="576" width="1" height="1"/>
<rect x="612" y="424" width="1" height="1"/>
<rect x="612" y="436" width="1" height="1"/>
<rect x="612" y="576" width="1" height="1"/>
<rect x="616" y="424" width="1" height="1"/>
<rect x="616" y="436" width="1" height="1"/>
<rect x="616" y="576" width="1" height="1"/>
<rect x="619" y="424" width="1" height="2"/>
<rect x="619" y="435" width="1" height="2"/>
<rect x="619" y="576" width="1" height="2"/>
<rect x="623" y="424" width="1" height="2"/>
<rect x="623" y="435" width="1" height="2"/>
<rect x="623" y="576" width="1" height="2"/>
<rect x="626" y="424" width="1" height="1"/>
<rect x="626" y="436" width="1" height="1"/>
<rect x="626" y="576" width="1" height="1"/>
<rect x="630" y="424" width="1" height="1"/>
<rect x="630" y="436" width="1" height="1"/>
<rect x="630" y="576" width="1" height="1"/>
<rect x="633" y="424" width="1" height="1"/>
<rect x="633" y="436" width="1" height="1"/>
<rect x="633" y="576" width="1" height="1"/>
<rect x="637" y="424" width="1" height="2"/>
<rect x="637" y="435" width="1" height="2"/>
<rect x="637" y="576" width="1" height="2"/>
<rect x="641" y="424" width="1" height="1"/>
<rect x="641" y="436" width="1" height="1"/>
<rect x="641" y="576" width="1" height="1"/>
<rect x="644" y="424" width="1" height="1"/>
<rect x="644" y="436" width="1" height="1"/>
<rect x="644" y="576" width="1" height="1"/>
<rect x="648" y="424" width="1" height="1"/>
<rect x="648" y="436" width="1" height="1"/>
<rect x="648" y="576" width="1" height="1"/>
<rect x="651" y="424" width="1" height="2"/>
<rect x="651" y="435" width="1" height="2"/>
<rect x="651" y="576" width="1" height="2"/>
<rect x="655" y="424" width="1" height="1"/>
<rect x="655" y="436" width="1" height="1"/>
<rect x="655" y="576" width="1" height="1"/>
<rect x="658" y="424" width="1" height="1"/>
<rect x="658" y="436" width="1" height="1"/>
<rect x="658" y="576" width="1" height="1"/>
<rect x="662" y="424" width="1" height="1"/>
<rect x="662" y="436" width="1" height="1"/>
<rect x="662" y="576" width="1" height="1"/>
<rect x="665" y="424" width="1" height="1"/>
<rect x="665" y="436" width="1" height="1"/>
<rect x="665" y="576" width="1" height="1"/>
<rect x="669" y="424" width="1" height="2"/>
<rect x="669" y="435" width="1" height="2"/>
<rect x="669" y="576" width="1" height="2"/>
<rect x="673" y="424" width="1" height="1"/>
<rect x="673" y="436" width="1" height="1"/>
<rect x="673" y="576" width="1" height="1"/>
<rect x="676" y="424" width="1" height="1"/>
<rect x="676" y="436" width="1" height="1"/>
<rect x="676" y="576" width="1" height="1"/>
<rect x="680" y="424" width="1" height="1"/>
<rect x="680" y="436" width="1" height="1"/>
<rect x="680" y="576" width="1" height="1"/>
<rect x="683" y="424" width="1" height="1"/>
<rect x="683" y="436" width="1" height="1"/>
<rect x="683" y="576" width="1" height="1"/>
<rect x="687" y="424" width="1" height="2"/>
<rect x="687" y="435" width="1" height="2"/>
<rect x="687" y="576" width="1" height="2"/>
<rect x="690" y="424" width="1" height="1"/>
<rect x="690" y="436" width="1" height="1"/>
<rect x="690" y="576" width="1" height="1"/>
<rect x="694" y="424" width="1" height="1"/>
<rect x="694" y="436" width="1" height="1"/>
<rect x="694" y="576" width="1" height="1"/>
<rect x="698" y="424" width="1" height="2"/>
<rect x="698" y="435" width="1" height="2"/>
<rect x="698" y="576" width="1" height="2"/>
<rect x="701" y="424" width="1" height="1"/>
<rect x="701" y="436" width="1" height="1"/>
<rect x="701" y="576" width="1" height="1"/>
<rect x="705" y="424" width="1" height="2"/>
<rect x="705" y="435" width="1" height="2"/>
<rect x="705" y="576" width="1" height="2"/>
<rect x="708" y="424" width="1" height="1"/>
<rect x="708" y="436" width="1" height="1"/>
<rect x="708" y="576" width="1" height="1"/>
<rect x="712" y="424" width="1" height="1"/>
<rect x="712" y="436" width="1" height="1"/>
<rect x="712" y="576" width="1" height="1"/>
<rect x="715" y="424" width="1" height="1"/>
<rect x="715" y="436" width="1" height="1"/>
<rect x="715" y="576" width="1" height="1"/>
<rect x="719" y="424" width="1" height="1"/>
<rect x="719" y="436" width="1" height="1"/>
<rect x="719" y="576" width="1" height="1"/>
<rect x="722" y="424" width="1" height="2"/>
<rect x="722" y="435" width="1" height="2"/>
<rect x="722" y="576" width="1" height="2"/>
<rect x="726" y="424" width="1" height="1"/>
<rect x="726" y="436" width="1" height="1"/>
<rect x="726" y="576" width="1" height="1"/>
<rect x="730" y="424" width="1" height="1"/>
<rect x="730" y="436" width="1" height="1"/>
<rect x="730" y="576" width="1" height="1"/>
<rect x="733" y="424" width="1" height="1"/>
<rect x="733" y="436" width="1" height="1"/>
<rect x="733" y="576" width="1" height="1"/>
<rect x="737" y="424" width="1" height="1"/>
<rect x="737" y="436" width="1" height="1"/>
<rect x="737" y="576" width="1" height="1"/>
<rect x="740" y="424" width="1" height="2"/>
<rect x="740" y="435" width="1" height="2"/>
<rect x="740" y="576" width="1" height="2"/>
<rect x="744" y="424" width="1" height="1"/>
<rect x="744" y="436" width="1" height="1"/>
<rect x="744" y="576" width="1" height="1"/>
<rect x="747" y="424" width="1" height="1"/>
<rect x="747" y="436" width="1" height="1"/>
<rect x="747" y="576" width="1" height="1"/>
<rect x="751" y="424" width="1" height="1"/>
<rect x="751" y="436" width="1" height="1"/>
<rect x="751" y="576" width="1" height="1"/>
<rect x="755" y="424" width="1" height="1"/>
<rect x="755" y="436" width="1" height="1"/>
<rect x="755" y="576" width="1" height="1"/>
<rect x="758" y="424" width="1" height="2"/>
<rect x="758" y="435" width="1" height="2"/>
<rect x="758" y="576" width="1" height="2"/>
<rect x="762" y="424" width="1" height="1"/>
<rect x="762" y="436" width="1" height="1"/>
<rect x="762" y="576" width="1" height="1"/>
<rect x="765" y="424" width="1" height="1"/>
<rect x="765" y="436" width="1" height="1"/>
<rect x="765" y="576" width="1" height="1"/>
<rect x="769" y="424" width="1" height="1"/>
<rect x="769" y="436" width="1" height="1"/>
<rect x="769" y="576" width="1" height="1"/>
<rect x="772" y="424" width="1" height="1"/>
<rect x="772" y="436" width="1" height="1"/>
<rect x="772" y="576" width="1" height="1"/>
<rect x="776" y="424" width="1" height="2"/>
<rect x="776" y="435" width="1" height="2"/>
<rect x="776" y="576" width="1" height="2"/>
<rect x="780" y="424" width="1" height="1"/>
<rect x="780" y="436" width="1" height="1"/>
<rect x="780" y="576" width="1" height="1"/>
<rect x="783" y="424" width="1" height="1"/>
<rect x="783" y="436" width="1" height="1"/>
<rect x="783" y="576" width="1" height="1"/>
<rect x="787" y="424" width="1" height="1"/>
<rect x="787" y="436" width="1" height="1"/>
<rect x="787" y="576" width="1" height="1"/>
<rect x="790" y="424" width="1" height="1"/>
<rect x="790" y="436" width="1" height="1"/>
<rect x="790" y="576" width="1" height="1"/>
<rect x="794" y="424" width="1" height="2"/>
<rect x="794" y="435" width="1" height="2"/>
<rect x="794" y="576" width="1" height="2"/>
<rect x="797" y="424" width="1" height="1"/>
<rect x="797" y="436" width="1" height="1"/>
<rect x="797" y="576" width="1" height="1"/>
<rect x="801" y="424" width="1" height="1"/>
<rect x="801" y="436" width="1" height="1"/>
<rect x="801" y="576" width="1" height="1"/>
<rect x="804" y="424" width="1" height="1"/>
<rect x="804" y="436" width="1" height="1"/>
<rect x="804" y="576" width="1" height="1"/>
<rect x="808" y="424" width="1" height="1"/>
<rect x="808" y="436" width="1" height="1"/>
<rect x="808" y="576" width="1" height="1"/>
<rect x="812" y="424" width="1" height="2"/>
<rect x="812" y="435" width="1" height="2"/>
<rect x="812" y="576" width="1" height="2"/>
<rect x="815" y="424" width="1" height="1"/>
<rect x="815" y="436" width="1" height="1"/>
<rect x="815" y="576" width="1" height="1"/>
<rect x="819" y="424" width="1" height="1"/>
<rect x="819" y="436" width="1" height="1"/>
<rect x="819" y="576" width="1" height="1"/>
<rect x="822" y="424" width="1" height="1"/>
<rect x="822" y="436" width="1" height="1"/>
<rect x="822" y="576" width="1" height="1"/>
<rect x="826" y="424" width="1" height="1"/>
<rect x="826" y="436" width="1" height="1"/>
<rect x="826" y="576" width="1" height="1"/>
<rect x="829" y="424" width="1" height="2"/>
<rect x="829" y="435" width="1" height="2"/>
<rect x="829" y="576" width="1" height="2"/>
<rect x="833" y="424" width="1" height="1"/>
<rect x="833" y="436" width="1" height="1"/>
<rect x="833" y="576" width="1" height="1"/>
<rect x="837" y="424" width="1" height="1"/>
<rect x="837" y="436" width="1" height="1"/>
<rect x="837" y="576" width="1" height="1"/>
<rect x="840" y="424" width="1" height="1"/>
<rect x="840" y="436" width="1" height="1"/>
<rect x="840" y="576" width="1" height="1"/>
<rect x="844" y="424" width="1" height="2"/>
<rect x="844" y="435" width="1" height="2"/>
<rect x="844" y="576" width="1" height="2"/>
<rect x="847" y="424" width="1" height="2"/>
<rect x="847" y="435" width="1" height="2"/>
<rect x="847" y="576" width="1" height="2"/>
<rect x="851" y="424" width="1" height="1"/>
<rect x="851" y="436" width="1" height="1"/>
<rect x="851" y="576" width="1" height="1"/>
<rect x="854" y="424" width="1" height="1"/>
<rect x="854" y="436" width="1" height="1"/>
<rect x="854" y="576" width="1" height="1"/>
<rect x="858" y="424" width="1" height="1"/>
<rect x="858" y="436" width="1" height="1"/>
<rect x="858" y="576" width="1" height="1"/>
<rect x="861" y="424" width="1" height="2"/>
<rect x="861" y="435" width="1" height="2"/>
<rect x="861" y="576" width="1" height="2"/>
<rect x="865" y="424" width="1" height="1"/>
<rect x="865" y="436" width="1" height="1"/>
<rect x="865" y="576" width="1" height="1"/>
<rect x="869" y="424" width="1" height="1"/>
<rect x="869" y="436" width="1" height="1"/>
<rect x="869" y="576" width="1" height="1"/>
<rect x="872" y="424" width="1" height="1"/>
<rect x="872" y="436" width="1" height="1"/>
<rect x="872" y="576" width="1" height="1"/>
<rect x="876" y="424" width="1" height="1"/>
<rect x="876" y="436" width="1" height="1"/>
<rect x="876" y="576" width="1" height="1"/>
<rect x="879" y="424" width="1" height="2"/>
<rect x="879" y="435" width="1" height="2"/>
<rect x="879" y="576" width="1" height="2"/>
<rect x="883" y="424" width="1" height="1"/>
<rect x="883" y="436" width="1" height="1"/>
<rect x="883" y="576" width="1" height="1"/>
<rect x="886" y="424" width="1" height="1"/>
<rect x="886" y="436" width="1" height="1"/>
<rect x="886" y="576" width="1" height="1"/>
<rect x="890" y="424" width="1" height="1"/>
<rect x="890" y="436" width="1" height="1"/>
<rect x="890" y="576" width="1" height="1"/>
<rect x="894" y="424" width="1" height="1"/>
<rect x="894" y="436" width="1" height="1"/>
<rect x="894" y="576" width="1" height="1"/>
<rect x="897" y="424" width="1" height="2"/>
<rect x="897" y="435" width="1" height="2"/>
<rect x="897" y="576" width="1" height="2"/>
<rect x="901" y="424" width="1" height="1"/>
<rect x="901" y="436" width="1" height="1"/>
<rect x="901" y="576" width="1" height="1"/>
<rect x="904" y="424" width="1" height="1"/>
<rect x="904" y="436" width="1" height="1"/>
<rect x="904" y="576" width="1" height="1"/>
<rect x="908" y="424" width="1" height="1"/>
<rect x="908" y="436" width="1" height="1"/>
<rect x="908" y="576" width="1" height="1"/>
<rect x="911" y="424" width="1" height="2"/>
<rect x="911" y="435" width="1" height="2"/>
<rect x="911" y="576" width="1" height="2"/>
<rect x="915" y="424" width="1" height="1"/>
<rect x="915" y="436" width="1" height="1"/>
<rect x="915" y="576" width="1" height="1"/>
<rect x="919" y="424" width="1" height="1"/>
<rect x="919" y="436" width="1" height="1"/>
<rect x="919" y="576" width="1" height="1"/>
<rect x="922" y="424" width="1" height="1"/>
<rect x="922" y="436" width="1" height="1"/>
<rect x="922" y="576" width="1" height="1"/>
<rect x="926" y="424" width="1" height="2"/>
<rect x="926" y="435" width="1" height="2"/>
<rect x="926" y="576" width="1" height="2"/>
<rect x="929" y="424" width="1" height="1"/>
<rect x="929" y="436" width="1" height="1"/>
<rect x="929" y="576" width="1" height="1"/>
<rect x="933" y="424" width="1" height="1"/>
<rect x="933" y="436" width="1" height="1"/>
<rect x="933" y="576" width="1" height="1"/>
<rect x="936" y="424" width="1" height="1"/>
<rect x="936" y="436" width="1" height="1"/>
<rect x="936" y="576" width="1" height="1"/>
<rect x="940" y="424" width="1" height="1"/>
<rect x="940" y="436" width="1" height="1"/>
<rect x="940" y="576" width="1" height="1"/>
</g>
<g shape-rendering="crispEdges" fill="none" stroke="#8fb4bc" stroke-width="1"><rect x="40.5" y="28.5" width="906" height="395"/><rect x="40.5" y="437.5" width="906" height="138"/></g>
<polygon points="543.1,31.7 579.7,31.7 579.7,42.1 567.2,42.1 562.5,46.8 557.8,42.1 543.1,42.1" fill="#cff3f5" fill-opacity="0.92" stroke="#9ec6d0" stroke-width="0.9"/>
<text x="561.4" y="40.1" font-size="9.6" text-anchor="middle" textLength="31.7" lengthAdjust="spacingAndGlyphs" fill="#000" stroke="#000" stroke-width="0.3">2089.20</text>
<polygon points="554.1,160.1 568.8,160.1 573.5,155.5 578.2,160.1 590.7,160.1 590.7,170.5 554.1,170.5" fill="#cff3f5" fill-opacity="0.92" stroke="#9ec6d0" stroke-width="0.9"/>
<text x="572.4" y="168.6" font-size="9.6" text-anchor="middle" textLength="31.7" lengthAdjust="spacingAndGlyphs" fill="#000" stroke="#000" stroke-width="0.3">1874.20</text>
<polygon points="340.1,191.4 376.7,191.4 376.7,201.8 364.2,201.8 359.5,206.5 354.8,201.8 340.1,201.8" fill="#cff3f5" fill-opacity="0.92" stroke="#9ec6d0" stroke-width="0.9"/>
<text x="358.4" y="199.8" font-size="9.6" text-anchor="middle" textLength="31.7" lengthAdjust="spacingAndGlyphs" fill="#000" stroke="#000" stroke-width="0.3">1775.80</text>
<polygon points="254.1,184.1 290.7,184.1 290.7,194.5 278.2,194.5 273.5,199.2 268.8,194.5 254.1,194.5" fill="#cff3f5" fill-opacity="0.92" stroke="#9ec6d0" stroke-width="0.9"/>
<text x="272.4" y="192.5" font-size="9.6" text-anchor="middle" textLength="31.7" lengthAdjust="spacingAndGlyphs" fill="#000" stroke="#000" stroke-width="0.3">1788.80</text>
<polygon points="130.1,238.7 166.7,238.7 166.7,249.1 154.2,249.1 149.5,253.8 144.8,249.1 130.1,249.1" fill="#cff3f5" fill-opacity="0.92" stroke="#9ec6d0" stroke-width="0.9"/>
<text x="148.4" y="247.1" font-size="9.6" text-anchor="middle" textLength="31.7" lengthAdjust="spacingAndGlyphs" fill="#000" stroke="#000" stroke-width="0.3">1691.70</text>
<polygon points="208.1,234.4 244.7,234.4 244.7,244.8 232.2,244.8 227.5,249.5 222.8,244.8 208.1,244.8" fill="#cff3f5" fill-opacity="0.92" stroke="#9ec6d0" stroke-width="0.9"/>
<text x="226.4" y="242.8" font-size="9.6" text-anchor="middle" textLength="31.7" lengthAdjust="spacingAndGlyphs" fill="#000" stroke="#000" stroke-width="0.3">1699.30</text>
<polygon points="144.1,336.6 158.8,336.6 163.5,332.0 168.2,336.6 180.7,336.6 180.7,347.0 144.1,347.0" fill="#cff3f5" fill-opacity="0.92" stroke="#9ec6d0" stroke-width="0.9"/>
<text x="162.4" y="345.1" font-size="9.6" text-anchor="middle" textLength="31.7" lengthAdjust="spacingAndGlyphs" fill="#000" stroke="#000" stroke-width="0.3">1564.00</text>
<polygon points="226.1,330.5 240.8,330.5 245.5,325.9 250.2,330.5 262.7,330.5 262.7,340.9 226.1,340.9" fill="#cff3f5" fill-opacity="0.92" stroke="#9ec6d0" stroke-width="0.9"/>
<text x="244.4" y="339.0" font-size="9.6" text-anchor="middle" textLength="31.7" lengthAdjust="spacingAndGlyphs" fill="#000" stroke="#000" stroke-width="0.3">1576.00</text>
<polygon points="272.1,275.6 286.8,275.6 291.5,271.0 296.2,275.6 308.7,275.6 308.7,286.0 272.1,286.0" fill="#cff3f5" fill-opacity="0.92" stroke="#9ec6d0" stroke-width="0.9"/>
<text x="290.4" y="284.1" font-size="9.6" text-anchor="middle" textLength="31.7" lengthAdjust="spacingAndGlyphs" fill="#000" stroke="#000" stroke-width="0.3">1666.20</text>
<polygon points="386.1,272.3 400.8,272.3 405.5,267.7 410.2,272.3 422.7,272.3 422.7,282.7 386.1,282.7" fill="#cff3f5" fill-opacity="0.92" stroke="#9ec6d0" stroke-width="0.9"/>
<text x="404.4" y="280.8" font-size="9.6" text-anchor="middle" textLength="31.7" lengthAdjust="spacingAndGlyphs" fill="#000" stroke="#000" stroke-width="0.3">1671.70</text>
<polygon points="661.1,172.3 675.8,172.3 680.5,167.7 685.2,172.3 697.7,172.3 697.7,182.7 661.1,182.7" fill="#cff3f5" fill-opacity="0.92" stroke="#9ec6d0" stroke-width="0.9"/>
<text x="679.4" y="180.8" font-size="9.6" text-anchor="middle" textLength="31.7" lengthAdjust="spacingAndGlyphs" fill="#000" stroke="#000" stroke-width="0.3">1851.00</text>
<polygon points="775.1,91.7 811.7,91.7 811.7,102.1 799.2,102.1 794.5,106.8 789.8,102.1 775.1,102.1" fill="#cff3f5" fill-opacity="0.92" stroke="#9ec6d0" stroke-width="0.9"/>
<text x="793.4" y="100.1" font-size="9.6" text-anchor="middle" textLength="31.7" lengthAdjust="spacingAndGlyphs" fill="#000" stroke="#000" stroke-width="0.3">1966.10</text>
<polygon points="914.1,92.9 950.7,92.9 950.7,103.3 938.2,103.3 933.5,108.0 928.8,103.3 914.1,103.3" fill="#cff3f5" fill-opacity="0.92" stroke="#9ec6d0" stroke-width="0.9"/>
<text x="932.4" y="101.3" font-size="9.6" text-anchor="middle" textLength="31.7" lengthAdjust="spacingAndGlyphs" fill="#000" stroke="#000" stroke-width="0.3">1962.50</text>
<polygon points="825.1,217.1 839.8,217.1 844.5,212.5 849.2,217.1 861.7,217.1 861.7,227.5 825.1,227.5" fill="#cff3f5" fill-opacity="0.92" stroke="#9ec6d0" stroke-width="0.9"/>
<text x="843.4" y="225.6" font-size="9.6" text-anchor="middle" textLength="31.7" lengthAdjust="spacingAndGlyphs" fill="#000" stroke="#000" stroke-width="0.3">1767.20</text>
<polygon points="183.1,410.0 197.8,410.0 202.5,405.4 207.2,410.0 219.7,410.0 219.7,420.4 183.1,420.4" fill="#cff3f5" fill-opacity="0.92" stroke="#9ec6d0" stroke-width="0.9"/>
<text x="201.4" y="418.5" font-size="9.6" text-anchor="middle" textLength="31.7" lengthAdjust="spacingAndGlyphs" fill="#000" stroke="#000" stroke-width="0.3">1450.90</text>
<path d="M42.5,482.5 L42.5,482.2 L45.5,480.5 L49.5,482.5 L52.5,482.5 L56.5,482.5 L59.5,482.5 L63.5,482.5 L67.5,482.5 L70.5,482.5 L74.5,482.5 L77.5,482.5 L81.5,481.3 L84.5,482.5 L88.5,482.5 L92.5,479.1 L95.5,481.3 L99.5,482.5 L102.5,482.5 L106.5,482.5 L109.5,482.5 L113.5,482.5 L117.5,482.5 L120.5,482.5 L124.5,482.5 L127.5,482.5 L131.5,482.5 L134.5,482.5 L138.5,481.3 L141.5,477.1 L145.5,471.2 L149.5,466.4 L152.5,482.5 L156.5,482.5 L159.5,482.5 L163.5,482.5 L166.5,482.5 L170.5,482.5 L174.5,482.5 L177.5,482.5 L181.5,482.5 L184.5,482.5 L188.5,482.5 L191.5,482.5 L195.5,482.5 L199.5,482.5 L202.5,482.5 L206.5,482.5 L209.5,482.5 L213.5,482.5 L216.5,482.5 L220.5,482.5 L223.5,482.5 L227.5,482.5 L231.5,482.5 L234.5,482.5 L238.5,482.5 L241.5,482.5 L245.5,482.5 L248.5,482.5 L252.5,482.5 L256.5,482.5 L259.5,482.5 L263.5,482.5 L266.5,482.5 L270.5,482.5 L273.5,482.5 L277.5,482.5 L280.5,482.5 L284.5,482.5 L288.5,482.5 L291.5,482.5 L295.5,482.5 L298.5,482.5 L302.5,482.5 L305.5,482.5 L309.5,482.5 L313.5,482.5 L316.5,482.5 L320.5,482.5 L323.5,482.5 L327.5,482.5 L330.5,482.5 L334.5,482.5 L338.5,482.5 L341.5,482.5 L345.5,482.5 L348.5,482.5 L352.5,482.5 L355.5,482.5 L359.5,482.5 L362.5,482.5 L366.5,482.5 L370.5,482.5 L373.5,482.5 L377.5,482.5 L380.5,482.5 L384.5,482.5 L387.5,482.5 L391.5,482.5 L395.5,482.5 L398.5,482.5 L402.5,482.5 L405.5,482.5 L409.5,482.5 L412.5,482.5 L416.5,482.5 L420.5,482.5 L423.5,482.5 L427.5,482.5 L430.5,482.5 L434.5,482.5 L437.5,482.5 L441.5,482.5 L444.5,482.5 L448.5,482.5 L452.5,482.5 L455.5,482.5 L459.5,482.5 L462.5,482.5 L466.5,482.5 L469.5,482.5 L473.5,482.5 L477.5,482.5 L480.5,482.5 L484.5,482.5 L487.5,482.5 L491.5,482.5 L494.5,482.5 L498.5,482.5 L501.5,482.5 L505.5,482.5 L509.5,482.5 L512.5,482.5 L516.5,482.5 L519.5,478.8 L523.5,474.9 L526.5,473.2 L530.5,468.7 L534.5,467.3 L537.5,466.1 L541.5,464.3 L544.5,462.2 L548.5,462.2 L551.5,459.4 L555.5,457.5 L559.5,456.3 L562.5,475.3 L566.5,473.2 L569.5,482.5 L573.5,482.5 L576.5,482.5 L580.5,482.5 L583.5,482.5 L587.5,482.5 L591.5,482.5 L594.5,482.5 L598.5,482.5 L601.5,482.5 L605.5,482.5 L608.5,482.5 L612.5,482.5 L616.5,482.5 L619.5,482.5 L623.5,482.5 L626.5,482.5 L630.5,482.5 L633.5,482.5 L637.5,482.5 L641.5,482.5 L644.5,482.5 L648.5,482.5 L651.5,482.5 L655.5,482.5 L658.5,482.5 L662.5,482.5 L665.5,482.5 L669.5,482.5 L673.5,482.5 L676.5,482.5 L680.5,482.5 L683.5,482.5 L687.5,482.5 L690.5,482.5 L694.5,482.5 L698.5,482.5 L701.5,482.5 L705.5,482.5 L708.5,482.5 L712.5,482.5 L715.5,482.5 L719.5,482.5 L722.5,482.5 L726.5,482.5 L730.5,482.5 L733.5,482.5 L737.5,482.5 L740.5,482.5 L744.5,482.5 L747.5,482.5 L751.5,482.5 L755.5,482.5 L758.5,482.5 L762.5,482.5 L765.5,482.5 L769.5,482.5 L772.5,482.5 L776.5,482.5 L780.5,482.5 L783.5,482.5 L787.5,482.5 L790.5,482.5 L794.5,482.5 L797.5,482.5 L801.5,482.5 L804.5,482.5 L808.5,482.5 L812.5,482.5 L815.5,482.5 L819.5,482.5 L822.5,482.5 L826.5,482.5 L829.5,482.5 L833.5,482.5 L837.5,482.5 L840.5,482.5 L844.5,482.5 L847.5,482.5 L851.5,482.5 L854.5,482.5 L858.5,482.5 L861.5,482.5 L865.5,482.5 L869.5,482.5 L872.5,482.5 L876.5,482.5 L879.5,482.5 L883.5,482.5 L886.5,482.5 L890.5,482.5 L894.5,482.5 L897.5,482.5 L901.5,482.5 L904.5,482.5 L908.5,482.5 L911.5,482.5 L915.5,482.5 L919.5,482.5 L922.5,482.5 L926.5,482.2 L929.5,481.3 L933.5,482.5 L936.5,482.5 L940.5,482.5 L940.5,482.5 Z" fill="#7fc0b0" clip-path="url(#cr)"/>
<g shape-rendering="crispEdges" stroke="#3030d0" stroke-width="1">
<line x1="41" y1="482.5" x2="946" y2="482.5"/>
<line x1="41" y1="531.5" x2="946" y2="531.5"/>
<line x1="41" y1="506.5" x2="946" y2="506.5" stroke-dasharray="9,3,2,3"/>
</g>
<polyline points="42.5,482.2 45.5,480.5 49.5,488.1 52.5,492.3 56.5,488.6 59.5,491.5 63.5,487.6 67.5,489.3 70.5,490.6 74.5,487.2 77.5,483.5 81.5,481.3 84.5,487.2 88.5,487.2 92.5,479.1 95.5,481.3 99.5,486.4 102.5,505.5 106.5,501.6 109.5,498.2 113.5,496.0 117.5,493.5 120.5,499.4 124.5,499.4 127.5,495.4 131.5,491.1 134.5,484.7 138.5,481.3 141.5,477.1 145.5,471.2 149.5,466.4 152.5,483.0 156.5,486.0 159.5,486.4 163.5,515.2 166.5,505.8 170.5,495.4 174.5,495.4 177.5,490.6 181.5,489.3 184.5,489.3 188.5,494.0 191.5,500.8 195.5,513.5 199.5,526.2 202.5,531.2 206.5,520.2 209.5,527.5 213.5,526.5 216.5,525.3 220.5,506.7 223.5,494.3 227.5,499.4 231.5,497.7 234.5,496.2 238.5,498.6 241.5,506.4 245.5,507.5 248.5,500.4 252.5,499.1 256.5,492.3 259.5,494.3 263.5,494.3 266.5,486.7 270.5,485.5 273.5,484.4 277.5,490.6 280.5,494.0 284.5,500.3 288.5,498.2 291.5,503.3 295.5,494.8 298.5,493.5 302.5,496.0 305.5,498.6 309.5,499.6 313.5,501.3 316.5,506.4 320.5,504.2 323.5,501.1 327.5,502.5 330.5,508.4 334.5,499.4 338.5,503.0 341.5,506.4 345.5,504.5 348.5,502.5 352.5,497.4 355.5,493.5 359.5,499.4 362.5,497.0 366.5,495.4 370.5,504.2 373.5,501.6 377.5,509.2 380.5,504.5 384.5,503.3 387.5,498.6 391.5,498.6 395.5,502.5 398.5,511.3 402.5,505.5 405.5,515.2 409.5,510.9 412.5,506.7 416.5,506.7 420.5,501.3 423.5,502.5 427.5,505.8 430.5,502.5 434.5,503.3 437.5,504.5 441.5,499.1 444.5,494.3 448.5,491.1 452.5,493.2 455.5,495.4 459.5,493.7 462.5,492.3 466.5,487.6 469.5,496.2 473.5,493.7 477.5,492.3 480.5,488.4 484.5,485.5 487.5,493.5 491.5,494.0 494.5,490.2 498.5,491.0 501.5,491.3 505.5,497.4 509.5,494.7 512.5,492.4 516.5,485.9 519.5,478.8 523.5,474.9 526.5,473.2 530.5,468.7 534.5,467.3 537.5,466.1 541.5,464.3 544.5,462.2 548.5,462.2 551.5,459.4 555.5,457.5 559.5,456.3 562.5,475.3 566.5,473.2 569.5,501.5 573.5,501.5 576.5,497.4 580.5,502.5 583.5,493.2 587.5,491.3 591.5,500.3 594.5,505.9 598.5,505.0 601.5,507.9 605.5,510.5 608.5,504.5 612.5,508.3 616.5,500.8 619.5,499.5 623.5,499.5 626.5,507.1 630.5,509.3 633.5,509.3 637.5,507.1 641.5,505.4 644.5,502.5 648.5,506.2 651.5,502.5 655.5,502.5 658.5,501.3 662.5,507.2 665.5,503.8 669.5,517.4 673.5,517.7 676.5,525.3 680.5,522.4 683.5,525.3 687.5,519.4 690.5,513.5 694.5,515.2 698.5,508.9 701.5,511.3 705.5,507.5 708.5,511.3 712.5,515.2 715.5,513.5 719.5,504.5 722.5,503.3 726.5,513.5 730.5,509.6 733.5,509.6 737.5,509.6 740.5,508.4 744.5,506.4 747.5,502.5 751.5,510.4 755.5,510.4 758.5,510.4 762.5,507.5 765.5,518.5 769.5,521.4 772.5,516.3 776.5,511.3 780.5,505.5 783.5,510.1 787.5,495.4 790.5,494.3 794.5,518.5 797.5,513.5 801.5,516.3 804.5,513.5 808.5,510.4 812.5,509.2 815.5,510.4 819.5,513.0 822.5,516.3 826.5,512.6 829.5,520.7 833.5,526.2 837.5,526.5 840.5,529.2 844.5,530.9 847.5,517.4 851.5,514.3 854.5,511.3 858.5,511.3 861.5,504.2 865.5,501.3 869.5,511.3 872.5,512.3 876.5,510.4 879.5,513.5 883.5,507.2 886.5,505.5 890.5,496.0 894.5,497.0 897.5,499.4 901.5,503.3 904.5,501.3 908.5,499.4 911.5,501.3 915.5,500.3 919.5,496.5 922.5,495.7 926.5,482.2 929.5,481.3 933.5,499.4 936.5,497.9 940.5,518.2" fill="none" stroke="#3030d0" stroke-width="1.1" stroke-linejoin="round" clip-path="url(#cr)"/>
<ellipse cx="544.6" cy="469" rx="39" ry="32.6" fill="none" stroke="#ee0000" stroke-width="2.6"/>
<rect x="40" y="589.7" width="907" height="1.4" fill="#ff0000"/>
<text x="40" y="14.1" font-size="15.4" font-weight="bold" textLength="43" lengthAdjust="spacingAndGlyphs" fill="#000">$GOLD</text>
<text x="88" y="13.2" font-size="11" textLength="160.5" lengthAdjust="spacingAndGlyphs" fill="#000">Gold - Continuous Contract (EOD)</text>
<text x="254.5" y="13.2" font-size="9" textLength="21.5" lengthAdjust="spacingAndGlyphs" fill="#000">CME</text>
<text x="40" y="25.6" font-size="10.5" textLength="52" lengthAdjust="spacingAndGlyphs" fill="#000">8-Jan-2021</text>
<text x="857" y="12.8" font-size="10.4" textLength="89.5" lengthAdjust="spacingAndGlyphs" fill="#585858">© StockCharts.com</text>
<text x="455.7" y="25.7" font-size="11" font-weight="bold" textLength="28.3" lengthAdjust="spacingAndGlyphs" fill="#000">Open</text>
<text x="488" y="25.7" font-size="10.2" textLength="37.8" lengthAdjust="spacingAndGlyphs" fill="#000">1915.20</text>
<text x="532.4" y="25.7" font-size="11" font-weight="bold" textLength="23.1" lengthAdjust="spacingAndGlyphs" fill="#000">High</text>
<text x="560" y="25.7" font-size="10.2" textLength="38.3" lengthAdjust="spacingAndGlyphs" fill="#000">1918.40</text>
<text x="604.6" y="25.7" font-size="11" font-weight="bold" textLength="23.1" lengthAdjust="spacingAndGlyphs" fill="#000">Low</text>
<text x="633" y="25.7" font-size="10.2" textLength="37.4" lengthAdjust="spacingAndGlyphs" fill="#000">1827.80</text>
<text x="677" y="25.7" font-size="11" font-weight="bold" textLength="30.4" lengthAdjust="spacingAndGlyphs" fill="#000">Close</text>
<text x="713.1" y="25.7" font-size="10.2" textLength="36.6" lengthAdjust="spacingAndGlyphs" fill="#000">1835.40</text>
<text x="757.1" y="25.7" font-size="11" font-weight="bold" textLength="41.6" lengthAdjust="spacingAndGlyphs" fill="#000">Volume</text>
<text x="803.8" y="25.7" font-size="10.2" textLength="28.8" lengthAdjust="spacingAndGlyphs" fill="#000">43.3M</text>
<text x="839.2" y="25.7" font-size="11" font-weight="bold" textLength="21" lengthAdjust="spacingAndGlyphs" fill="#000">Chg</text>
<text x="864" y="25.7" font-size="10.2" textLength="71.8" lengthAdjust="spacingAndGlyphs" fill="#000">-78.20 (-4.09%)</text>
<polygon points="939.2,21 946.2,21 942.7,25.2" fill="#990033"/>
<line x1="947" y1="404.5" x2="950" y2="404.5" stroke="#8fb4bc" stroke-width="1" shape-rendering="crispEdges"/>
<text x="951" y="406.9" font-size="9.6" textLength="22.3" lengthAdjust="spacingAndGlyphs" fill="#000">1450</text>
<line x1="947" y1="388.5" x2="950" y2="388.5" stroke="#8fb4bc" stroke-width="1" shape-rendering="crispEdges"/>
<text x="951" y="390.9" font-size="9.6" textLength="22.3" lengthAdjust="spacingAndGlyphs" fill="#000">1475</text>
<line x1="947" y1="372.5" x2="950" y2="372.5" stroke="#8fb4bc" stroke-width="1" shape-rendering="crispEdges"/>
<text x="951" y="374.9" font-size="9.6" textLength="22.3" lengthAdjust="spacingAndGlyphs" fill="#000">1500</text>
<line x1="947" y1="356.5" x2="950" y2="356.5" stroke="#8fb4bc" stroke-width="1" shape-rendering="crispEdges"/>
<text x="951" y="358.9" font-size="9.6" textLength="22.3" lengthAdjust="spacingAndGlyphs" fill="#000">1525</text>
<line x1="947" y1="340.5" x2="950" y2="340.5" stroke="#8fb4bc" stroke-width="1" shape-rendering="crispEdges"/>
<text x="951" y="342.9" font-size="9.6" textLength="22.3" lengthAdjust="spacingAndGlyphs" fill="#000">1550</text>
<line x1="947" y1="324.5" x2="950" y2="324.5" stroke="#8fb4bc" stroke-width="1" shape-rendering="crispEdges"/>
<text x="951" y="326.9" font-size="9.6" textLength="22.3" lengthAdjust="spacingAndGlyphs" fill="#000">1575</text>
<line x1="947" y1="309.5" x2="950" y2="309.5" stroke="#8fb4bc" stroke-width="1" shape-rendering="crispEdges"/>
<text x="951" y="311.9" font-size="9.6" textLength="22.3" lengthAdjust="spacingAndGlyphs" fill="#000">1600</text>
<line x1="947" y1="294.5" x2="950" y2="294.5" stroke="#8fb4bc" stroke-width="1" shape-rendering="crispEdges"/>
<text x="951" y="296.9" font-size="9.6" textLength="22.3" lengthAdjust="spacingAndGlyphs" fill="#000">1625</text>
<line x1="947" y1="279.5" x2="950" y2="279.5" stroke="#8fb4bc" stroke-width="1" shape-rendering="crispEdges"/>
<text x="951" y="281.9" font-size="9.6" textLength="22.3" lengthAdjust="spacingAndGlyphs" fill="#000">1650</text>
<line x1="947" y1="264.5" x2="950" y2="264.5" stroke="#8fb4bc" stroke-width="1" shape-rendering="crispEdges"/>
<text x="951" y="266.9" font-size="9.6" textLength="22.3" lengthAdjust="spacingAndGlyphs" fill="#000">1675</text>
<line x1="947" y1="249.5" x2="950" y2="249.5" stroke="#8fb4bc" stroke-width="1" shape-rendering="crispEdges"/>
<text x="951" y="251.9" font-size="9.6" textLength="22.3" lengthAdjust="spacingAndGlyphs" fill="#000">1700</text>
<line x1="947" y1="235.5" x2="950" y2="235.5" stroke="#8fb4bc" stroke-width="1" shape-rendering="crispEdges"/>
<text x="951" y="237.9" font-size="9.6" textLength="22.3" lengthAdjust="spacingAndGlyphs" fill="#000">1725</text>
<line x1="947" y1="221.5" x2="950" y2="221.5" stroke="#8fb4bc" stroke-width="1" shape-rendering="crispEdges"/>
<text x="951" y="223.9" font-size="9.6" textLength="22.3" lengthAdjust="spacingAndGlyphs" fill="#000">1750</text>
<line x1="947" y1="207.5" x2="950" y2="207.5" stroke="#8fb4bc" stroke-width="1" shape-rendering="crispEdges"/>
<text x="951" y="209.9" font-size="9.6" textLength="22.3" lengthAdjust="spacingAndGlyphs" fill="#000">1775</text>
<line x1="947" y1="193.5" x2="950" y2="193.5" stroke="#8fb4bc" stroke-width="1" shape-rendering="crispEdges"/>
<text x="951" y="195.9" font-size="9.6" textLength="22.3" lengthAdjust="spacingAndGlyphs" fill="#000">1800</text>
<line x1="947" y1="180.5" x2="950" y2="180.5" stroke="#8fb4bc" stroke-width="1" shape-rendering="crispEdges"/>
<text x="951" y="182.9" font-size="9.6" textLength="22.3" lengthAdjust="spacingAndGlyphs" fill="#000">1825</text>
<line x1="947" y1="167.5" x2="950" y2="167.5" stroke="#8fb4bc" stroke-width="1" shape-rendering="crispEdges"/>
<text x="951" y="169.9" font-size="9.6" textLength="22.3" lengthAdjust="spacingAndGlyphs" fill="#000">1850</text>
<line x1="947" y1="153.5" x2="950" y2="153.5" stroke="#8fb4bc" stroke-width="1" shape-rendering="crispEdges"/>
<text x="951" y="155.9" font-size="9.6" textLength="22.3" lengthAdjust="spacingAndGlyphs" fill="#000">1875</text>
<line x1="947" y1="140.5" x2="950" y2="140.5" stroke="#8fb4bc" stroke-width="1" shape-rendering="crispEdges"/>
<text x="951" y="142.9" font-size="9.6" textLength="22.3" lengthAdjust="spacingAndGlyphs" fill="#000">1900</text>
<line x1="947" y1="128.5" x2="950" y2="128.5" stroke="#8fb4bc" stroke-width="1" shape-rendering="crispEdges"/>
<text x="951" y="130.9" font-size="9.6" textLength="22.3" lengthAdjust="spacingAndGlyphs" fill="#000">1925</text>
<line x1="947" y1="115.5" x2="950" y2="115.5" stroke="#8fb4bc" stroke-width="1" shape-rendering="crispEdges"/>
<text x="951" y="117.9" font-size="9.6" textLength="22.3" lengthAdjust="spacingAndGlyphs" fill="#000">1950</text>
<line x1="947" y1="103.5" x2="950" y2="103.5" stroke="#8fb4bc" stroke-width="1" shape-rendering="crispEdges"/>
<text x="951" y="105.9" font-size="9.6" textLength="22.3" lengthAdjust="spacingAndGlyphs" fill="#000">1975</text>
<line x1="947" y1="90.5" x2="950" y2="90.5" stroke="#8fb4bc" stroke-width="1" shape-rendering="crispEdges"/>
<text x="951" y="92.9" font-size="9.6" textLength="22.3" lengthAdjust="spacingAndGlyphs" fill="#000">2000</text>
<line x1="947" y1="78.5" x2="950" y2="78.5" stroke="#8fb4bc" stroke-width="1" shape-rendering="crispEdges"/>
<text x="951" y="80.9" font-size="9.6" textLength="22.3" lengthAdjust="spacingAndGlyphs" fill="#000">2025</text>
<line x1="947" y1="66.5" x2="950" y2="66.5" stroke="#8fb4bc" stroke-width="1" shape-rendering="crispEdges"/>
<text x="951" y="68.9" font-size="9.6" textLength="22.3" lengthAdjust="spacingAndGlyphs" fill="#000">2050</text>
<line x1="947" y1="54.5" x2="950" y2="54.5" stroke="#8fb4bc" stroke-width="1" shape-rendering="crispEdges"/>
<text x="951" y="56.9" font-size="9.6" textLength="22.3" lengthAdjust="spacingAndGlyphs" fill="#000">2075</text>
<line x1="947" y1="42.5" x2="950" y2="42.5" stroke="#8fb4bc" stroke-width="1" shape-rendering="crispEdges"/>
<text x="951" y="44.9" font-size="9.6" textLength="22.3" lengthAdjust="spacingAndGlyphs" fill="#000">2100</text>
<line x1="37.5" y1="407.5" x2="40" y2="407.5" stroke="#8fb4bc" stroke-width="1" shape-rendering="crispEdges"/>
<text x="37" y="409.9" font-size="9.4" text-anchor="end" textLength="20.8" lengthAdjust="spacingAndGlyphs" fill="#000">10M</text>
<line x1="37.5" y1="391.5" x2="40" y2="391.5" stroke="#8fb4bc" stroke-width="1" shape-rendering="crispEdges"/>
<text x="37" y="394.5" font-size="9.4" text-anchor="end" textLength="20.8" lengthAdjust="spacingAndGlyphs" fill="#000">20M</text>
<line x1="37.5" y1="376.5" x2="40" y2="376.5" stroke="#8fb4bc" stroke-width="1" shape-rendering="crispEdges"/>
<text x="37" y="379.0" font-size="9.4" text-anchor="end" textLength="20.8" lengthAdjust="spacingAndGlyphs" fill="#000">30M</text>
<line x1="37.5" y1="361.5" x2="40" y2="361.5" stroke="#8fb4bc" stroke-width="1" shape-rendering="crispEdges"/>
<text x="37" y="363.6" font-size="9.4" text-anchor="end" textLength="20.8" lengthAdjust="spacingAndGlyphs" fill="#000">40M</text>
<line x1="37.5" y1="345.5" x2="40" y2="345.5" stroke="#8fb4bc" stroke-width="1" shape-rendering="crispEdges"/>
<text x="37" y="348.2" font-size="9.4" text-anchor="end" textLength="20.8" lengthAdjust="spacingAndGlyphs" fill="#000">50M</text>
<line x1="37.5" y1="330.5" x2="40" y2="330.5" stroke="#8fb4bc" stroke-width="1" shape-rendering="crispEdges"/>
<text x="37" y="332.8" font-size="9.4" text-anchor="end" textLength="20.8" lengthAdjust="spacingAndGlyphs" fill="#000">60M</text>
<line x1="37.5" y1="314.5" x2="40" y2="314.5" stroke="#8fb4bc" stroke-width="1" shape-rendering="crispEdges"/>
<text x="37" y="317.4" font-size="9.4" text-anchor="end" textLength="20.8" lengthAdjust="spacingAndGlyphs" fill="#000">70M</text>
<line x1="37.5" y1="299.5" x2="40" y2="299.5" stroke="#8fb4bc" stroke-width="1" shape-rendering="crispEdges"/>
<text x="37" y="301.9" font-size="9.4" text-anchor="end" textLength="20.8" lengthAdjust="spacingAndGlyphs" fill="#000">80M</text>
<line x1="947" y1="568.5" x2="949" y2="568.5" stroke="#8fb4bc" stroke-width="1" shape-rendering="crispEdges"/>
<line x1="947" y1="562.5" x2="949" y2="562.5" stroke="#8fb4bc" stroke-width="1" shape-rendering="crispEdges"/>
<line x1="947" y1="556.5" x2="950" y2="556.5" stroke="#8fb4bc" stroke-width="1" shape-rendering="crispEdges"/>
<line x1="947" y1="550.5" x2="949" y2="550.5" stroke="#8fb4bc" stroke-width="1" shape-rendering="crispEdges"/>
<line x1="947" y1="544.5" x2="949" y2="544.5" stroke="#8fb4bc" stroke-width="1" shape-rendering="crispEdges"/>
<line x1="947" y1="538.5" x2="949" y2="538.5" stroke="#8fb4bc" stroke-width="1" shape-rendering="crispEdges"/>
<line x1="947" y1="531.5" x2="950" y2="531.5" stroke="#8fb4bc" stroke-width="1" shape-rendering="crispEdges"/>
<line x1="947" y1="525.5" x2="949" y2="525.5" stroke="#8fb4bc" stroke-width="1" shape-rendering="crispEdges"/>
<line x1="947" y1="519.5" x2="949" y2="519.5" stroke="#8fb4bc" stroke-width="1" shape-rendering="crispEdges"/>
<line x1="947" y1="513.5" x2="949" y2="513.5" stroke="#8fb4bc" stroke-width="1" shape-rendering="crispEdges"/>
<line x1="947" y1="506.5" x2="950" y2="506.5" stroke="#8fb4bc" stroke-width="1" shape-rendering="crispEdges"/>
<line x1="947" y1="500.5" x2="949" y2="500.5" stroke="#8fb4bc" stroke-width="1" shape-rendering="crispEdges"/>
<line x1="947" y1="494.5" x2="949" y2="494.5" stroke="#8fb4bc" stroke-width="1" shape-rendering="crispEdges"/>
<line x1="947" y1="488.5" x2="949" y2="488.5" stroke="#8fb4bc" stroke-width="1" shape-rendering="crispEdges"/>
<line x1="947" y1="482.5" x2="950" y2="482.5" stroke="#8fb4bc" stroke-width="1" shape-rendering="crispEdges"/>
<line x1="947" y1="476.5" x2="949" y2="476.5" stroke="#8fb4bc" stroke-width="1" shape-rendering="crispEdges"/>
<line x1="947" y1="469.5" x2="949" y2="469.5" stroke="#8fb4bc" stroke-width="1" shape-rendering="crispEdges"/>
<line x1="947" y1="463.5" x2="949" y2="463.5" stroke="#8fb4bc" stroke-width="1" shape-rendering="crispEdges"/>
<line x1="947" y1="457.5" x2="950" y2="457.5" stroke="#8fb4bc" stroke-width="1" shape-rendering="crispEdges"/>
<line x1="947" y1="451.5" x2="949" y2="451.5" stroke="#8fb4bc" stroke-width="1" shape-rendering="crispEdges"/>
<line x1="947" y1="444.5" x2="949" y2="444.5" stroke="#8fb4bc" stroke-width="1" shape-rendering="crispEdges"/>
<text x="950.2" y="459.8" font-size="9.4" textLength="11" lengthAdjust="spacingAndGlyphs" fill="#000">90</text>
<text x="950.2" y="484.8" font-size="9.4" textLength="11" lengthAdjust="spacingAndGlyphs" fill="#000">70</text>
<text x="950.2" y="508.8" font-size="9.4" textLength="11" lengthAdjust="spacingAndGlyphs" fill="#000">50</text>
<text x="950.2" y="533.8" font-size="9.4" textLength="11" lengthAdjust="spacingAndGlyphs" fill="#000">30</text>
<text x="950.2" y="558.8" font-size="9.4" textLength="11" lengthAdjust="spacingAndGlyphs" fill="#000">10</text>
<text x="48.9" y="434.3" font-size="10.2" text-anchor="middle" textLength="10.4" lengthAdjust="spacingAndGlyphs" fill="#000">13</text>
<text x="66.9" y="434.3" font-size="10.2" text-anchor="middle" textLength="10.4" lengthAdjust="spacingAndGlyphs" fill="#000">21</text>
<text x="80.9" y="434.3" font-size="10.2" text-anchor="middle" textLength="10.4" lengthAdjust="spacingAndGlyphs" fill="#000">27</text>
<text x="99.2" y="434.3" font-size="11" text-anchor="middle" font-weight="bold" fill="#000">Feb</text>
<text x="116.9" y="434.3" font-size="10.2" text-anchor="middle" textLength="10.4" lengthAdjust="spacingAndGlyphs" fill="#000">10</text>
<text x="133.9" y="434.3" font-size="10.2" text-anchor="middle" textLength="10.4" lengthAdjust="spacingAndGlyphs" fill="#000">18</text>
<text x="148.9" y="434.3" font-size="10.2" text-anchor="middle" textLength="10.4" lengthAdjust="spacingAndGlyphs" fill="#000">24</text>
<text x="166.2" y="434.3" font-size="11" text-anchor="middle" font-weight="bold" fill="#000">Mar</text>
<text x="183.9" y="434.3" font-size="10.2" text-anchor="middle" textLength="5.3" lengthAdjust="spacingAndGlyphs" fill="#000">9</text>
<text x="201.9" y="434.3" font-size="10.2" text-anchor="middle" textLength="10.4" lengthAdjust="spacingAndGlyphs" fill="#000">16</text>
<text x="219.9" y="434.3" font-size="10.2" text-anchor="middle" textLength="10.4" lengthAdjust="spacingAndGlyphs" fill="#000">23</text>
<text x="245.2" y="434.3" font-size="11" text-anchor="middle" font-weight="bold" fill="#000">Apr</text>
<text x="269.9" y="434.3" font-size="10.2" text-anchor="middle" textLength="10.4" lengthAdjust="spacingAndGlyphs" fill="#000">13</text>
<text x="287.9" y="434.3" font-size="10.2" text-anchor="middle" textLength="10.4" lengthAdjust="spacingAndGlyphs" fill="#000">20</text>
<text x="320.1" y="434.3" font-size="11" text-anchor="middle" font-weight="bold" fill="#000">May</text>
<text x="340.9" y="434.3" font-size="10.2" text-anchor="middle" textLength="10.4" lengthAdjust="spacingAndGlyphs" fill="#000">11</text>
<text x="358.9" y="434.3" font-size="10.2" text-anchor="middle" textLength="10.4" lengthAdjust="spacingAndGlyphs" fill="#000">18</text>
<text x="376.9" y="434.3" font-size="10.2" text-anchor="middle" textLength="10.4" lengthAdjust="spacingAndGlyphs" fill="#000">26</text>
<text x="392.9" y="434.3" font-size="11" text-anchor="middle" font-weight="bold" fill="#000">Jun</text>
<text x="408.9" y="434.3" font-size="10.2" text-anchor="middle" textLength="5.3" lengthAdjust="spacingAndGlyphs" fill="#000">8</text>
<text x="426.9" y="434.3" font-size="10.2" text-anchor="middle" textLength="10.4" lengthAdjust="spacingAndGlyphs" fill="#000">15</text>
<text x="443.9" y="434.3" font-size="10.2" text-anchor="middle" textLength="10.4" lengthAdjust="spacingAndGlyphs" fill="#000">22</text>
<text x="469.1" y="434.3" font-size="11" text-anchor="middle" font-weight="bold" fill="#000">Jul</text>
<text x="493.9" y="434.3" font-size="10.2" text-anchor="middle" textLength="10.4" lengthAdjust="spacingAndGlyphs" fill="#000">13</text>
<text x="511.9" y="434.3" font-size="10.2" text-anchor="middle" textLength="10.4" lengthAdjust="spacingAndGlyphs" fill="#000">20</text>
<text x="529.9" y="434.3" font-size="10.2" text-anchor="middle" textLength="10.4" lengthAdjust="spacingAndGlyphs" fill="#000">27</text>
<text x="549.8" y="434.3" font-size="11" text-anchor="middle" font-weight="bold" fill="#000">Aug</text>
<text x="565.9" y="434.3" font-size="10.2" text-anchor="middle" textLength="10.4" lengthAdjust="spacingAndGlyphs" fill="#000">10</text>
<text x="582.9" y="434.3" font-size="10.2" text-anchor="middle" textLength="10.4" lengthAdjust="spacingAndGlyphs" fill="#000">17</text>
<text x="600.9" y="434.3" font-size="10.2" text-anchor="middle" textLength="10.4" lengthAdjust="spacingAndGlyphs" fill="#000">24</text>
<text x="623.9" y="434.3" font-size="11" text-anchor="middle" font-weight="bold" fill="#000">Sep</text>
<text x="636.9" y="434.3" font-size="10.2" text-anchor="middle" textLength="5.3" lengthAdjust="spacingAndGlyphs" fill="#000">8</text>
<text x="650.9" y="434.3" font-size="10.2" text-anchor="middle" textLength="10.4" lengthAdjust="spacingAndGlyphs" fill="#000">14</text>
<text x="668.9" y="434.3" font-size="10.2" text-anchor="middle" textLength="10.4" lengthAdjust="spacingAndGlyphs" fill="#000">21</text>
<text x="698.1" y="434.3" font-size="11" text-anchor="middle" font-weight="bold" fill="#000">Oct</text>
<text x="721.9" y="434.3" font-size="10.2" text-anchor="middle" textLength="10.4" lengthAdjust="spacingAndGlyphs" fill="#000">12</text>
<text x="739.9" y="434.3" font-size="10.2" text-anchor="middle" textLength="10.4" lengthAdjust="spacingAndGlyphs" fill="#000">19</text>
<text x="757.9" y="434.3" font-size="10.2" text-anchor="middle" textLength="10.4" lengthAdjust="spacingAndGlyphs" fill="#000">26</text>
<text x="776.1" y="434.3" font-size="11" text-anchor="middle" font-weight="bold" fill="#000">Nov</text>
<text x="793.9" y="434.3" font-size="10.2" text-anchor="middle" textLength="5.3" lengthAdjust="spacingAndGlyphs" fill="#000">9</text>
<text x="811.9" y="434.3" font-size="10.2" text-anchor="middle" textLength="10.4" lengthAdjust="spacingAndGlyphs" fill="#000">16</text>
<text x="828.9" y="434.3" font-size="10.2" text-anchor="middle" textLength="10.4" lengthAdjust="spacingAndGlyphs" fill="#000">23</text>
<text x="847.1" y="434.3" font-size="11" text-anchor="middle" font-weight="bold" fill="#000">Dec</text>
<text x="860.9" y="434.3" font-size="10.2" text-anchor="middle" textLength="5.3" lengthAdjust="spacingAndGlyphs" fill="#000">7</text>
<text x="878.9" y="434.3" font-size="10.2" text-anchor="middle" textLength="10.4" lengthAdjust="spacingAndGlyphs" fill="#000">14</text>
<text x="896.9" y="434.3" font-size="10.2" text-anchor="middle" textLength="10.4" lengthAdjust="spacingAndGlyphs" fill="#000">21</text>
<text x="926.1" y="434.3" font-size="11" text-anchor="middle" font-weight="bold" textLength="22.4" lengthAdjust="spacingAndGlyphs" fill="#000">2021</text>
<text x="48.9" y="586.2" font-size="10.2" text-anchor="middle" textLength="10.4" lengthAdjust="spacingAndGlyphs" fill="#000">13</text>
<text x="66.9" y="586.2" font-size="10.2" text-anchor="middle" textLength="10.4" lengthAdjust="spacingAndGlyphs" fill="#000">21</text>
<text x="80.9" y="586.2" font-size="10.2" text-anchor="middle" textLength="10.4" lengthAdjust="spacingAndGlyphs" fill="#000">27</text>
<text x="99.2" y="586.2" font-size="11" text-anchor="middle" font-weight="bold" fill="#000">Feb</text>
<text x="116.9" y="586.2" font-size="10.2" text-anchor="middle" textLength="10.4" lengthAdjust="spacingAndGlyphs" fill="#000">10</text>
<text x="133.9" y="586.2" font-size="10.2" text-anchor="middle" textLength="10.4" lengthAdjust="spacingAndGlyphs" fill="#000">18</text>
<text x="148.9" y="586.2" font-size="10.2" text-anchor="middle" textLength="10.4" lengthAdjust="spacingAndGlyphs" fill="#000">24</text>
<text x="166.2" y="586.2" font-size="11" text-anchor="middle" font-weight="bold" fill="#000">Mar</text>
<text x="183.9" y="586.2" font-size="10.2" text-anchor="middle" textLength="5.3" lengthAdjust="spacingAndGlyphs" fill="#000">9</text>
<text x="201.9" y="586.2" font-size="10.2" text-anchor="middle" textLength="10.4" lengthAdjust="spacingAndGlyphs" fill="#000">16</text>
<text x="219.9" y="586.2" font-size="10.2" text-anchor="middle" textLength="10.4" lengthAdjust="spacingAndGlyphs" fill="#000">23</text>
<text x="245.2" y="586.2" font-size="11" text-anchor="middle" font-weight="bold" fill="#000">Apr</text>
<text x="269.9" y="586.2" font-size="10.2" text-anchor="middle" textLength="10.4" lengthAdjust="spacingAndGlyphs" fill="#000">13</text>
<text x="287.9" y="586.2" font-size="10.2" text-anchor="middle" textLength="10.4" lengthAdjust="spacingAndGlyphs" fill="#000">20</text>
<text x="320.1" y="586.2" font-size="11" text-anchor="middle" font-weight="bold" fill="#000">May</text>
<text x="340.9" y="586.2" font-size="10.2" text-anchor="middle" textLength="10.4" lengthAdjust="spacingAndGlyphs" fill="#000">11</text>
<text x="358.9" y="586.2" font-size="10.2" text-anchor="middle" textLength="10.4" lengthAdjust="spacingAndGlyphs" fill="#000">18</text>
<text x="376.9" y="586.2" font-size="10.2" text-anchor="middle" textLength="10.4" lengthAdjust="spacingAndGlyphs" fill="#000">26</text>
<text x="392.9" y="586.2" font-size="11" text-anchor="middle" font-weight="bold" fill="#000">Jun</text>
<text x="408.9" y="586.2" font-size="10.2" text-anchor="middle" textLength="5.3" lengthAdjust="spacingAndGlyphs" fill="#000">8</text>
<text x="426.9" y="586.2" font-size="10.2" text-anchor="middle" textLength="10.4" lengthAdjust="spacingAndGlyphs" fill="#000">15</text>
<text x="443.9" y="586.2" font-size="10.2" text-anchor="middle" textLength="10.4" lengthAdjust="spacingAndGlyphs" fill="#000">22</text>
<text x="469.1" y="586.2" font-size="11" text-anchor="middle" font-weight="bold" fill="#000">Jul</text>
<text x="493.9" y="586.2" font-size="10.2" text-anchor="middle" textLength="10.4" lengthAdjust="spacingAndGlyphs" fill="#000">13</text>
<text x="511.9" y="586.2" font-size="10.2" text-anchor="middle" textLength="10.4" lengthAdjust="spacingAndGlyphs" fill="#000">20</text>
<text x="529.9" y="586.2" font-size="10.2" text-anchor="middle" textLength="10.4" lengthAdjust="spacingAndGlyphs" fill="#000">27</text>
<text x="549.8" y="586.2" font-size="11" text-anchor="middle" font-weight="bold" fill="#000">Aug</text>
<text x="565.9" y="586.2" font-size="10.2" text-anchor="middle" textLength="10.4" lengthAdjust="spacingAndGlyphs" fill="#000">10</text>
<text x="582.9" y="586.2" font-size="10.2" text-anchor="middle" textLength="10.4" lengthAdjust="spacingAndGlyphs" fill="#000">17</text>
<text x="600.9" y="586.2" font-size="10.2" text-anchor="middle" textLength="10.4" lengthAdjust="spacingAndGlyphs" fill="#000">24</text>
<text x="623.9" y="586.2" font-size="11" text-anchor="middle" font-weight="bold" fill="#000">Sep</text>
<text x="636.9" y="586.2" font-size="10.2" text-anchor="middle" textLength="5.3" lengthAdjust="spacingAndGlyphs" fill="#000">8</text>
<text x="650.9" y="586.2" font-size="10.2" text-anchor="middle" textLength="10.4" lengthAdjust="spacingAndGlyphs" fill="#000">14</text>
<text x="668.9" y="586.2" font-size="10.2" text-anchor="middle" textLength="10.4" lengthAdjust="spacingAndGlyphs" fill="#000">21</text>
<text x="698.1" y="586.2" font-size="11" text-anchor="middle" font-weight="bold" fill="#000">Oct</text>
<text x="721.9" y="586.2" font-size="10.2" text-anchor="middle" textLength="10.4" lengthAdjust="spacingAndGlyphs" fill="#000">12</text>
<text x="739.9" y="586.2" font-size="10.2" text-anchor="middle" textLength="10.4" lengthAdjust="spacingAndGlyphs" fill="#000">19</text>
<text x="757.9" y="586.2" font-size="10.2" text-anchor="middle" textLength="10.4" lengthAdjust="spacingAndGlyphs" fill="#000">26</text>
<text x="776.1" y="586.2" font-size="11" text-anchor="middle" font-weight="bold" fill="#000">Nov</text>
<text x="793.9" y="586.2" font-size="10.2" text-anchor="middle" textLength="5.3" lengthAdjust="spacingAndGlyphs" fill="#000">9</text>
<text x="811.9" y="586.2" font-size="10.2" text-anchor="middle" textLength="10.4" lengthAdjust="spacingAndGlyphs" fill="#000">16</text>
<text x="828.9" y="586.2" font-size="10.2" text-anchor="middle" textLength="10.4" lengthAdjust="spacingAndGlyphs" fill="#000">23</text>
<text x="847.1" y="586.2" font-size="11" text-anchor="middle" font-weight="bold" fill="#000">Dec</text>
<text x="860.9" y="586.2" font-size="10.2" text-anchor="middle" textLength="5.3" lengthAdjust="spacingAndGlyphs" fill="#000">7</text>
<text x="878.9" y="586.2" font-size="10.2" text-anchor="middle" textLength="10.4" lengthAdjust="spacingAndGlyphs" fill="#000">14</text>
<text x="896.9" y="586.2" font-size="10.2" text-anchor="middle" textLength="10.4" lengthAdjust="spacingAndGlyphs" fill="#000">21</text>
<text x="926.1" y="586.2" font-size="11" text-anchor="middle" font-weight="bold" textLength="22.4" lengthAdjust="spacingAndGlyphs" fill="#000">2021</text>
<polygon points="943.6,140.5 947.6,135.2 989.3,135.2 989.3,145.8 947.6,145.8" fill="#cff5f6" stroke="#e00000" stroke-width="1.3"/>
<text x="950.2" y="143.8" font-size="9.3" textLength="36" lengthAdjust="spacingAndGlyphs" fill="#000">1899.17</text>
<polygon points="943.6,155.2 947.6,149.9 989.3,149.9 989.3,160.5 947.6,160.5" fill="#cff5f6" stroke="#000090" stroke-width="1.3"/>
<text x="950.2" y="158.5" font-size="9.3" textLength="36" lengthAdjust="spacingAndGlyphs" fill="#000">1870.31</text>
<polygon points="943.6,170.3 947.6,165.0 989.3,165.0 989.3,175.6 947.6,175.6" fill="#cff5f6" stroke="#ff00ff" stroke-width="1.3"/>
<text x="950.2" y="173.6" font-size="9.3" textLength="36" lengthAdjust="spacingAndGlyphs" fill="#000">1840.78</text>
<polygon points="943.6,171.7 947.6,166.4 989.3,166.4 989.3,177.0 947.6,177.0" fill="#cff5f6" stroke="#006400" stroke-width="1.3"/>
<text x="950.2" y="175.0" font-size="9.3" textLength="36" lengthAdjust="spacingAndGlyphs" fill="#000">1839.58</text>
<polygon points="943.6,173.3 947.6,168.0 989.3,168.0 989.3,178.6 947.6,178.6" fill="#cff5f6" stroke="#000" stroke-width="1.6"/>
<text x="949.3" y="176.6" font-size="9.8" font-weight="bold" textLength="38" lengthAdjust="spacingAndGlyphs" fill="#000">1835.40</text>
<polygon points="945.6,355.8 949,351 991,351 991,360.6 949,360.6" fill="#cff5f6"/>
<text x="949.3" y="359.3" font-size="10" textLength="41" lengthAdjust="spacingAndGlyphs" fill="#000">4333060</text>
<polygon points="944.2,517.5 948.2,512.6 977.6,512.6 977.6,522.4 948.2,522.4" fill="#cff5f6" stroke="#3030d0" stroke-width="1.2"/>
<text x="949.6" y="520.8" font-size="9.3" textLength="25.6" lengthAdjust="spacingAndGlyphs" fill="#000">40.88</text>
<text x="55.8" y="39.2" font-size="10" textLength="127" lengthAdjust="spacing" fill="#000">$GOLD (Daily) 1835.40</text>
<rect x="43" y="45.8" width="9" height="2" fill="#000090" shape-rendering="crispEdges"/>
<text x="53.4" y="49.9" font-size="9.5" textLength="68.7" lengthAdjust="spacingAndGlyphs" fill="#000090" stroke="#000090" stroke-width="0.25">MA(50) 1870.31</text>
<rect x="43" y="56.5" width="9" height="2" fill="#e00000" shape-rendering="crispEdges"/>
<text x="53.4" y="60.6" font-size="9.5" textLength="74.2" lengthAdjust="spacingAndGlyphs" fill="#e00000" stroke="#e00000" stroke-width="0.25">MA(100) 1899.17</text>
<rect x="43" y="67.4" width="9" height="2" fill="#006400" shape-rendering="crispEdges"/>
<text x="53.4" y="71.5" font-size="9.5" textLength="74.2" lengthAdjust="spacingAndGlyphs" fill="#006400" stroke="#006400" stroke-width="0.25">MA(200) 1839.58</text>
<rect x="43" y="78.1" width="9" height="2" fill="#ff00ff" shape-rendering="crispEdges"/>
<text x="53.4" y="82.2" font-size="9.5" textLength="80.6" lengthAdjust="spacingAndGlyphs" fill="#ff00ff" stroke="#ff00ff" stroke-width="0.25">EMA(165) 1840.78</text>
<text x="53.4" y="93" font-size="9.5" textLength="82" lengthAdjust="spacingAndGlyphs" fill="#1272b8" stroke="#1272b8" stroke-width="0.2">Volume 43,330,600</text>
<g shape-rendering="crispEdges"><rect x="43" y="88" width="3" height="5" fill="#fde9a4"/><rect x="46" y="85" width="3" height="8" fill="#fde9a4"/><rect x="49" y="87" width="3" height="6" fill="#fde9a4"/><rect x="44" y="89" width="1" height="4" fill="#5fa6d2"/><rect x="47" y="86" width="1" height="7" fill="#5fa6d2"/><rect x="50" y="88" width="1" height="5" fill="#5fa6d2"/></g>
<g fill="#000" shape-rendering="crispEdges"><rect x="44" y="31" width="1" height="7"/><rect x="43" y="32" width="3" height="4"/><rect x="44" y="33" width="1" height="2" fill="#d8f0ee"/><rect x="46" y="34" width="3" height="4"/><rect x="47" y="38" width="1" height="1"/><rect x="50" y="31" width="1" height="8"/><rect x="49" y="32" width="3" height="6"/><rect x="50" y="33" width="1" height="4" fill="#d8f0ee"/></g>
<path d="M43.4,447.8 L47.5,439.3 L49.5,445.4 L51.5,441.2 L51.5,447.8 Z" fill="#78c0aa"/><path d="M43.4,447.8 L47.5,439.3 L49.5,445.4 L51.5,441.2 L51.5,447.8" fill="none" stroke="#2222e0" stroke-width="1.2"/>
<text x="55.8" y="448.2" font-size="10" textLength="79" lengthAdjust="spacing" fill="#000">RSI(14) 40.88</text>
<line x1="562.4" y1="47" x2="993" y2="119.3" stroke="#ff0000" stroke-width="3.3" stroke-dasharray="3.9,2.03"/>
<line x1="575.8" y1="154.6" x2="984.6" y2="244.7" stroke="#ff0000" stroke-width="3.3" stroke-dasharray="3.9,2.03"/>
<line x1="273.8" y1="198.1" x2="984.6" y2="245.2" stroke="#ff0000" stroke-width="3.3" stroke-dasharray="3.9,2.03"/>
<line x1="-3" y1="439.65" x2="987.3" y2="256.5" stroke="#ff0000" stroke-width="3.3" stroke-dasharray="3.9,2.03"/>
</svg></body></html>
